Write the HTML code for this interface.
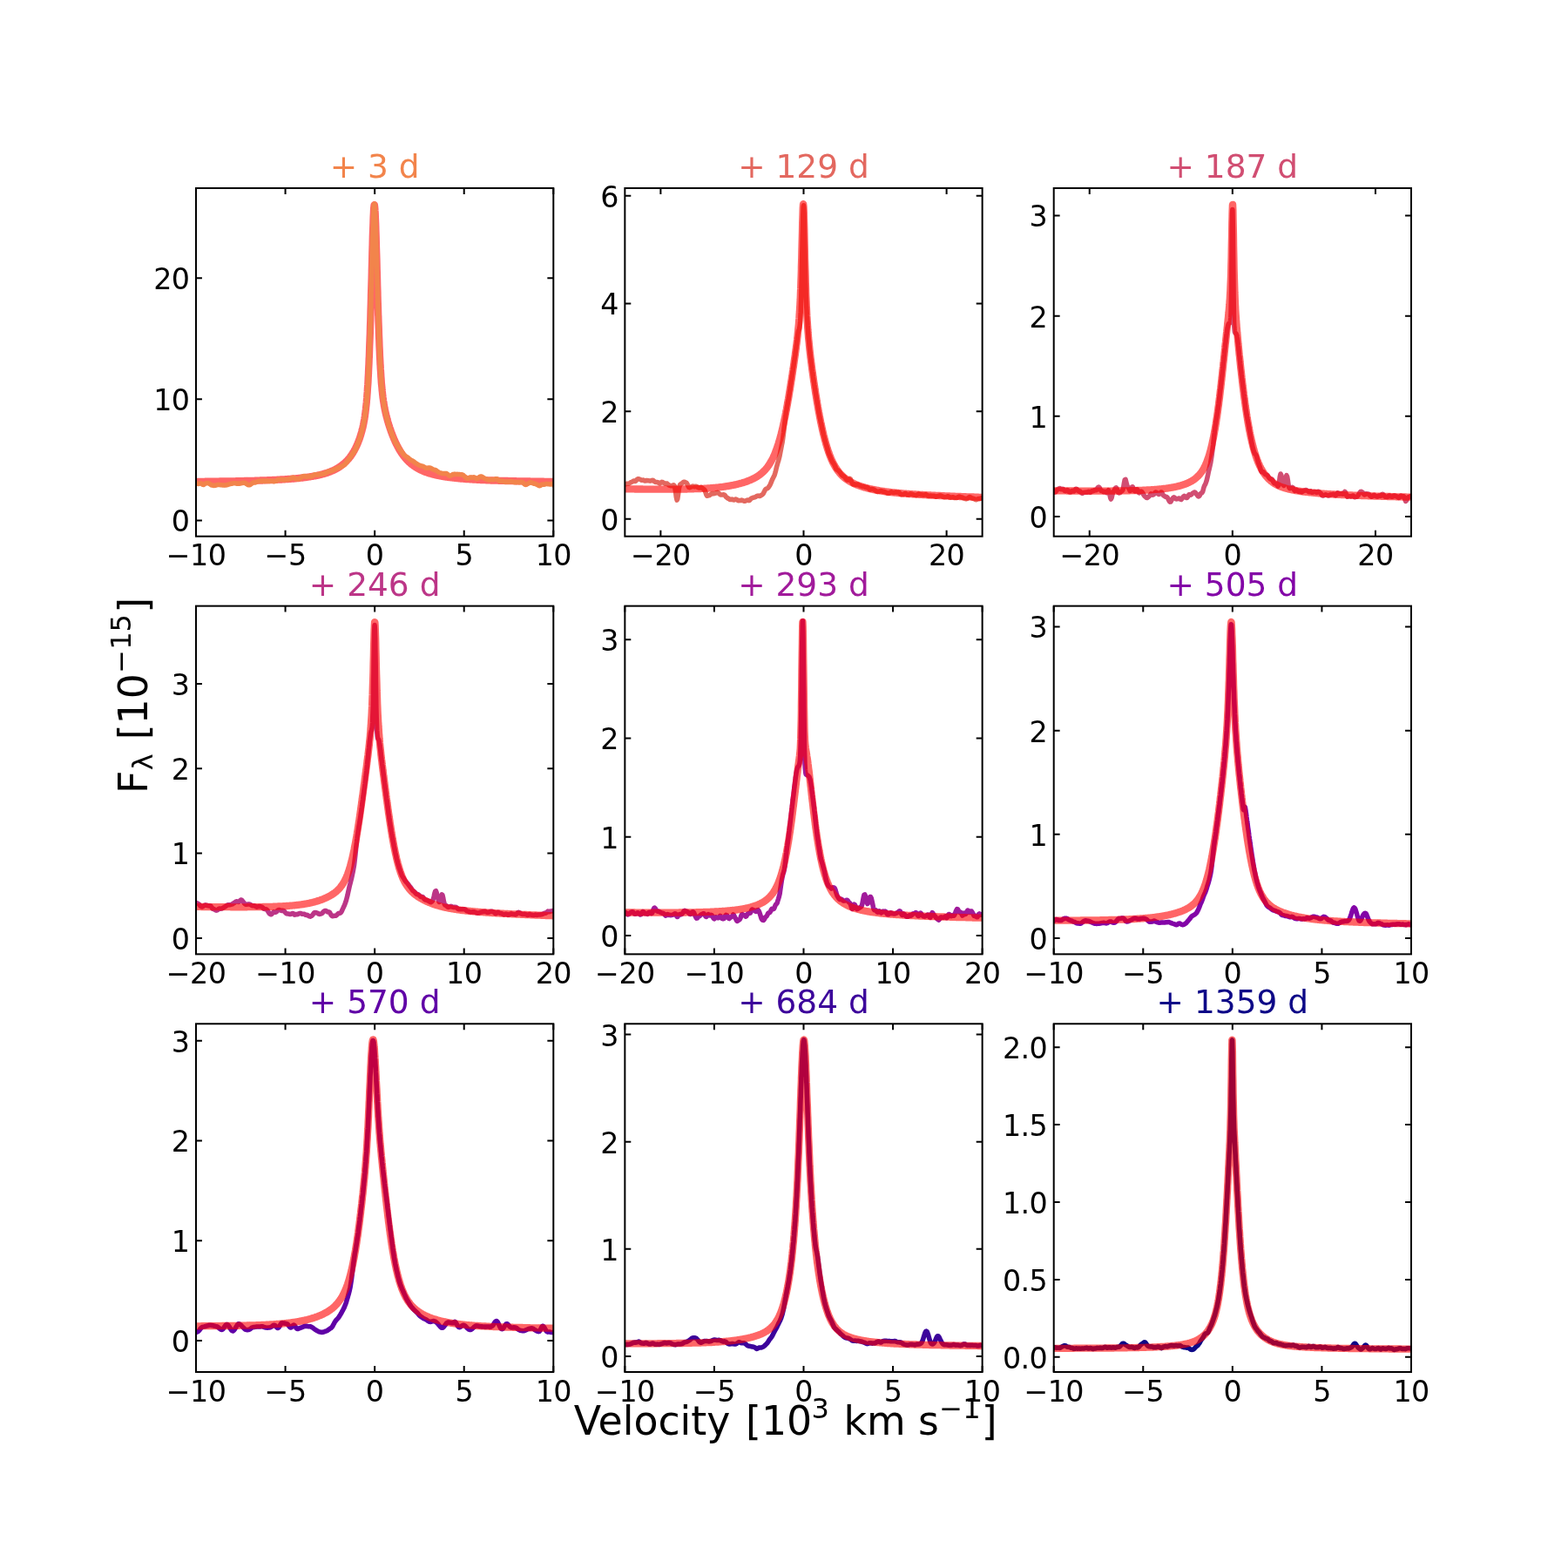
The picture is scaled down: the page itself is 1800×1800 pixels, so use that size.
<!DOCTYPE html>
<html lang="en">
<head>
<meta charset="utf-8">
<title>Line profile evolution</title>
<style>
html,body{margin:0;padding:0;background:#fff;}
body{width:1800px;height:1800px;overflow:hidden;}
svg{display:block;}
svg text{font-family:"DejaVu Sans","Liberation Sans",sans-serif;}
.tl text{font-size:33.33px;letter-spacing:-0.6px;}
.tt{font-size:37.5px;}
.lab{font-size:45.83px;}
.sup{font-size:32.08px;}
</style>
</head>
<body>
<svg xmlns="http://www.w3.org/2000/svg" width="1800" height="1800" viewBox="0 0 1800 1800">
<rect width="1800" height="1800" fill="#fff"/>
<defs><clipPath id="c0"><rect x="225" y="216" width="410.29" height="399.71"/></clipPath><clipPath id="c1"><rect x="717.35" y="216" width="410.29" height="399.71"/></clipPath><clipPath id="c2"><rect x="1209.71" y="216" width="410.29" height="399.71"/></clipPath><clipPath id="c3"><rect x="225" y="695.65" width="410.29" height="399.71"/></clipPath><clipPath id="c4"><rect x="717.35" y="695.65" width="410.29" height="399.71"/></clipPath><clipPath id="c5"><rect x="1209.71" y="695.65" width="410.29" height="399.71"/></clipPath><clipPath id="c6"><rect x="225" y="1175.29" width="410.29" height="399.71"/></clipPath><clipPath id="c7"><rect x="717.35" y="1175.29" width="410.29" height="399.71"/></clipPath><clipPath id="c8"><rect x="1209.71" y="1175.29" width="410.29" height="399.71"/></clipPath></defs>
<g class="panel">
<g clip-path="url(#c0)" fill="none" stroke-linejoin="round" stroke-linecap="square">
<polyline stroke="#f00" stroke-opacity="0.6" stroke-width="8.33" points="220.1,552.9 220.8,552.9 221.6,552.9 222.3,552.9 223.1,552.9 223.8,552.9 224.6,552.9 225.3,552.8 226.1,552.8 226.8,552.8 227.6,552.8 228.3,552.8 229.1,552.8 229.8,552.8 230.6,552.8 231.4,552.8 232.1,552.8 232.9,552.8 233.6,552.8 234.4,552.8 235.1,552.8 235.9,552.7 236.6,552.7 237.4,552.7 238.1,552.7 238.9,552.7 239.6,552.7 240.4,552.7 241.1,552.7 241.9,552.7 242.6,552.7 243.4,552.7 244.1,552.7 244.9,552.6 245.6,552.6 246.4,552.6 247.1,552.6 247.9,552.6 248.6,552.6 249.4,552.6 250.1,552.6 250.9,552.6 251.6,552.6 252.4,552.5 253.1,552.5 253.9,552.5 254.6,552.5 255.4,552.5 256.2,552.5 256.9,552.5 257.7,552.5 258.4,552.5 259.2,552.4 259.9,552.4 260.7,552.4 261.4,552.4 262.2,552.4 262.9,552.4 263.7,552.4 264.4,552.4 265.2,552.4 265.9,552.3 266.7,552.3 267.4,552.3 268.2,552.3 268.9,552.3 269.7,552.3 270.4,552.3 271.2,552.2 271.9,552.2 272.7,552.2 273.4,552.2 274.2,552.2 274.9,552.2 275.7,552.2 276.4,552.1 277.2,552.1 277.9,552.1 278.7,552.1 279.5,552.1 280.2,552.1 281,552 281.7,552 282.5,552 283.2,552 284,552 284.7,551.9 285.5,551.9 286.2,551.9 287,551.9 287.7,551.9 288.5,551.9 289.2,551.8 290,551.8 290.7,551.8 291.5,551.8 292.2,551.8 293,551.7 293.7,551.7 294.5,551.7 295.2,551.7 296,551.6 296.7,551.6 297.5,551.6 298.2,551.6 299,551.5 299.7,551.5 300.5,551.5 301.2,551.5 302,551.4 302.8,551.4 303.5,551.4 304.3,551.4 305,551.3 305.8,551.3 306.5,551.3 307.3,551.2 308,551.2 308.8,551.2 309.5,551.2 310.3,551.1 311,551.1 311.8,551.1 312.5,551 313.3,551 314,551 314.8,550.9 315.5,550.9 316.3,550.8 317,550.8 317.8,550.8 318.5,550.7 319.3,550.7 320,550.7 320.8,550.6 321.5,550.6 322.3,550.5 323,550.5 323.8,550.4 324.5,550.4 325.3,550.3 326.1,550.3 326.8,550.3 327.6,550.2 328.3,550.2 329.1,550.1 329.8,550.1 330.6,550 331.3,549.9 332.1,549.9 332.8,549.8 333.6,549.8 334.3,549.7 335.1,549.7 335.8,549.6 336.6,549.5 337.3,549.5 338.1,549.4 338.8,549.3 339.6,549.3 340.3,549.2 341.1,549.1 341.8,549.1 342.6,549 343.3,548.9 344.1,548.8 344.8,548.7 345.6,548.7 346.3,548.6 347.1,548.5 347.8,548.4 348.6,548.3 349.4,548.2 350.1,548.1 350.9,548 351.6,547.9 352.4,547.8 353.1,547.7 353.9,547.6 354.6,547.5 355.4,547.4 356.1,547.3 356.9,547.1 357.6,547 358.4,546.9 359.1,546.8 359.9,546.6 360.6,546.5 361.4,546.4 362.1,546.2 362.9,546.1 363.6,545.9 364.4,545.8 365.1,545.6 365.9,545.4 366.6,545.3 367.4,545.1 368.1,544.9 368.9,544.7 369.6,544.5 370.4,544.3 371.1,544.1 371.9,543.9 372.7,543.7 373.4,543.4 374.2,543.2 374.9,543 375.7,542.7 376.4,542.5 377.2,542.2 377.9,541.9 378.7,541.6 379.4,541.3 380.2,541 380.9,540.7 381.7,540.4 382.4,540.1 383.2,539.7 383.9,539.3 384.7,539 385.4,538.6 386.2,538.2 386.9,537.7 387.7,537.3 388.4,536.9 389.2,536.4 389.9,535.9 390.7,535.4 391.4,534.8 392.2,534.3 392.9,533.7 393.7,533.1 394.4,532.5 395.2,531.8 395.9,531.2 396.7,530.4 397.5,529.7 398.2,528.9 399,528.1 399.7,527.3 400.5,526.4 401.2,525.5 402,524.5 402.7,523.5 403.5,522.4 404.2,521.3 405,520.1 405.7,518.9 406.5,517.6 407.2,516.2 408,514.8 408.7,513.3 409.5,511.7 409.6,511.3 409.9,510.8 410.1,510.2 410.2,510 410.4,509.6 410.7,509 410.9,508.4 411,508.2 411.2,507.7 411.4,507.1 411.7,506.4 411.7,506.3 411.9,505.7 412.2,505 412.5,504.3 412.5,504.2 412.7,503.6 413,502.9 413.2,502.1 413.2,502.1 413.5,501.3 413.7,500.5 414,499.7 414,499.7 414.2,498.9 414.5,498 414.7,497.2 414.8,497.1 415,496.2 415.3,495.3 415.5,494.5 415.5,494.3 415.8,493.3 416,492.3 416.2,491.5 416.3,491.3 416.6,490.2 416.8,489 417,488.2 417.1,487.8 417.3,486.6 417.6,485.3 417.7,484.4 417.8,483.9 418.1,482.5 418.4,481 418.5,480.1 418.6,479.4 418.9,477.8 419.1,476 419.2,475.1 419.4,474.1 419.6,472.1 419.9,470 420,469 420.1,467.7 420.4,465.2 420.7,462.6 420.8,461.6 420.9,459.8 421.2,456.8 421.4,453.5 421.5,452.5 421.7,450 421.9,446.3 422.2,442.3 422.3,441.3 422.5,437.9 422.7,433.3 423,428.3 423,427.5 423.2,422.9 423.5,417.2 423.7,411.2 423.8,410.6 424,404.7 424.2,397.9 424.5,390.6 424.5,390.5 424.8,383 425,375 425.3,367 425.3,366.6 425.5,357.9 425.8,348.8 426,340.6 426,339.5 426.3,329.9 426.6,320.2 426.8,312.2 426.8,310.3 427.1,300.5 427.3,290.8 427.5,283.8 427.6,281.4 427.8,272.4 428.1,264 428.3,258.8 428.4,256.4 428.6,249.6 428.9,244 429,241.3 429.1,239.7 429.4,236.8 429.6,235.4 429.8,235.2 429.9,235.4 430.1,237 430.4,240.1 430.5,242 430.7,244.5 430.9,250.1 431.2,256.7 431.3,259.6 431.4,264.2 431.7,272.4 431.9,281.2 432,284.1 432.2,290.2 432.5,299.5 432.7,308.9 432.8,311.3 433,318.2 433.2,327.5 433.5,336.5 433.5,338.2 433.7,345.3 434,353.8 434.2,362 434.3,362.9 434.5,369.8 434.8,377.3 435,384.3 435,384.7 435.3,391 435.5,397.4 435.8,403.2 435.8,403.3 436,408.9 436.3,414.1 436.5,418.6 436.6,419 436.8,423.5 437.1,427.7 437.3,431.1 437.3,431.7 437.6,435.3 437.8,438.7 438,441.2 438.1,441.8 438.4,444.8 438.6,447.5 438.8,449.3 438.9,450 439.1,452.4 439.4,454.6 439.5,455.9 439.6,456.6 439.9,458.5 440.1,460.3 440.3,461.3 440.4,462.1 440.7,463.7 440.9,465.2 441,465.9 441.2,466.6 441.4,468 441.7,469.3 441.8,469.9 441.9,470.6 442.2,471.8 442.5,473 442.5,473.4 442.7,474.1 443,475.2 443.2,476.3 443.3,476.6 443.5,477.3 443.7,478.3 444,479.3 444.1,479.5 444.3,480.3 444.5,481.2 444.8,482.2 444.8,482.3 445,483.1 445.3,484 445.5,484.8 445.6,484.9 445.8,485.7 446,486.5 446.3,487.4 446.3,487.4 446.6,488.2 446.8,489 447.1,489.8 447.1,489.8 447.3,490.6 447.6,491.4 447.8,492 447.8,492.1 448.1,492.9 448.4,493.6 448.6,494.2 448.6,494.4 448.9,495.1 449.1,495.8 449.3,496.3 449.4,496.5 449.6,497.2 449.9,497.9 450.1,498.3 450.1,498.5 450.4,499.2 450.7,499.9 450.8,500.3 451.6,502.1 452.3,503.9 453.1,505.6 453.8,507.3 454.6,508.9 455.3,510.4 456.1,511.9 456.8,513.3 457.6,514.7 458.3,516 459.1,517.3 459.8,518.5 460.6,519.7 461.3,520.8 462.1,521.9 462.8,522.9 463.6,523.9 464.3,524.8 465.1,525.7 465.8,526.6 466.6,527.5 467.4,528.3 468.1,529 468.9,529.8 469.6,530.5 470.4,531.2 471.1,531.8 471.9,532.5 472.6,533.1 473.4,533.7 474.1,534.2 474.9,534.8 475.6,535.3 476.4,535.8 477.1,536.3 477.9,536.8 478.6,537.2 479.4,537.7 480.1,538.1 480.9,538.5 481.6,538.9 482.4,539.3 483.1,539.6 483.9,540 484.6,540.3 485.4,540.6 486.1,541 486.9,541.3 487.6,541.6 488.4,541.8 489.1,542.1 489.9,542.4 490.7,542.7 491.4,542.9 492.2,543.1 492.9,543.4 493.7,543.6 494.4,543.8 495.2,544 495.9,544.3 496.7,544.5 497.4,544.7 498.2,544.8 498.9,545 499.7,545.2 500.4,545.4 501.2,545.5 501.9,545.7 502.7,545.9 503.4,546 504.2,546.2 504.9,546.3 505.7,546.5 506.4,546.6 507.2,546.7 507.9,546.9 508.7,547 509.4,547.1 510.2,547.2 510.9,547.4 511.7,547.5 512.4,547.6 513.2,547.7 513.9,547.8 514.7,547.9 515.5,548 516.2,548.1 517,548.2 517.7,548.3 518.5,548.4 519.2,548.5 520,548.6 520.7,548.7 521.5,548.7 522.2,548.8 523,548.9 523.7,549 524.5,549.1 525.2,549.1 526,549.2 526.7,549.3 527.5,549.3 528.2,549.4 529,549.5 529.7,549.5 530.5,549.6 531.2,549.7 532,549.7 532.7,549.8 533.5,549.8 534.2,549.9 535,550 535.7,550 536.5,550.1 537.2,550.1 538,550.2 538.8,550.2 539.5,550.3 540.3,550.3 541,550.4 541.8,550.4 542.5,550.5 543.3,550.5 544,550.6 544.8,550.6 545.5,550.6 546.3,550.7 547,550.7 547.8,550.8 548.5,550.8 549.3,550.8 550,550.9 550.8,550.9 551.5,551 552.3,551 553,551 553.8,551.1 554.5,551.1 555.3,551.1 556,551.2 556.8,551.2 557.5,551.2 558.3,551.3 559,551.3 559.8,551.3 560.5,551.3 561.3,551.4 562.1,551.4 562.8,551.4 563.6,551.5 564.3,551.5 565.1,551.5 565.8,551.5 566.6,551.6 567.3,551.6 568.1,551.6 568.8,551.6 569.6,551.7 570.3,551.7 571.1,551.7 571.8,551.7 572.6,551.8 573.3,551.8 574.1,551.8 574.8,551.8 575.6,551.8 576.3,551.9 577.1,551.9 577.8,551.9 578.6,551.9 579.3,551.9 580.1,552 580.8,552 581.6,552 582.3,552 583.1,552 583.8,552.1 584.6,552.1 585.4,552.1 586.1,552.1 586.9,552.1 587.6,552.1 588.4,552.2 589.1,552.2 589.9,552.2 590.6,552.2 591.4,552.2 592.1,552.2 592.9,552.3 593.6,552.3 594.4,552.3 595.1,552.3 595.9,552.3 596.6,552.3 597.4,552.3 598.1,552.4 598.9,552.4 599.6,552.4 600.4,552.4 601.1,552.4 601.9,552.4 602.6,552.4 603.4,552.5 604.1,552.5 604.9,552.5 605.6,552.5 606.4,552.5 607.1,552.5 607.9,552.5 608.7,552.5 609.4,552.6 610.2,552.6 610.9,552.6 611.7,552.6 612.4,552.6 613.2,552.6 613.9,552.6 614.7,552.6 615.4,552.6 616.2,552.7 616.9,552.7 617.7,552.7 618.4,552.7 619.2,552.7 619.9,552.7 620.7,552.7 621.4,552.7 622.2,552.7 622.9,552.7 623.7,552.7 624.4,552.8 625.2,552.8 625.9,552.8 626.7,552.8 627.4,552.8 628.2,552.8 628.9,552.8 629.7,552.8 630.4,552.8 631.2,552.8 632,552.8 632.7,552.9 633.5,552.9 634.2,552.9 635,552.9 635.7,552.9 636.5,552.9 637.2,552.9 638,552.9 638.7,552.9 639.5,552.9 640.2,552.9"/>
<polyline stroke="#f2844b" stroke-width="5.56" points="220.1,555.3 220.8,555.2 221.6,555.3 222.3,555.4 223.1,555.5 223.8,555.6 224.6,555.5 225.3,555.4 226.1,555.3 226.8,555.3 227.6,555.4 228.3,555.3 229.1,555.2 229.8,555 230.6,554.9 231.4,555.3 232.1,555.8 232.9,556.3 233.6,556.4 234.4,556 235.1,555.5 235.9,555 236.6,554.7 237.4,554.7 238.1,554.6 238.9,554.6 239.6,554.8 240.4,555.2 241.1,555.8 241.9,556.4 242.6,556.8 243.4,557 244.1,557.2 244.9,557.3 245.6,557.4 246.4,557.3 247.1,557.2 247.9,557 248.6,556.8 249.4,556.6 250.1,556.4 250.9,556.4 251.6,556.5 252.4,556.6 253.1,556.7 253.9,556.8 254.6,556.8 255.4,556.9 256.2,557 256.9,557 257.7,557.1 258.4,557 259.2,556.9 259.9,556.8 260.7,556.7 261.4,556.5 262.2,556.2 262.9,555.9 263.7,555.7 264.4,555.5 265.2,555.3 265.9,555.2 266.7,555 267.4,554.9 268.2,554.7 268.9,554.7 269.7,554.7 270.4,554.9 271.2,555.1 271.9,555.2 272.7,555.1 273.4,555.1 274.2,555.1 274.9,555.2 275.7,555.1 276.4,554.9 277.2,554.7 277.9,554.5 278.7,554.4 279.5,554.3 280.2,554.3 281,554.4 281.7,554.7 282.5,555.2 283.2,555.7 284,556.2 284.7,556.6 285.5,556.8 286.2,556.7 287,556.5 287.7,556.1 288.5,555.5 289.2,555 290,554.4 290.7,554.1 291.5,554 292.2,553.9 293,553.9 293.7,553.6 294.5,553.3 295.2,553 296,552.7 296.7,552.5 297.5,552.3 298.2,552.2 299,552.2 299.7,552.2 300.5,552.2 301.2,552.1 302,552.1 302.8,552.2 303.5,552.4 304.3,552.4 305,552.2 305.8,552 306.5,552 307.3,552.2 308,552.4 308.8,552.5 309.5,552.4 310.3,552.3 311,552.1 311.8,552.1 312.5,552.2 313.3,552.4 314,552.6 314.8,552.7 315.5,552.6 316.3,552.4 317,552.1 317.8,551.6 318.5,551.1 319.3,550.7 320,550.6 320.8,550.5 321.5,550.5 322.3,550.5 323,550.5 323.8,550.5 324.5,550.6 325.3,550.8 326.1,550.9 326.8,550.9 327.6,550.7 328.3,550.5 329.1,550.4 329.8,550.5 330.6,550.5 331.3,550.3 332.1,550 332.8,549.6 333.6,549.3 334.3,548.9 335.1,548.5 335.8,548.2 336.6,548.2 337.3,548.6 338.1,549 338.8,549.4 339.6,549.6 340.3,549.7 341.1,549.8 341.8,549.9 342.6,549.9 343.3,549.7 344.1,549.3 344.8,548.8 345.6,548.1 346.3,547.6 347.1,547.1 347.8,546.8 348.6,546.5 349.4,546.5 350.1,546.7 350.9,547.1 351.6,547.4 352.4,547.4 353.1,547.1 353.9,546.8 354.6,546.6 355.4,546.7 356.1,547 356.9,547.1 357.6,547 358.4,546.7 359.1,546.1 359.9,545.7 360.6,545.2 361.4,544.9 362.1,544.7 362.9,544.8 363.6,545 364.4,545.1 365.1,545.1 365.9,544.8 366.6,544.5 367.4,544.3 368.1,544.2 368.9,544.1 369.6,544.1 370.4,544.1 371.1,544 371.9,543.9 372.7,543.7 373.4,543.3 374.2,542.9 374.9,542.3 375.7,541.8 376.4,541.4 377.2,541.2 377.9,541 378.7,541 379.4,541 380.2,540.8 380.9,540.5 381.7,540.2 382.4,539.7 383.2,539.3 383.9,538.9 384.7,538.6 385.4,538.3 386.2,538 386.9,537.7 387.7,537.3 388.4,537 389.2,536.8 389.9,536.5 390.7,536.2 391.4,535.8 392.2,535.4 392.9,535 393.7,534.6 394.4,534.2 395.2,533.7 395.9,533 396.7,532.1 397.5,531.2 398.2,530.2 399,529.2 399.7,528.2 400.5,527.2 401.2,526.2 402,525.1 402.7,524 403.5,522.8 404.2,521.7 405,520.6 405.7,519.6 406.5,518.6 407.2,517.4 408,516 408.7,514.3 409.5,512.4 409.6,512 409.9,511.3 410.1,510.6 410.2,510.4 410.4,509.9 410.7,509.3 410.9,508.6 411,508.4 411.2,507.9 411.4,507.3 411.7,506.6 411.7,506.5 411.9,506 412.2,505.3 412.5,504.6 412.5,504.5 412.7,503.9 413,503.2 413.2,502.4 413.2,502.3 413.5,501.6 413.7,500.8 414,499.9 414,499.9 414.2,499 414.5,498.1 414.7,497.2 414.8,497.2 415,496.2 415.3,495.2 415.5,494.4 415.5,494.2 415.8,493.2 416,492.2 416.2,491.4 416.3,491.1 416.6,490 416.8,488.9 417,488.1 417.1,487.7 417.3,486.5 417.6,485.2 417.7,484.4 417.8,483.9 418.1,482.5 418.4,480.9 418.5,480 418.6,479.3 418.9,477.6 419.1,475.8 419.2,474.9 419.4,473.9 419.6,471.9 419.9,469.7 420,468.8 420.1,467.4 420.4,465 420.7,462.3 420.8,461.3 420.9,459.5 421.2,456.5 421.4,453.3 421.5,452.3 421.7,449.8 421.9,446 422.2,442 422.3,441.1 422.5,437.7 422.7,433 423,428.1 423,427.3 423.2,422.8 423.5,417.1 423.7,411 423.8,410.5 424,404.6 424.2,397.8 424.5,390.6 424.5,390.4 424.8,383 425,375 425.3,367 425.3,366.6 425.5,357.8 425.8,348.8 426,340.6 426,339.4 426.3,329.8 426.6,320 426.8,312 426.8,310.2 427.1,300.3 427.3,290.5 427.5,283.4 427.6,281 427.8,271.9 428.1,263.4 428.3,258 428.4,255.6 428.6,248.8 428.9,243.1 429,240.3 429.1,238.7 429.4,235.7 429.6,234.3 429.8,234.1 429.9,234.4 430.1,236 430.4,239.1 430.5,241 430.7,243.5 430.9,249.2 431.2,256 431.3,258.9 431.4,263.6 431.7,271.9 431.9,280.7 432,283.7 432.2,289.9 432.5,299.2 432.7,308.7 432.8,311.1 433,318.1 433.2,327.4 433.5,336.4 433.5,338.1 433.7,345.3 434,353.8 434.2,362 434.3,363 434.5,369.9 434.8,377.4 435,384.5 435,384.9 435.3,391.2 435.5,397.6 435.8,403.5 435.8,403.6 436,409.2 436.3,414.4 436.5,418.9 436.6,419.3 436.8,423.8 437.1,428 437.3,431.3 437.3,431.9 437.6,435.6 437.8,438.9 438,441.4 438.1,442 438.4,444.9 438.6,447.6 438.8,449.4 438.9,450.1 439.1,452.4 439.4,454.6 439.5,455.9 439.6,456.6 439.9,458.5 440.1,460.3 440.3,461.2 440.4,461.9 440.7,463.5 440.9,465 441,465.8 441.2,466.5 441.4,467.9 441.7,469.2 441.8,469.8 441.9,470.5 442.2,471.8 442.5,473 442.5,473.4 442.7,474.2 443,475.3 443.2,476.5 443.3,476.8 443.5,477.6 443.7,478.7 444,479.8 444.1,480 444.3,480.8 444.5,481.9 444.8,482.9 444.8,483 445,483.8 445.3,484.8 445.5,485.7 445.6,485.8 445.8,486.6 446,487.5 446.3,488.3 446.3,488.3 446.6,489.2 446.8,489.9 447.1,490.7 447.1,490.7 447.3,491.4 447.6,492.1 447.8,492.7 447.8,492.8 448.1,493.5 448.4,494.1 448.6,494.7 448.6,494.8 448.9,495.4 449.1,496.1 449.3,496.6 449.4,496.8 449.6,497.5 449.9,498.2 450.1,498.6 450.1,498.8 450.4,499.5 450.7,500.2 450.8,500.6 451.6,502.6 452.3,504.4 453.1,506.1 453.8,507.6 454.6,508.8 455.3,509.8 456.1,510.8 456.8,512 457.6,513.3 458.3,514.7 459.1,516 459.8,516.9 460.6,517.8 461.3,518.7 462.1,519.8 462.8,520.9 463.6,521.9 464.3,522.7 465.1,523.3 465.8,523.9 466.6,524.3 467.4,524.7 468.1,525.2 468.9,525.9 469.6,526.5 470.4,527.2 471.1,527.7 471.9,528.2 472.6,528.6 473.4,528.9 474.1,529.3 474.9,529.8 475.6,530.4 476.4,531.1 477.1,531.7 477.9,532.1 478.6,532.5 479.4,533 480.1,533.4 480.9,533.8 481.6,534.1 482.4,534.4 483.1,534.7 483.9,534.9 484.6,535.1 485.4,535.2 486.1,535.5 486.9,536 487.6,536.5 488.4,536.9 489.1,537.2 489.9,537.3 490.7,537.2 491.4,537.1 492.2,537 492.9,537 493.7,537.1 494.4,537.3 495.2,537.7 495.9,538.2 496.7,538.7 497.4,539 498.2,539.2 498.9,539.3 499.7,539.6 500.4,539.9 501.2,540.4 501.9,540.9 502.7,541.5 503.4,542.1 504.2,542.5 504.9,542.8 505.7,542.9 506.4,543 507.2,543.3 507.9,543.5 508.7,543.6 509.4,543.6 510.2,543.5 510.9,543.5 511.7,543.5 512.4,543.6 513.2,544 513.9,544.5 514.7,545.2 515.5,545.8 516.2,546.1 517,546.1 517.7,545.8 518.5,545.4 519.2,544.9 520,544.5 520.7,544.4 521.5,544.3 522.2,544.4 523,544.4 523.7,544.5 524.5,544.4 525.2,544.4 526,544.5 526.7,544.5 527.5,544.6 528.2,544.7 529,544.7 529.7,544.7 530.5,544.9 531.2,545.2 532,545.7 532.7,546.4 533.5,547 534.2,547.7 535,548.3 535.7,548.8 536.5,549.2 537.2,549.2 538,548.9 538.8,548.4 539.5,548 540.3,547.9 541,548 541.8,548.2 542.5,548.1 543.3,547.9 544,547.8 544.8,548.1 545.5,548.5 546.3,549.1 547,549.4 547.8,549.4 548.5,549 549.3,548.4 550,547.8 550.8,547.3 551.5,547 552.3,547 553,547.2 553.8,547.5 554.5,548 555.3,548.6 556,549.1 556.8,549.4 557.5,549.7 558.3,549.9 559,550.2 559.8,550.5 560.5,550.8 561.3,551 562.1,550.9 562.8,550.7 563.6,550.5 564.3,550.5 565.1,550.6 565.8,550.7 566.6,550.7 567.3,550.4 568.1,550.1 568.8,549.8 569.6,549.7 570.3,549.8 571.1,550.2 571.8,550.9 572.6,551.6 573.3,552.2 574.1,552.4 574.8,552.4 575.6,552.2 576.3,552.2 577.1,552.3 577.8,552.7 578.6,553 579.3,553.2 580.1,553.2 580.8,553 581.6,552.9 582.3,553 583.1,553.2 583.8,553.3 584.6,553.2 585.4,552.9 586.1,552.7 586.9,552.6 587.6,552.8 588.4,553 589.1,553.3 589.9,553.5 590.6,553.7 591.4,553.8 592.1,553.8 592.9,553.6 593.6,553.5 594.4,553.5 595.1,553.6 595.9,553.7 596.6,553.7 597.4,553.6 598.1,553.4 598.9,553.4 599.6,553.6 600.4,554.1 601.1,554.8 601.9,555.6 602.6,556.2 603.4,556.4 604.1,556.3 604.9,555.8 605.6,555.4 606.4,555.1 607.1,554.7 607.9,554.2 608.7,553.8 609.4,553.7 610.2,553.9 610.9,554.3 611.7,554.7 612.4,555 613.2,555.2 613.9,555.3 614.7,555.5 615.4,555.8 616.2,556.2 616.9,556.6 617.7,557 618.4,557.4 619.2,557.7 619.9,557.6 620.7,557.2 621.4,556.6 622.2,556.2 622.9,556.1 623.7,556.2 624.4,556.3 625.2,556.1 625.9,555.9 626.7,555.6 627.4,555.5 628.2,555.6 628.9,555.7 629.7,555.7 630.4,555.8 631.2,555.9 632,555.9 632.7,555.8 633.5,555.6 634.2,555.6 635,556.1 635.7,557 636.5,557.9 637.2,558.3 638,558.2 638.7,557.7 639.5,557.2 640.2,556.8"/>
</g>
<path d="M225 615.71v-6.94M225 216v6.94M327.57 615.71v-6.94M327.57 216v6.94M430.15 615.71v-6.94M430.15 216v6.94M532.72 615.71v-6.94M532.72 216v6.94M635.29 615.71v-6.94M635.29 216v6.94M225 597.51h6.94M635.29 597.51h-6.94M225 458.33h6.94M635.29 458.33h-6.94M225 319.14h6.94M635.29 319.14h-6.94" stroke="#000" stroke-width="2" fill="none"/>
<rect x="225" y="216" width="410.29" height="399.71" fill="none" stroke="#000" stroke-width="2"/>
<g class="tl" text-anchor="middle">
<text x="225" y="649.21">−10</text>
<text x="327.57" y="649.21">−5</text>
<text x="430.15" y="649.21">0</text>
<text x="532.72" y="649.21">5</text>
<text x="635.29" y="649.21">10</text>
</g>
<g class="tl" text-anchor="end">
<text x="217.4" y="610.41">0</text>
<text x="217.4" y="471.23">10</text>
<text x="217.4" y="332.04">20</text>
</g>
<text class="tt" text-anchor="middle" x="430.15" y="204" fill="#f2844b">+ 3 d</text>
</g>
<g class="panel">
<g clip-path="url(#c1)" fill="none" stroke-linejoin="round" stroke-linecap="square">
<polyline stroke="#e3685f" stroke-width="5.56" points="712.4,555.6 713.2,555.5 713.9,555.5 714.7,555.6 715.4,555.5 716.2,555.6 716.9,555.7 717.7,555.8 718.4,555.7 719.2,555.4 719.9,555.2 720.7,555.2 721.4,555.2 722.2,555 723,554.5 723.7,554 724.5,553.6 725.2,553.3 726,552.9 726.7,552.4 727.5,552 728.2,552.2 729,552.5 729.7,552.2 730.5,551.4 731.2,550.5 732,549.9 732.7,549.7 733.5,549.9 734.2,550.2 735,550.5 735.7,550.8 736.5,551.2 737.2,551.3 738,551.1 738.7,551.1 739.5,551.6 740.2,552 741,552 741.7,551.6 742.5,551.5 743.2,551.6 744,551.8 744.7,551.8 745.5,551.9 746.3,552.1 747,552 747.8,551.7 748.5,551.4 749.3,551.3 750,551.6 750.8,552.3 751.5,553 752.3,553.3 753,553.4 753.8,553.5 754.5,553.6 755.3,553.8 756,554.3 756.8,554.9 757.5,555 758.3,554.4 759,553.7 759.8,553.3 760.5,553.5 761.3,553.9 762,554.3 762.8,554.8 763.5,555.1 764.3,555.1 765,555 765.8,555.1 766.5,555.8 767.3,556.5 768,557 768.8,557.3 769.6,557.5 770.3,557.8 771.1,557.8 771.8,557.5 772.6,557 773.3,556.8 774.1,557.5 774.8,560 775.6,564.8 776.3,570.7 777.1,574.1 777.8,572.6 778.6,567.2 779.3,561.4 780.1,557.8 780.8,556.2 781.6,555.6 782.3,555.2 783.1,554.6 783.8,554 784.6,553.4 785.3,553.2 786.1,553.3 786.8,553.7 787.6,554.1 788.3,554.6 789.1,556 789.8,557.8 790.6,559.3 791.3,559.7 792.1,559.5 792.9,559.2 793.6,558.8 794.4,558.3 795.1,558.1 795.9,558.3 796.6,558.6 797.4,558.7 798.1,558.4 798.9,558.3 799.6,558.4 800.4,558.9 801.1,559.4 801.9,559.8 802.6,560 803.4,559.9 804.1,559.6 804.9,559.4 805.6,559.8 806.4,560.5 807.1,561.1 807.9,561.6 808.6,562.2 809.4,563.4 810.1,565.7 810.9,568.1 811.6,569.2 812.4,569 813.1,568.9 813.9,568.7 814.6,568.5 815.4,567.9 816.1,567.3 816.9,566.8 817.7,566.6 818.4,566.7 819.2,566.7 819.9,566.6 820.7,566.4 821.4,566.2 822.2,565.9 822.9,565.6 823.7,565.4 824.4,565.6 825.2,566.3 825.9,567 826.7,567.6 827.4,567.9 828.2,568 828.9,568 829.7,567.9 830.4,567.8 831.2,567.9 831.9,568.3 832.7,569.3 833.4,570.3 834.2,571 834.9,571.6 835.7,572.1 836.4,572.4 837.2,572.9 837.9,573.4 838.7,573.5 839.4,573.3 840.2,573.1 841,573.4 841.7,573.8 842.5,573.9 843.2,573.6 844,573.2 844.7,573.1 845.5,573.4 846.2,574 847,574.5 847.7,574.7 848.5,574.5 849.2,574.5 850,574.6 850.7,574.4 851.5,574.1 852.2,574.3 853,574.7 853.7,575 854.5,575.2 855.2,575.2 856,574.9 856.7,574.6 857.5,574.2 858.2,574.1 859,574.2 859.7,574.6 860.5,574.4 861.2,573.5 862,572.4 862.7,571.9 863.5,571.7 864.3,571.4 865,571.1 865.8,570.9 866.5,570.8 867.3,570.5 868,570 868.8,569.6 869.5,569.3 870.3,569.1 871,569.3 871.8,569.5 872.5,569.3 873.3,568.8 874,568.4 874.8,568.1 875.5,567.4 876.3,566.4 877,565 877.8,563.4 878.5,562 879.3,561.3 880,561 880.8,560.7 881.5,560.2 882.3,559.3 883,558.2 883.8,557 884.5,555.6 885.3,553.7 886,551.8 886.8,550 887.6,548.4 888.3,547 889.1,545.4 889.8,543.1 890.6,540.2 891.3,537 892.1,534.1 892.8,531.5 893.6,529 894.3,526.3 895.1,523 895.8,519.2 896.6,515.2 897.3,511.4 898.1,507.7 898.8,502.8 899.6,496.6 900.3,489.9 901.1,483.2 901.8,477.1 902,475.9 902.2,474.2 902.5,472.5 902.6,472 902.8,471 903,469.7 903.3,468.3 903.3,468 903.5,467 903.8,465.6 904,464.2 904.1,464 904.3,462.8 904.5,461.4 904.8,460 904.8,459.8 905.1,458.5 905.3,457 905.6,455.4 905.6,455.3 905.8,453.8 906.1,452.2 906.3,450.6 906.3,450.6 906.6,448.9 906.9,447.2 907.1,445.7 907.1,445.5 907.4,443.8 907.6,442.1 907.8,440.6 907.9,440.4 908.1,438.6 908.4,436.9 908.6,435.6 908.7,435.2 908.9,433.5 909.2,431.8 909.3,430.6 909.4,430.1 909.7,428.5 909.9,426.8 910.1,425.7 910.2,425.1 910.4,423.5 910.7,421.8 910.9,420.8 911,420 911.2,418.3 911.5,416.5 911.6,415.6 911.7,414.7 912,412.9 912.2,411.1 912.4,410.3 912.5,409.3 912.8,407.4 913,405.6 913.1,404.9 913.3,403.7 913.5,401.8 913.8,399.9 913.9,399.3 914,398 914.3,396 914.6,394 914.6,393.5 914.8,391.9 915.1,389.9 915.3,387.9 915.4,387.5 915.6,385.9 915.8,384 916.1,382.4 916.1,382.3 916.3,381.1 916.6,380.1 916.9,379.4 916.9,379.4 917.1,378.8 917.4,378.2 917.6,377.3 917.6,377.3 917.9,376 918.1,374.3 918.4,372.1 918.4,371.8 918.7,368.4 918.9,364 919.1,359.4 919.2,358.2 919.4,351.1 919.7,342.5 919.9,335.1 919.9,332.4 920.2,321 920.4,308.6 920.6,299.9 920.7,295.6 921,282.6 921.2,270.1 921.4,263.1 921.5,258.8 921.7,249.2 922,241.9 922.1,239 922.2,237.2 922.5,235.8 922.8,237.8 922.9,240 923,243.3 923.3,251.8 923.5,262.4 923.6,267.1 923.8,274.6 924,287.3 924.3,300 924.4,304.1 924.6,312.1 924.8,323.1 925.1,332.7 925.1,335 925.3,340.9 925.6,347.7 925.8,353.1 925.9,354 926.1,357.5 926.3,361.2 926.6,365.1 926.6,365.6 926.9,369.2 927.1,373.4 927.4,377.4 927.4,377.6 927.6,381.1 927.9,384.4 928.1,387.4 928.1,387.5 928.4,390.4 928.7,393.1 928.9,395.4 928.9,395.7 929.2,398.2 929.4,400.6 929.6,402.6 929.7,402.9 929.9,405.2 930.2,407.5 930.4,409.1 930.4,409.6 930.7,411.7 931,413.8 931.1,415.2 931.2,415.8 931.5,417.8 931.7,419.7 931.9,421 932,421.7 932.2,423.6 932.5,425.5 932.6,426.6 932.8,427.4 933,429.3 933.3,431.2 933.4,432.1 933.5,433.1 933.8,434.9 934,436.6 934.1,437.4 934.3,438.4 934.6,440.1 934.8,441.7 934.9,442.3 935.1,443.3 935.3,444.9 935.6,446.5 935.7,447 935.8,448.1 936.1,449.7 936.3,451.3 936.4,451.7 936.6,452.9 936.9,454.5 937.1,456.1 937.2,456.3 937.4,457.6 937.6,459.2 937.9,460.7 937.9,460.9 938.1,462.3 938.4,463.8 938.7,465.4 938.7,465.4 938.9,467 939.2,468.6 939.4,470 939.4,470.1 939.7,471.7 939.9,473.1 940.2,474.4 940.2,474.6 940.5,476 940.7,477.3 940.9,478.3 941,478.5 941.2,479.7 941.5,480.8 941.7,481.7 941.7,482 942,483.1 942.2,484.3 942.4,485 942.5,485.4 942.8,486.6 943,487.9 943.2,488.7 943.9,492.4 944.7,495.8 945.4,499.1 946.2,502.2 946.9,505.1 947.7,507.7 948.4,510.2 949.2,512.8 949.9,515.4 950.7,518.1 951.4,520.6 952.2,522.4 952.9,524 953.7,525.7 954.4,527.6 955.2,529.3 955.9,530.5 956.7,531.6 957.4,532.8 958.2,534.3 959,536.2 959.7,537.9 960.5,538.9 961.2,539.4 962,540 962.7,540.6 963.5,541.3 964.2,542.1 965,543.3 965.7,544.4 966.5,545.3 967.2,546 968,546.4 968.7,546.8 969.5,547.4 970.2,548.4 971,549.5 971.7,550.4 972.5,551 973.2,551.2 974,550.9 974.7,550.1 975.5,549.4 976.2,549.8 977,551.5 977.7,553.5 978.5,555.1 979.2,555.9 980,555.9 980.7,555.8 981.5,556 982.3,556.4 983,556.4 983.8,556.1 984.5,556 985.3,556.3 986,556.9 986.8,557.3 987.5,557.6 988.3,557.8 989,558.2 989.8,558.5 990.5,558.6 991.3,558.4 992,558.5 992.8,559 993.5,559.5 994.3,559.6 995,559.6 995.8,559.6 996.5,560.1 997.3,560.9 998,561.6 998.8,562 999.5,561.9 1000.3,561.6 1001,561.4 1001.8,561.5 1002.5,561.8 1003.3,562.1 1004,562.6 1004.8,563.1 1005.6,563.6 1006.3,564.1 1007.1,564.4 1007.8,564.3 1008.6,564.3 1009.3,564.2 1010.1,563.8 1010.8,563.5 1011.6,563.5 1012.3,563.8 1013.1,564.2 1013.8,564.4 1014.6,564.4 1015.3,564.5 1016.1,564.9 1016.8,565.1 1017.6,565.5 1018.3,565.9 1019.1,566.3 1019.8,566.4 1020.6,566.2 1021.3,565.7 1022.1,565.2 1022.8,564.8 1023.6,564.8 1024.3,565.2 1025.1,565.5 1025.8,565.6 1026.6,565.5 1027.3,565.2 1028.1,565.1 1028.9,565.1 1029.6,565.3 1030.4,565.4 1031.1,565.3 1031.9,565.3 1032.6,565.9 1033.4,566.8 1034.1,567.6 1034.9,567.8 1035.6,567.7 1036.4,567.5 1037.1,567.4 1037.9,567 1038.6,566.6 1039.4,566.5 1040.1,566.9 1040.9,567.4 1041.6,567.8 1042.4,568 1043.1,567.9 1043.9,567.5 1044.6,567.1 1045.4,567.1 1046.1,567.2 1046.9,567.3 1047.6,567.5 1048.4,567.8 1049.1,568 1049.9,568.2 1050.6,568.2 1051.4,568.4 1052.1,568.5 1052.9,568.2 1053.7,567.6 1054.4,567.1 1055.2,567.1 1055.9,567.5 1056.7,567.8 1057.4,567.9 1058.2,567.9 1058.9,568.1 1059.7,568.2 1060.4,568.2 1061.2,568 1061.9,567.9 1062.7,567.7 1063.4,567.9 1064.2,568.4 1064.9,569 1065.7,569.5 1066.4,569.5 1067.2,569.3 1067.9,569 1068.7,569.1 1069.4,569.2 1070.2,569.2 1070.9,569.3 1071.7,569.4 1072.4,569.4 1073.2,569.7 1073.9,570.1 1074.7,570.1 1075.4,569.8 1076.2,569.7 1077,569.6 1077.7,569.3 1078.5,569.1 1079.2,569 1080,569.1 1080.7,569.3 1081.5,569.7 1082.2,570.1 1083,570.5 1083.7,570.7 1084.5,570.6 1085.2,570.5 1086,570.5 1086.7,570.3 1087.5,569.9 1088.2,569.7 1089,570 1089.7,570.7 1090.5,571.1 1091.2,571.2 1092,571.1 1092.7,570.9 1093.5,570.8 1094.2,570.8 1095,571.1 1095.7,571.5 1096.5,571.5 1097.2,571.5 1098,571.5 1098.7,571.3 1099.5,570.8 1100.3,570.3 1101,570.1 1101.8,570.3 1102.5,570.6 1103.3,570.8 1104,570.9 1104.8,571.2 1105.5,571.6 1106.3,571.9 1107,572.2 1107.8,572.5 1108.5,572.7 1109.3,572.7 1110,572.4 1110.8,572.1 1111.5,571.6 1112.3,571 1113,570.6 1113.8,570.7 1114.5,571.2 1115.3,571.7 1116,571.9 1116.8,572.1 1117.5,572.4 1118.3,572.7 1119,573.1 1119.8,573.5 1120.5,573.7 1121.3,573.6 1122,573.1 1122.8,572.6 1123.6,572.6 1124.3,572.6 1125.1,572.3 1125.8,572 1126.6,571.7 1127.3,571.7 1128.1,571.8 1128.8,571.7 1129.6,571.9 1130.3,572.5 1131.1,573.3 1131.8,573.9 1132.6,574.1"/>
<polyline stroke="#f00" stroke-opacity="0.6" stroke-width="8.33" points="712.4,561.3 713.2,561.3 713.9,561.3 714.7,561.3 715.4,561.3 716.2,561.3 716.9,561.3 717.7,561.3 718.4,561.3 719.2,561.3 719.9,561.4 720.7,561.4 721.4,561.4 722.2,561.4 723,561.4 723.7,561.4 724.5,561.4 725.2,561.4 726,561.4 726.7,561.4 727.5,561.4 728.2,561.4 729,561.5 729.7,561.5 730.5,561.5 731.2,561.5 732,561.5 732.7,561.5 733.5,561.5 734.2,561.5 735,561.5 735.7,561.5 736.5,561.5 737.2,561.5 738,561.5 738.7,561.6 739.5,561.6 740.2,561.6 741,561.6 741.7,561.6 742.5,561.6 743.2,561.6 744,561.6 744.7,561.6 745.5,561.6 746.3,561.6 747,561.6 747.8,561.6 748.5,561.6 749.3,561.6 750,561.6 750.8,561.6 751.5,561.6 752.3,561.6 753,561.6 753.8,561.6 754.5,561.7 755.3,561.7 756,561.7 756.8,561.7 757.5,561.7 758.3,561.7 759,561.7 759.8,561.7 760.5,561.7 761.3,561.7 762,561.7 762.8,561.7 763.5,561.7 764.3,561.7 765,561.7 765.8,561.7 766.5,561.7 767.3,561.7 768,561.7 768.8,561.7 769.6,561.7 770.3,561.7 771.1,561.7 771.8,561.6 772.6,561.6 773.3,561.6 774.1,561.6 774.8,561.6 775.6,561.6 776.3,561.6 777.1,561.6 777.8,561.6 778.6,561.6 779.3,561.6 780.1,561.6 780.8,561.6 781.6,561.6 782.3,561.6 783.1,561.5 783.8,561.5 784.6,561.5 785.3,561.5 786.1,561.5 786.8,561.5 787.6,561.5 788.3,561.5 789.1,561.4 789.8,561.4 790.6,561.4 791.3,561.4 792.1,561.4 792.9,561.4 793.6,561.3 794.4,561.3 795.1,561.3 795.9,561.3 796.6,561.2 797.4,561.2 798.1,561.2 798.9,561.2 799.6,561.1 800.4,561.1 801.1,561.1 801.9,561.1 802.6,561 803.4,561 804.1,561 804.9,560.9 805.6,560.9 806.4,560.9 807.1,560.8 807.9,560.8 808.6,560.7 809.4,560.7 810.1,560.6 810.9,560.6 811.6,560.6 812.4,560.5 813.1,560.5 813.9,560.4 814.6,560.4 815.4,560.3 816.1,560.2 816.9,560.2 817.7,560.1 818.4,560.1 819.2,560 819.9,559.9 820.7,559.9 821.4,559.8 822.2,559.7 822.9,559.6 823.7,559.6 824.4,559.5 825.2,559.4 825.9,559.3 826.7,559.2 827.4,559.2 828.2,559.1 828.9,559 829.7,558.9 830.4,558.8 831.2,558.7 831.9,558.6 832.7,558.5 833.4,558.3 834.2,558.2 834.9,558.1 835.7,558 836.4,557.9 837.2,557.7 837.9,557.6 838.7,557.5 839.4,557.3 840.2,557.2 841,557 841.7,556.9 842.5,556.7 843.2,556.6 844,556.4 844.7,556.3 845.5,556.1 846.2,555.9 847,555.7 847.7,555.5 848.5,555.3 849.2,555.1 850,554.9 850.7,554.7 851.5,554.5 852.2,554.3 853,554.1 853.7,553.8 854.5,553.6 855.2,553.4 856,553.1 856.7,552.8 857.5,552.6 858.2,552.3 859,552 859.7,551.7 860.5,551.4 861.2,551.1 862,550.8 862.7,550.4 863.5,550.1 864.3,549.7 865,549.4 865.8,549 866.5,548.6 867.3,548.2 868,547.7 868.8,547.3 869.5,546.8 870.3,546.3 871,545.8 871.8,545.3 872.5,544.7 873.3,544.1 874,543.5 874.8,542.9 875.5,542.2 876.3,541.5 877,540.8 877.8,540 878.5,539.2 879.3,538.3 880,537.4 880.8,536.5 881.5,535.4 882.3,534.4 883,533.3 883.8,532.1 884.5,530.8 885.3,529.5 886,528.1 886.8,526.6 887.6,525.1 888.3,523.4 889.1,521.7 889.8,519.9 890.6,517.9 891.3,515.9 892.1,513.8 892.8,511.6 893.6,509.2 894.3,506.7 895.1,504.2 895.8,501.5 896.6,498.6 897.3,495.7 898.1,492.6 898.8,489.4 899.6,486 900.3,482.5 901.1,478.9 901.8,475.2 902,474.4 902.2,473 902.5,471.7 902.6,471.3 902.8,470.4 903,469 903.3,467.6 903.3,467.3 903.5,466.2 903.8,464.8 904,463.4 904.1,463.1 904.3,462 904.5,460.5 904.8,459 904.8,458.9 905.1,457.6 905.3,456.1 905.6,454.6 905.6,454.5 905.8,453 906.1,451.5 906.3,450 906.3,449.9 906.6,448.4 906.9,446.8 907.1,445.4 907.1,445.2 907.4,443.6 907.6,442 907.8,440.7 907.9,440.4 908.1,438.8 908.4,437.1 908.6,435.9 908.7,435.5 908.9,433.8 909.2,432.1 909.3,431 909.4,430.5 909.7,428.8 909.9,427.1 910.1,426 910.2,425.3 910.4,423.6 910.7,421.9 910.9,420.9 911,420.1 911.2,418.4 911.5,416.6 911.6,415.7 911.7,414.8 912,413 912.2,411.2 912.4,410.4 912.5,409.4 912.8,407.6 913,405.7 913.1,405 913.3,403.8 913.5,401.9 913.8,400 913.9,399.4 914,398 914.3,396 914.6,394 914.6,393.5 914.8,391.9 915.1,389.7 915.3,387.5 915.4,387.1 915.6,385.2 915.8,382.8 916.1,380.3 916.1,380.1 916.3,377.7 916.6,374.9 916.9,372 916.9,371.9 917.1,368.9 917.4,365.5 917.6,362.1 917.6,361.9 917.9,357.9 918.1,353.6 918.4,349.4 918.4,348.8 918.7,343.6 918.9,337.7 919.1,332.5 919.2,331.2 919.4,324 919.7,316 919.9,309.5 919.9,307.2 920.2,297.5 920.4,287.2 920.6,279.9 920.7,276.4 921,265.5 921.2,255.1 921.4,249.4 921.5,246 921.7,239 922,235 922.1,234.2 922.2,234.4 922.5,237.3 922.8,243.5 922.9,247.3 923,252.1 923.3,262.5 923.5,273.6 923.6,278.1 923.8,285 924,296 924.3,306.4 924.4,309.6 924.6,316 924.8,324.8 925.1,332.7 925.1,334.6 925.3,339.9 925.6,346.4 925.8,352.3 925.9,353.3 926.1,357.6 926.3,362.5 926.6,366.9 926.6,367.5 926.9,371.1 927.1,374.9 927.4,378.4 927.4,378.6 927.6,381.7 927.9,384.8 928.1,387.7 928.1,387.8 928.4,390.6 928.7,393.3 928.9,395.6 928.9,395.9 929.2,398.3 929.4,400.7 929.6,402.7 929.7,403.1 929.9,405.3 930.2,407.5 930.4,409.2 930.4,409.7 930.7,411.8 931,413.9 931.1,415.3 931.2,415.9 931.5,417.9 931.7,419.9 931.9,421.1 932,421.8 932.2,423.8 932.5,425.7 932.6,426.7 932.8,427.5 933,429.4 933.3,431.2 933.4,432.1 933.5,433 933.8,434.8 934,436.6 934.1,437.4 934.3,438.4 934.6,440.1 934.8,441.8 934.9,442.4 935.1,443.5 935.3,445.2 935.6,446.9 935.7,447.4 935.8,448.6 936.1,450.2 936.3,451.8 936.4,452.2 936.6,453.4 936.9,455 937.1,456.6 937.2,456.9 937.4,458.2 937.6,459.7 937.9,461.3 937.9,461.4 938.1,462.8 938.4,464.3 938.7,465.8 938.7,465.8 938.9,467.2 939.2,468.7 939.4,470 939.4,470.1 939.7,471.5 939.9,472.9 940.2,474.1 940.2,474.3 940.5,475.7 940.7,477 940.9,478.1 941,478.4 941.2,479.7 941.5,481 941.7,482 941.7,482.3 942,483.6 942.2,484.8 942.4,485.6 942.5,486.1 942.8,487.3 943,488.5 943.2,489.2 943.9,492.6 944.7,495.9 945.4,499 946.2,502 946.9,504.9 947.7,507.7 948.4,510.3 949.2,512.8 949.9,515.2 950.7,517.5 951.4,519.6 952.2,521.7 952.9,523.6 953.7,525.5 954.4,527.3 955.2,528.9 955.9,530.5 956.7,532 957.4,533.4 958.2,534.8 959,536.1 959.7,537.3 960.5,538.4 961.2,539.5 962,540.6 962.7,541.5 963.5,542.5 964.2,543.4 965,544.2 965.7,545 966.5,545.8 967.2,546.5 968,547.2 968.7,547.8 969.5,548.5 970.2,549.1 971,549.6 971.7,550.2 972.5,550.7 973.2,551.2 974,551.7 974.7,552.2 975.5,552.6 976.2,553 977,553.5 977.7,553.9 978.5,554.2 979.2,554.6 980,555 980.7,555.3 981.5,555.7 982.3,556 983,556.3 983.8,556.6 984.5,556.9 985.3,557.2 986,557.5 986.8,557.7 987.5,558 988.3,558.2 989,558.5 989.8,558.7 990.5,559 991.3,559.2 992,559.4 992.8,559.6 993.5,559.8 994.3,560 995,560.2 995.8,560.4 996.5,560.6 997.3,560.8 998,561 998.8,561.2 999.5,561.3 1000.3,561.5 1001,561.7 1001.8,561.8 1002.5,562 1003.3,562.1 1004,562.3 1004.8,562.4 1005.6,562.6 1006.3,562.7 1007.1,562.8 1007.8,563 1008.6,563.1 1009.3,563.2 1010.1,563.4 1010.8,563.5 1011.6,563.6 1012.3,563.7 1013.1,563.8 1013.8,563.9 1014.6,564 1015.3,564.2 1016.1,564.3 1016.8,564.4 1017.6,564.5 1018.3,564.6 1019.1,564.6 1019.8,564.7 1020.6,564.8 1021.3,564.9 1022.1,565 1022.8,565.1 1023.6,565.2 1024.3,565.3 1025.1,565.4 1025.8,565.4 1026.6,565.5 1027.3,565.6 1028.1,565.7 1028.9,565.7 1029.6,565.8 1030.4,565.9 1031.1,566 1031.9,566 1032.6,566.1 1033.4,566.2 1034.1,566.2 1034.9,566.3 1035.6,566.4 1036.4,566.4 1037.1,566.5 1037.9,566.6 1038.6,566.6 1039.4,566.7 1040.1,566.7 1040.9,566.8 1041.6,566.9 1042.4,566.9 1043.1,567 1043.9,567 1044.6,567.1 1045.4,567.1 1046.1,567.2 1046.9,567.2 1047.6,567.3 1048.4,567.3 1049.1,567.4 1049.9,567.4 1050.6,567.5 1051.4,567.5 1052.1,567.6 1052.9,567.6 1053.7,567.7 1054.4,567.7 1055.2,567.8 1055.9,567.8 1056.7,567.9 1057.4,567.9 1058.2,567.9 1058.9,568 1059.7,568 1060.4,568.1 1061.2,568.1 1061.9,568.2 1062.7,568.2 1063.4,568.2 1064.2,568.3 1064.9,568.3 1065.7,568.4 1066.4,568.4 1067.2,568.4 1067.9,568.5 1068.7,568.5 1069.4,568.6 1070.2,568.6 1070.9,568.6 1071.7,568.7 1072.4,568.7 1073.2,568.7 1073.9,568.8 1074.7,568.8 1075.4,568.9 1076.2,568.9 1077,568.9 1077.7,569 1078.5,569 1079.2,569 1080,569.1 1080.7,569.1 1081.5,569.1 1082.2,569.2 1083,569.2 1083.7,569.2 1084.5,569.3 1085.2,569.3 1086,569.3 1086.7,569.4 1087.5,569.4 1088.2,569.4 1089,569.5 1089.7,569.5 1090.5,569.5 1091.2,569.6 1092,569.6 1092.7,569.6 1093.5,569.6 1094.2,569.7 1095,569.7 1095.7,569.7 1096.5,569.8 1097.2,569.8 1098,569.8 1098.7,569.9 1099.5,569.9 1100.3,569.9 1101,569.9 1101.8,570 1102.5,570 1103.3,570 1104,570.1 1104.8,570.1 1105.5,570.1 1106.3,570.1 1107,570.2 1107.8,570.2 1108.5,570.2 1109.3,570.3 1110,570.3 1110.8,570.3 1111.5,570.3 1112.3,570.4 1113,570.4 1113.8,570.4 1114.5,570.4 1115.3,570.5 1116,570.5 1116.8,570.5 1117.5,570.5 1118.3,570.6 1119,570.6 1119.8,570.6 1120.5,570.7 1121.3,570.7 1122,570.7 1122.8,570.7 1123.6,570.8 1124.3,570.8 1125.1,570.8 1125.8,570.8 1126.6,570.9 1127.3,570.9 1128.1,570.9 1128.8,570.9 1129.6,571 1130.3,571 1131.1,571 1131.8,571 1132.6,571.1"/>
</g>
<path d="M758.38 615.71v-6.94M758.38 216v6.94M922.5 615.71v-6.94M922.5 216v6.94M1086.62 615.71v-6.94M1086.62 216v6.94M717.35 595.85h6.94M1127.65 595.85h-6.94M717.35 472.14h6.94M1127.65 472.14h-6.94M717.35 348.43h6.94M1127.65 348.43h-6.94M717.35 224.72h6.94M1127.65 224.72h-6.94" stroke="#000" stroke-width="2" fill="none"/>
<rect x="717.35" y="216" width="410.29" height="399.71" fill="none" stroke="#000" stroke-width="2"/>
<g class="tl" text-anchor="middle">
<text x="758.38" y="649.21">−20</text>
<text x="922.5" y="649.21">0</text>
<text x="1086.62" y="649.21">20</text>
</g>
<g class="tl" text-anchor="end">
<text x="709.75" y="608.75">0</text>
<text x="709.75" y="485.04">2</text>
<text x="709.75" y="361.33">4</text>
<text x="709.75" y="237.62">6</text>
</g>
<text class="tt" text-anchor="middle" x="922.5" y="204" fill="#e3685f">+ 129 d</text>
</g>
<g class="panel">
<g clip-path="url(#c2)" fill="none" stroke-linejoin="round" stroke-linecap="square">
<polyline stroke="#d14e72" stroke-width="5.56" points="1204.8,565.4 1205.5,565.6 1206.3,564.5 1207,562.4 1207.8,561.1 1208.5,561.7 1209.3,563.3 1210,564.6 1210.8,565.1 1211.5,564.9 1212.3,563.9 1213,562.9 1213.8,562.1 1214.6,561.7 1215.3,561.2 1216.1,560.7 1216.8,560.6 1217.6,561.3 1218.3,561.8 1219.1,561.5 1219.8,561.2 1220.6,561.6 1221.3,562.5 1222.1,563.3 1222.8,563.7 1223.6,563.7 1224.3,563 1225.1,562.5 1225.8,562.8 1226.6,563.8 1227.3,564.7 1228.1,565 1228.8,564.9 1229.6,564.6 1230.3,563.8 1231.1,563.2 1231.8,563.5 1232.6,564 1233.3,563.5 1234.1,562.4 1234.8,561.5 1235.6,561.3 1236.3,561.8 1237.1,562.7 1237.9,563.6 1238.6,564.1 1239.4,563.9 1240.1,564.1 1240.9,564.9 1241.6,565.9 1242.4,566.4 1243.1,566.2 1243.9,565.5 1244.6,565.2 1245.4,565.3 1246.1,565.2 1246.9,565.1 1247.6,565.3 1248.4,565.3 1249.1,564.6 1249.9,564.2 1250.6,564.8 1251.4,565.4 1252.1,565 1252.9,564.1 1253.6,563.5 1254.4,563.5 1255.1,563.6 1255.9,563.2 1256.6,562.5 1257.4,562.4 1258.1,562.8 1258.9,562.4 1259.6,560.9 1260.4,559.5 1261.2,559 1261.9,559.5 1262.7,560.9 1263.4,562.5 1264.2,563.5 1264.9,563.6 1265.7,563.7 1266.4,564.4 1267.2,564.8 1267.9,564.4 1268.7,564.2 1269.4,564.8 1270.2,565.6 1270.9,565.3 1271.7,563.8 1272.4,562.8 1273.2,564.1 1273.9,567.6 1274.7,571.5 1275.4,573 1276.2,571.1 1276.9,567.8 1277.7,565.3 1278.4,563.9 1279.2,562.8 1279.9,561.5 1280.7,560.1 1281.4,559.8 1282.2,561.3 1282.9,563.7 1283.7,565.4 1284.5,565.9 1285.2,565.8 1286,565.4 1286.7,564.5 1287.5,563.8 1288.2,563.5 1289,562.3 1289.7,558.9 1290.5,554.3 1291.2,550.8 1292,550.3 1292.7,552.8 1293.5,556.2 1294.2,558.4 1295,559.5 1295.7,560.5 1296.5,562 1297.2,563.4 1298,563.1 1298.7,561.1 1299.5,558.9 1300.2,558.8 1301,560.5 1301.7,562.4 1302.5,563.6 1303.2,563.9 1304,563 1304.7,561.8 1305.5,561.8 1306.2,563.4 1307,565.2 1307.8,565.8 1308.5,565.2 1309.3,564.3 1310,564.1 1310.8,564.6 1311.5,565.6 1312.3,566.8 1313,568.3 1313.8,569.3 1314.5,569.9 1315.3,570.6 1316,571.3 1316.8,571.5 1317.5,571.1 1318.3,570.5 1319,569.9 1319.8,569.1 1320.5,567.8 1321.3,566.9 1322,567.1 1322.8,567.8 1323.5,568.1 1324.3,567.7 1325,566.8 1325.8,565.7 1326.5,565.1 1327.3,565.2 1328,565.6 1328.8,566.3 1329.5,567.1 1330.3,567.5 1331.1,567.2 1331.8,566.2 1332.6,565.2 1333.3,565 1334.1,566 1334.8,567.5 1335.6,568.7 1336.3,569.2 1337.1,569.7 1337.8,570.2 1338.6,570.3 1339.3,570.5 1340.1,571.2 1340.8,572.4 1341.6,573.9 1342.3,575.3 1343.1,576.2 1343.8,576 1344.6,574.9 1345.3,573.4 1346.1,572.3 1346.8,571.4 1347.6,570.9 1348.3,571.1 1349.1,571.9 1349.8,572.7 1350.6,572.9 1351.3,572.7 1352.1,572.5 1352.8,572.2 1353.6,572 1354.3,572.4 1355.1,573.2 1355.9,573.5 1356.6,572.8 1357.4,571.8 1358.1,570.6 1358.9,569.7 1359.6,569.4 1360.4,569.9 1361.1,570.7 1361.9,571.4 1362.6,571.5 1363.4,570.5 1364.1,569 1364.9,567.9 1365.6,567.9 1366.4,568.3 1367.1,568.1 1367.9,567.5 1368.6,566.6 1369.4,566 1370.1,565.7 1370.9,565.2 1371.6,565 1372.4,565.6 1373.1,566.8 1373.9,567.8 1374.6,568.7 1375.4,569.6 1376.1,569.9 1376.9,569.3 1377.6,567.9 1378.4,566.5 1379.2,565.9 1379.9,565.6 1380.7,564.3 1381.4,561.6 1382.2,558.8 1382.9,557.1 1383.7,555.8 1384.4,553.9 1385.2,551.5 1385.9,548.5 1386.7,544.9 1387.4,541.3 1388.2,538.2 1388.9,535.2 1389.7,531.5 1390.4,527 1391.2,522 1391.9,516.7 1392.7,510.6 1393.4,503.6 1394.2,496.5 1394.3,495.2 1394.6,493 1394.9,491 1394.9,490.4 1395.1,489.2 1395.4,487.5 1395.6,485.9 1395.7,485.5 1395.9,484.3 1396.1,482.7 1396.4,481.1 1396.4,480.8 1396.6,479.5 1396.9,477.9 1397.2,476.3 1397.2,476.1 1397.4,474.6 1397.7,472.9 1397.9,471.1 1397.9,471 1398.2,469.3 1398.4,467.4 1398.7,465.6 1398.7,465.5 1399,463.6 1399.2,461.7 1399.4,459.8 1399.5,459.6 1399.7,457.6 1400,455.5 1400.2,453.7 1400.2,453.4 1400.5,451.2 1400.7,449.1 1400.9,447.4 1401,446.9 1401.3,444.7 1401.5,442.5 1401.7,441 1401.8,440.4 1402,438.2 1402.3,435.9 1402.5,434.5 1402.5,433.7 1402.8,431.3 1403.1,428.9 1403.2,427.5 1403.3,426.5 1403.6,424.1 1403.8,421.7 1404,420.5 1404.1,419.3 1404.3,416.9 1404.6,414.6 1404.7,413.6 1404.9,412.3 1405.1,410 1405.4,407.6 1405.5,406.8 1405.6,405.3 1405.9,402.9 1406.1,400.6 1406.2,399.9 1406.4,398.2 1406.6,395.9 1406.9,393.5 1407,393 1407.2,391.2 1407.4,389 1407.7,386.8 1407.7,386.5 1407.9,384.7 1408.2,382.6 1408.4,380.7 1408.5,380.5 1408.7,378.9 1409,377.3 1409.2,375.9 1409.2,375.8 1409.5,374.7 1409.7,373.6 1410,372.9 1410,372.8 1410.2,372.2 1410.5,371.7 1410.7,371.4 1410.8,371.4 1411,371.1 1411.3,371 1411.5,370.9 1411.5,370.8 1411.8,370.7 1412,370.5 1412.2,370.1 1412.3,369.9 1412.5,368.3 1412.8,365 1413,361.2 1413.1,358.7 1413.3,347.8 1413.6,331.3 1413.7,318.7 1413.8,309.6 1414.1,284.8 1414.3,261.5 1414.5,251.6 1414.6,245.3 1414.9,240.5 1415.1,248.7 1415.2,256.4 1415.4,267.7 1415.6,293 1415.9,319.1 1416,328.6 1416.1,341.6 1416.4,358.5 1416.6,369.6 1416.7,372.2 1416.9,376.1 1417.2,379.5 1417.4,381.1 1417.5,381.3 1417.7,381.8 1417.9,382.1 1418.2,382.3 1418.2,382.3 1418.4,382.4 1418.7,382.7 1419,383 1419,383 1419.2,383.4 1419.5,384 1419.7,384.8 1419.7,384.8 1420,385.8 1420.2,387 1420.5,388.5 1420.5,388.5 1420.8,390.2 1421,392.2 1421.2,394.1 1421.3,394.3 1421.5,396.5 1421.8,398.9 1422,400.9 1422,401.2 1422.3,403.6 1422.5,406.1 1422.7,407.9 1422.8,408.5 1423.1,410.9 1423.3,413.3 1423.5,415 1423.6,415.7 1423.8,418.1 1424.1,420.5 1424.2,422.1 1424.3,422.9 1424.6,425.3 1424.9,427.6 1425,428.8 1425.1,429.8 1425.4,432 1425.6,434.1 1425.8,435.1 1425.9,436.2 1426.1,438.2 1426.4,440.2 1426.5,441.1 1426.6,442.2 1426.9,444.2 1427.2,446.1 1427.3,446.9 1427.4,448.1 1427.7,450 1427.9,452.1 1428,452.7 1428.2,454.1 1428.4,456.1 1428.7,458.3 1428.8,458.8 1429,460.5 1429.2,462.7 1429.5,464.8 1429.5,465.2 1429.7,467 1430,469 1430.2,470.8 1430.3,471 1430.5,472.6 1430.8,474.3 1431,475.7 1431,475.7 1431.3,477.1 1431.5,478.5 1431.8,479.7 1431.8,479.7 1432,481 1432.3,482.4 1432.5,483.6 1432.5,483.8 1432.8,485.1 1433.1,486.6 1433.3,487.8 1433.3,488.1 1433.6,489.6 1433.8,491.1 1434,492.2 1434.1,492.5 1434.3,494 1434.6,495.4 1434.8,496.3 1434.9,496.8 1435.1,498.2 1435.4,499.6 1435.5,500.5 1436.3,504.6 1437,508.7 1437.8,512.4 1438.5,515.4 1439.3,518 1440,519.9 1440.8,521.1 1441.5,521.9 1442.3,523.2 1443,525.7 1443.8,528.8 1444.5,531.3 1445.3,533.3 1446,535.3 1446.8,537.6 1447.5,540.2 1448.3,541.8 1449.1,541.8 1449.8,541.5 1450.6,542.1 1451.3,543.3 1452.1,544.2 1452.8,544.7 1453.6,545 1454.3,545.2 1455.1,545.8 1455.8,546.9 1456.6,548.1 1457.3,549 1458.1,549.8 1458.8,550.1 1459.6,550 1460.3,550.2 1461.1,551.5 1461.8,553.3 1462.6,554.4 1463.3,554.9 1464.1,555.2 1464.8,555.3 1465.6,555.8 1466.3,557 1467.1,558 1467.8,557.1 1468.6,552.9 1469.3,547.1 1470.1,544 1470.8,545.4 1471.6,549.6 1472.3,553.8 1473.1,556.6 1473.9,557.3 1474.6,555.5 1475.4,551.8 1476.1,547.8 1476.9,545.7 1477.6,547 1478.4,551.6 1479.1,556.6 1479.9,559.7 1480.6,560.7 1481.4,560.6 1482.1,560.1 1482.9,559.7 1483.6,559.4 1484.4,560 1485.1,561.4 1485.9,562.9 1486.6,563.4 1487.4,562.8 1488.1,562.2 1488.9,562.5 1489.6,563.4 1490.4,564.1 1491.1,564.1 1491.9,563.6 1492.6,563.6 1493.4,564.3 1494.1,564.9 1494.9,564.5 1495.6,563.6 1496.4,563.3 1497.2,563.4 1497.9,563 1498.7,562.5 1499.4,562.5 1500.2,562.9 1500.9,563.4 1501.7,564 1502.4,564.6 1503.2,564.7 1503.9,564.2 1504.7,563.9 1505.4,564.6 1506.2,565.3 1506.9,565.2 1507.7,564.8 1508.4,564.6 1509.2,564.5 1509.9,564.6 1510.7,565.1 1511.4,565.4 1512.2,565 1512.9,564.4 1513.7,564.4 1514.4,565 1515.2,565.5 1515.9,566.1 1516.7,567.1 1517.4,568.4 1518.2,569 1518.9,569.1 1519.7,568.9 1520.5,568.3 1521.2,567.9 1522,567.9 1522.7,568.1 1523.5,568.5 1524.2,568.8 1525,569 1525.7,568.8 1526.5,568.1 1527.2,567.8 1528,567.9 1528.7,567.8 1529.5,567.5 1530.2,567.2 1531,567.3 1531.7,567.7 1532.5,568.5 1533.2,568.9 1534,568.2 1534.7,566.7 1535.5,565.8 1536.2,566 1537,566.7 1537.7,567.1 1538.5,567 1539.2,566.7 1540,566.6 1540.7,566.9 1541.5,567.3 1542.2,566.8 1543,565.4 1543.8,564.4 1544.5,565 1545.3,567.3 1546,569.4 1546.8,570.2 1547.5,569.9 1548.3,569.6 1549,569.6 1549.8,569.8 1550.5,569.9 1551.3,569.8 1552,569.5 1552.8,569 1553.5,569.2 1554.3,570.1 1555,570.8 1555.8,570.6 1556.5,570.2 1557.3,570.2 1558,569.9 1558.8,569 1559.5,567.9 1560.3,566.6 1561,565.4 1561.8,564.5 1562.5,564.3 1563.3,564.7 1564,565.1 1564.8,565.8 1565.5,567.1 1566.3,568 1567.1,567.7 1567.8,567 1568.6,566.7 1569.3,566.9 1570.1,567 1570.8,567 1571.6,567.4 1572.3,568.4 1573.1,569.4 1573.8,570 1574.6,570.2 1575.3,569.9 1576.1,569.1 1576.8,568.5 1577.6,568.4 1578.3,569 1579.1,569.4 1579.8,569.6 1580.6,570 1581.3,570.1 1582.1,569.6 1582.8,569 1583.6,569 1584.3,569.4 1585.1,569.3 1585.8,568.4 1586.6,567.4 1587.3,567.3 1588.1,567.9 1588.8,568.9 1589.6,569.8 1590.4,570.3 1591.1,570.2 1591.9,570.3 1592.6,570.5 1593.4,570.2 1594.1,569.3 1594.9,568.8 1595.6,569.3 1596.4,569.8 1597.1,570.1 1597.9,570.3 1598.6,570.2 1599.4,569.6 1600.1,569.1 1600.9,569.1 1601.6,569.4 1602.4,569.7 1603.1,569.8 1603.9,570.1 1604.6,570.8 1605.4,571.4 1606.1,571.4 1606.9,570.6 1607.6,569.5 1608.4,569.1 1609.1,569.5 1609.9,569.9 1610.6,570 1611.4,569.8 1612.1,570.8 1612.9,573.4 1613.6,575.3 1614.4,574.8 1615.2,572.8 1615.9,571.4 1616.7,570.8 1617.4,570.7 1618.2,570.5 1618.9,570 1619.7,569.3 1620.4,569.1 1621.2,569.5 1621.9,569.9 1622.7,569.7 1623.4,568.7 1624.2,567.6 1624.9,568.1"/>
<polyline stroke="#f00" stroke-opacity="0.6" stroke-width="8.33" points="1204.8,563.3 1205.5,563.3 1206.3,563.3 1207,563.3 1207.8,563.3 1208.5,563.3 1209.3,563.3 1210,563.3 1210.8,563.3 1211.5,563.3 1212.3,563.3 1213,563.4 1213.8,563.4 1214.6,563.4 1215.3,563.4 1216.1,563.4 1216.8,563.4 1217.6,563.4 1218.3,563.4 1219.1,563.4 1219.8,563.4 1220.6,563.4 1221.3,563.4 1222.1,563.4 1222.8,563.4 1223.6,563.4 1224.3,563.5 1225.1,563.5 1225.8,563.5 1226.6,563.5 1227.3,563.5 1228.1,563.5 1228.8,563.5 1229.6,563.5 1230.3,563.5 1231.1,563.5 1231.8,563.5 1232.6,563.5 1233.3,563.5 1234.1,563.5 1234.8,563.5 1235.6,563.5 1236.3,563.5 1237.1,563.5 1237.9,563.5 1238.6,563.6 1239.4,563.6 1240.1,563.6 1240.9,563.6 1241.6,563.6 1242.4,563.6 1243.1,563.6 1243.9,563.6 1244.6,563.6 1245.4,563.6 1246.1,563.6 1246.9,563.6 1247.6,563.6 1248.4,563.6 1249.1,563.6 1249.9,563.6 1250.6,563.6 1251.4,563.6 1252.1,563.6 1252.9,563.6 1253.6,563.6 1254.4,563.6 1255.1,563.6 1255.9,563.6 1256.6,563.6 1257.4,563.6 1258.1,563.6 1258.9,563.6 1259.6,563.6 1260.4,563.6 1261.2,563.6 1261.9,563.6 1262.7,563.6 1263.4,563.6 1264.2,563.6 1264.9,563.6 1265.7,563.6 1266.4,563.6 1267.2,563.6 1267.9,563.6 1268.7,563.6 1269.4,563.6 1270.2,563.6 1270.9,563.6 1271.7,563.6 1272.4,563.6 1273.2,563.6 1273.9,563.6 1274.7,563.6 1275.4,563.6 1276.2,563.6 1276.9,563.5 1277.7,563.5 1278.4,563.5 1279.2,563.5 1279.9,563.5 1280.7,563.5 1281.4,563.5 1282.2,563.5 1282.9,563.5 1283.7,563.5 1284.5,563.5 1285.2,563.5 1286,563.4 1286.7,563.4 1287.5,563.4 1288.2,563.4 1289,563.4 1289.7,563.4 1290.5,563.4 1291.2,563.4 1292,563.4 1292.7,563.3 1293.5,563.3 1294.2,563.3 1295,563.3 1295.7,563.3 1296.5,563.3 1297.2,563.2 1298,563.2 1298.7,563.2 1299.5,563.2 1300.2,563.2 1301,563.1 1301.7,563.1 1302.5,563.1 1303.2,563.1 1304,563.1 1304.7,563 1305.5,563 1306.2,563 1307,563 1307.8,562.9 1308.5,562.9 1309.3,562.9 1310,562.8 1310.8,562.8 1311.5,562.8 1312.3,562.7 1313,562.7 1313.8,562.7 1314.5,562.6 1315.3,562.6 1316,562.6 1316.8,562.5 1317.5,562.5 1318.3,562.4 1319,562.4 1319.8,562.4 1320.5,562.3 1321.3,562.3 1322,562.2 1322.8,562.2 1323.5,562.1 1324.3,562.1 1325,562 1325.8,561.9 1326.5,561.9 1327.3,561.8 1328,561.8 1328.8,561.7 1329.5,561.6 1330.3,561.6 1331.1,561.5 1331.8,561.4 1332.6,561.4 1333.3,561.3 1334.1,561.2 1334.8,561.1 1335.6,561 1336.3,560.9 1337.1,560.8 1337.8,560.8 1338.6,560.7 1339.3,560.6 1340.1,560.5 1340.8,560.4 1341.6,560.2 1342.3,560.1 1343.1,560 1343.8,559.9 1344.6,559.8 1345.3,559.6 1346.1,559.5 1346.8,559.4 1347.6,559.2 1348.3,559.1 1349.1,558.9 1349.8,558.8 1350.6,558.6 1351.3,558.4 1352.1,558.2 1352.8,558 1353.6,557.9 1354.3,557.7 1355.1,557.5 1355.9,557.2 1356.6,557 1357.4,556.8 1358.1,556.5 1358.9,556.3 1359.6,556 1360.4,555.8 1361.1,555.5 1361.9,555.2 1362.6,554.9 1363.4,554.5 1364.1,554.2 1364.9,553.9 1365.6,553.5 1366.4,553.1 1367.1,552.7 1367.9,552.3 1368.6,551.8 1369.4,551.3 1370.1,550.9 1370.9,550.3 1371.6,549.8 1372.4,549.2 1373.1,548.6 1373.9,547.9 1374.6,547.2 1375.4,546.5 1376.1,545.7 1376.9,544.9 1377.6,544 1378.4,543 1379.2,542 1379.9,540.9 1380.7,539.7 1381.4,538.5 1382.2,537.1 1382.9,535.6 1383.7,534.1 1384.4,532.4 1385.2,530.6 1385.9,528.7 1386.7,526.6 1387.4,524.4 1388.2,522 1388.9,519.4 1389.7,516.7 1390.4,513.7 1391.2,510.6 1391.9,507.2 1392.7,503.7 1393.4,499.9 1394.2,495.8 1394.3,495 1394.6,493.5 1394.9,492 1394.9,491.5 1395.1,490.5 1395.4,489 1395.6,487.4 1395.7,487 1395.9,485.8 1396.1,484.2 1396.4,482.6 1396.4,482.2 1396.6,480.9 1396.9,479.2 1397.2,477.4 1397.2,477.2 1397.4,475.6 1397.7,473.8 1397.9,472 1397.9,471.9 1398.2,470.1 1398.4,468.2 1398.7,466.4 1398.7,466.3 1399,464.4 1399.2,462.4 1399.4,460.5 1399.5,460.4 1399.7,458.3 1400,456.3 1400.2,454.5 1400.2,454.2 1400.5,452.1 1400.7,449.9 1400.9,448.2 1401,447.7 1401.3,445.5 1401.5,443.3 1401.7,441.7 1401.8,441.1 1402,438.8 1402.3,436.5 1402.5,435.1 1402.5,434.2 1402.8,431.9 1403.1,429.5 1403.2,428.2 1403.3,427.2 1403.6,424.8 1403.8,422.4 1404,421.2 1404.1,420 1404.3,417.6 1404.6,415.2 1404.7,414.1 1404.9,412.7 1405.1,410.3 1405.4,407.9 1405.5,407 1405.6,405.4 1405.9,403 1406.1,400.5 1406.2,399.8 1406.4,398.1 1406.6,395.7 1406.9,393.2 1407,392.7 1407.2,390.8 1407.4,388.4 1407.7,386 1407.7,385.6 1407.9,383.6 1408.2,381.2 1408.4,378.8 1408.5,378.6 1408.7,376.4 1409,374 1409.2,371.6 1409.2,371.5 1409.5,369.1 1409.7,366.7 1410,364.3 1410,364.2 1410.2,361.6 1410.5,359 1410.7,356.6 1410.8,356.2 1411,353.3 1411.3,350.2 1411.5,347.5 1411.5,346.9 1411.8,343.2 1412,339 1412.2,335.5 1412.3,334.3 1412.5,328.8 1412.8,322.4 1413,317.4 1413.1,314.7 1413.3,305.7 1413.6,295 1413.7,287.7 1413.8,282.6 1414.1,269 1414.3,255.1 1414.5,248.3 1414.6,243.1 1414.9,235.6 1415.1,234.8 1415.2,236.9 1415.4,241.1 1415.6,252.8 1415.9,267.3 1416,273.2 1416.1,282.1 1416.4,296 1416.6,308.2 1416.7,311.8 1416.9,318.7 1417.2,327.6 1417.4,335.3 1417.5,337.1 1417.7,341.9 1417.9,347.6 1418.2,352.7 1418.2,353.6 1418.4,357.3 1418.7,361.5 1419,365.3 1419,365.8 1419.2,368.9 1419.5,372.3 1419.7,375.5 1419.7,375.6 1420,378.5 1420.2,381.5 1420.5,384.3 1420.5,384.4 1420.8,387.2 1421,389.9 1421.2,392.4 1421.3,392.6 1421.5,395.3 1421.8,397.9 1422,400.1 1422,400.5 1422.3,403 1422.5,405.5 1422.7,407.5 1422.8,408 1423.1,410.5 1423.3,413 1423.5,414.7 1423.6,415.4 1423.8,417.8 1424.1,420.2 1424.2,421.7 1424.3,422.5 1424.6,424.8 1424.9,427.2 1425,428.5 1425.1,429.4 1425.4,431.7 1425.6,433.9 1425.8,435.1 1425.9,436.2 1426.1,438.4 1426.4,440.5 1426.5,441.4 1426.6,442.7 1426.9,444.8 1427.2,446.9 1427.3,447.6 1427.4,448.9 1427.7,450.9 1427.9,453 1428,453.5 1428.2,454.9 1428.4,456.9 1428.7,458.8 1428.8,459.2 1429,460.7 1429.2,462.6 1429.5,464.4 1429.5,464.7 1429.7,466.2 1430,468 1430.2,469.8 1430.3,469.9 1430.5,471.5 1430.8,473.2 1431,474.9 1431,474.9 1431.3,476.5 1431.5,478.2 1431.8,479.7 1431.8,479.8 1432,481.3 1432.3,482.9 1432.5,484.2 1432.5,484.4 1432.8,485.9 1433.1,487.4 1433.3,488.5 1433.3,488.8 1433.6,490.2 1433.8,491.6 1434,492.6 1434.1,493 1434.3,494.3 1434.6,495.6 1434.8,496.5 1434.9,496.9 1435.1,498.2 1435.4,499.4 1435.5,500.2 1436.3,503.6 1437,506.9 1437.8,510 1438.5,513 1439.3,515.7 1440,518.3 1440.8,520.8 1441.5,523.1 1442.3,525.3 1443,527.4 1443.8,529.3 1444.5,531.2 1445.3,532.9 1446,534.6 1446.8,536.1 1447.5,537.6 1448.3,539 1449.1,540.3 1449.8,541.5 1450.6,542.7 1451.3,543.8 1452.1,544.8 1452.8,545.8 1453.6,546.8 1454.3,547.6 1455.1,548.5 1455.8,549.3 1456.6,550 1457.3,550.7 1458.1,551.4 1458.8,552.1 1459.6,552.7 1460.3,553.2 1461.1,553.8 1461.8,554.3 1462.6,554.8 1463.3,555.3 1464.1,555.7 1464.8,556.1 1465.6,556.5 1466.3,556.9 1467.1,557.3 1467.8,557.6 1468.6,558 1469.3,558.3 1470.1,558.6 1470.8,558.9 1471.6,559.2 1472.3,559.4 1473.1,559.7 1473.9,559.9 1474.6,560.2 1475.4,560.4 1476.1,560.6 1476.9,560.8 1477.6,561 1478.4,561.2 1479.1,561.4 1479.9,561.6 1480.6,561.8 1481.4,561.9 1482.1,562.1 1482.9,562.2 1483.6,562.4 1484.4,562.5 1485.1,562.7 1485.9,562.8 1486.6,563 1487.4,563.1 1488.1,563.2 1488.9,563.4 1489.6,563.5 1490.4,563.6 1491.1,563.7 1491.9,563.8 1492.6,564 1493.4,564.1 1494.1,564.2 1494.9,564.3 1495.6,564.4 1496.4,564.5 1497.2,564.6 1497.9,564.7 1498.7,564.8 1499.4,564.9 1500.2,564.9 1500.9,565 1501.7,565.1 1502.4,565.2 1503.2,565.3 1503.9,565.4 1504.7,565.4 1505.4,565.5 1506.2,565.6 1506.9,565.7 1507.7,565.7 1508.4,565.8 1509.2,565.9 1509.9,565.9 1510.7,566 1511.4,566.1 1512.2,566.1 1512.9,566.2 1513.7,566.3 1514.4,566.3 1515.2,566.4 1515.9,566.5 1516.7,566.5 1517.4,566.6 1518.2,566.6 1518.9,566.7 1519.7,566.7 1520.5,566.8 1521.2,566.8 1522,566.9 1522.7,567 1523.5,567 1524.2,567.1 1525,567.1 1525.7,567.1 1526.5,567.2 1527.2,567.2 1528,567.3 1528.7,567.3 1529.5,567.4 1530.2,567.4 1531,567.5 1531.7,567.5 1532.5,567.6 1533.2,567.6 1534,567.6 1534.7,567.7 1535.5,567.7 1536.2,567.8 1537,567.8 1537.7,567.8 1538.5,567.9 1539.2,567.9 1540,568 1540.7,568 1541.5,568 1542.2,568.1 1543,568.1 1543.8,568.2 1544.5,568.2 1545.3,568.2 1546,568.3 1546.8,568.3 1547.5,568.3 1548.3,568.4 1549,568.4 1549.8,568.4 1550.5,568.5 1551.3,568.5 1552,568.5 1552.8,568.6 1553.5,568.6 1554.3,568.6 1555,568.7 1555.8,568.7 1556.5,568.7 1557.3,568.7 1558,568.8 1558.8,568.8 1559.5,568.8 1560.3,568.9 1561,568.9 1561.8,568.9 1562.5,569 1563.3,569 1564,569 1564.8,569 1565.5,569.1 1566.3,569.1 1567.1,569.1 1567.8,569.1 1568.6,569.2 1569.3,569.2 1570.1,569.2 1570.8,569.3 1571.6,569.3 1572.3,569.3 1573.1,569.3 1573.8,569.4 1574.6,569.4 1575.3,569.4 1576.1,569.4 1576.8,569.5 1577.6,569.5 1578.3,569.5 1579.1,569.5 1579.8,569.6 1580.6,569.6 1581.3,569.6 1582.1,569.6 1582.8,569.7 1583.6,569.7 1584.3,569.7 1585.1,569.7 1585.8,569.8 1586.6,569.8 1587.3,569.8 1588.1,569.8 1588.8,569.8 1589.6,569.9 1590.4,569.9 1591.1,569.9 1591.9,569.9 1592.6,570 1593.4,570 1594.1,570 1594.9,570 1595.6,570 1596.4,570.1 1597.1,570.1 1597.9,570.1 1598.6,570.1 1599.4,570.2 1600.1,570.2 1600.9,570.2 1601.6,570.2 1602.4,570.2 1603.1,570.3 1603.9,570.3 1604.6,570.3 1605.4,570.3 1606.1,570.3 1606.9,570.4 1607.6,570.4 1608.4,570.4 1609.1,570.4 1609.9,570.4 1610.6,570.5 1611.4,570.5 1612.1,570.5 1612.9,570.5 1613.6,570.5 1614.4,570.6 1615.2,570.6 1615.9,570.6 1616.7,570.6 1617.4,570.6 1618.2,570.7 1618.9,570.7 1619.7,570.7 1620.4,570.7 1621.2,570.7 1621.9,570.8 1622.7,570.8 1623.4,570.8 1624.2,570.8 1624.9,570.8"/>
</g>
<path d="M1250.74 615.71v-6.94M1250.74 216v6.94M1414.85 615.71v-6.94M1414.85 216v6.94M1578.97 615.71v-6.94M1578.97 216v6.94M1209.71 593.01h6.94M1620 593.01h-6.94M1209.71 477.82h6.94M1620 477.82h-6.94M1209.71 362.64h6.94M1620 362.64h-6.94M1209.71 247.45h6.94M1620 247.45h-6.94" stroke="#000" stroke-width="2" fill="none"/>
<rect x="1209.71" y="216" width="410.29" height="399.71" fill="none" stroke="#000" stroke-width="2"/>
<g class="tl" text-anchor="middle">
<text x="1250.74" y="649.21">−20</text>
<text x="1414.85" y="649.21">0</text>
<text x="1578.97" y="649.21">20</text>
</g>
<g class="tl" text-anchor="end">
<text x="1202.11" y="605.91">0</text>
<text x="1202.11" y="490.72">1</text>
<text x="1202.11" y="375.54">2</text>
<text x="1202.11" y="260.35">3</text>
</g>
<text class="tt" text-anchor="middle" x="1414.85" y="204" fill="#d14e72">+ 187 d</text>
</g>
<g class="panel">
<g clip-path="url(#c3)" fill="none" stroke-linejoin="round" stroke-linecap="square">
<polyline stroke="#bc3587" stroke-width="5.56" points="220.1,1037.1 220.8,1037.1 221.6,1037.2 222.3,1037.1 223.1,1036.7 223.8,1036.2 224.6,1036 225.3,1036.3 226.1,1036.8 226.8,1037.1 227.6,1037.4 228.3,1037.9 229.1,1038.7 229.8,1039.7 230.6,1040.5 231.4,1041 232.1,1041 232.9,1040.6 233.6,1040 234.4,1039.5 235.1,1039.1 235.9,1038.9 236.6,1039 237.4,1039.3 238.1,1039.6 238.9,1039.8 239.6,1039.9 240.4,1039.9 241.1,1039.9 241.9,1040.2 242.6,1041.1 243.4,1042.2 244.1,1043.2 244.9,1043.6 245.6,1043.7 246.4,1044 247.1,1044.6 247.9,1045 248.6,1045.1 249.4,1044.9 250.1,1044.3 250.9,1043.5 251.6,1043.1 252.4,1043.1 253.1,1043.2 253.9,1043.2 254.6,1043 255.4,1042.6 256.2,1042.1 256.9,1041.7 257.7,1041.3 258.4,1040.8 259.2,1040.3 259.9,1039.8 260.7,1039.2 261.4,1038.8 262.2,1038.7 262.9,1038.7 263.7,1038.7 264.4,1038.6 265.2,1038.4 265.9,1038.2 266.7,1037.9 267.4,1037.4 268.2,1036.9 268.9,1036.5 269.7,1035.9 270.4,1035.3 271.2,1034.9 271.9,1034.9 272.7,1035.2 273.4,1035.4 274.2,1035.3 274.9,1034.7 275.7,1033.8 276.4,1033.1 277.2,1033.1 277.9,1033.7 278.7,1034.7 279.5,1035.7 280.2,1036.6 281,1037.5 281.7,1038 282.5,1038.3 283.2,1038.3 284,1038.1 284.7,1038 285.5,1037.9 286.2,1038 287,1038.2 287.7,1038.5 288.5,1039 289.2,1039.5 290,1039.7 290.7,1039.7 291.5,1039.7 292.2,1039.9 293,1040.3 293.7,1040.7 294.5,1041.1 295.2,1041.1 296,1040.9 296.7,1040.7 297.5,1040.5 298.2,1040.6 299,1040.7 299.7,1040.9 300.5,1041.1 301.2,1041.7 302,1042.4 302.8,1043.1 303.5,1043.4 304.3,1043.6 305,1043.8 305.8,1044 306.5,1044.5 307.3,1045.4 308,1046.8 308.8,1048.1 309.5,1048.9 310.3,1049.5 311,1049.8 311.8,1049.5 312.5,1048.7 313.3,1047.8 314,1047 314.8,1046.8 315.5,1047 316.3,1047.3 317,1047 317.8,1046.2 318.5,1045.4 319.3,1044.9 320,1044.6 320.8,1044.6 321.5,1044.9 322.3,1045.2 323,1045.4 323.8,1045.4 324.5,1045.3 325.3,1045.4 326.1,1045.9 326.8,1046.7 327.6,1047.6 328.3,1048.3 329.1,1048.8 329.8,1048.9 330.6,1049 331.3,1049.1 332.1,1049.3 332.8,1049.5 333.6,1049.5 334.3,1049.2 335.1,1048.8 335.8,1048.5 336.6,1048.7 337.3,1049.5 338.1,1050.2 338.8,1050 339.6,1049.6 340.3,1049.5 341.1,1049.7 341.8,1049.6 342.6,1049.1 343.3,1048.7 344.1,1048.6 344.8,1048.5 345.6,1048.6 346.3,1049 347.1,1049.2 347.8,1049.3 348.6,1049.2 349.4,1049.3 350.1,1049.8 350.9,1050.3 351.6,1050.4 352.4,1050.3 353.1,1050.5 353.9,1051 354.6,1051.7 355.4,1052 356.1,1052.1 356.9,1051.8 357.6,1051.5 358.4,1050.9 359.1,1050 359.9,1048.8 360.6,1047.8 361.4,1047.5 362.1,1047.7 362.9,1047.9 363.6,1047.9 364.4,1048.1 365.1,1048.6 365.9,1049.2 366.6,1049.4 367.4,1049.3 368.1,1049.1 368.9,1048.9 369.6,1048.5 370.4,1047.7 371.1,1046.8 371.9,1046.2 372.7,1045.7 373.4,1045.5 374.2,1045.6 374.9,1046 375.7,1046.6 376.4,1046.9 377.2,1046.9 377.9,1047 378.7,1047.7 379.4,1049.1 380.2,1050.5 380.9,1051.4 381.7,1051.7 382.4,1051.6 383.2,1051.4 383.9,1051.3 384.7,1051.2 385.4,1051.2 386.2,1050.8 386.9,1050.1 387.7,1049.3 388.4,1048.7 389.2,1048.4 389.9,1048.3 390.7,1048.1 391.4,1047.5 392.2,1046.3 392.9,1044.6 393.7,1042.9 394.4,1041.3 395.2,1039.7 395.9,1037.9 396.7,1035.8 397.5,1033.4 398.2,1030.6 399,1027.5 399.7,1024.2 400.5,1020.7 401.2,1017.4 402,1014.4 402.7,1011.5 403.5,1008.5 404.2,1005.1 405,1001.4 405.7,997.7 406.5,993.3 407.2,987.6 408,980.8 408.7,973.6 409.5,966.5 409.6,965.1 409.9,962.8 410.1,960.7 410.2,960 410.4,958.7 410.7,957 410.9,955.3 411,954.9 411.2,953.7 411.4,952 411.7,950.4 411.7,950.1 411.9,948.8 412.2,947.2 412.5,945.7 412.5,945.5 412.7,944.1 413,942.6 413.2,941 413.2,941 413.5,939.5 413.7,937.9 414,936.2 414,936.2 414.2,934.4 414.5,932.7 414.7,931 414.8,930.8 415,929 415.3,927.1 415.5,925.5 415.5,925.2 415.8,923.3 416,921.4 416.2,919.9 416.3,919.5 416.6,917.6 416.8,915.6 417,914.3 417.1,913.7 417.3,911.8 417.6,909.9 417.7,908.6 417.8,907.9 418.1,906 418.4,904 418.5,902.9 418.6,902.1 418.9,900.1 419.1,898.2 419.2,897.2 419.4,896.2 419.6,894.2 419.9,892.2 420,891.3 420.1,890.2 420.4,888 420.7,885.8 420.8,885 420.9,883.6 421.2,881.2 421.4,878.8 421.5,878.1 421.7,876.4 421.9,873.9 422.2,871.3 422.3,870.8 422.5,868.8 422.7,866.3 423,863.9 423,863.5 423.2,861.4 423.5,859 423.7,856.7 423.8,856.4 424,854.3 424.2,851.9 424.5,849.6 424.5,849.6 424.8,847.4 425,845.3 425.3,843.5 425.3,843.4 425.5,841.8 425.8,840.5 426,839.7 426,839.6 426.3,838.8 426.6,838.1 426.8,837.4 426.8,837.1 427.1,835.6 427.3,833.1 427.5,830.4 427.6,829.2 427.8,823.2 428.1,814.7 428.3,807.4 428.4,803.4 428.6,789.4 428.9,773.3 429,763.2 429.1,756.5 429.4,740.6 429.6,727.7 429.8,722.7 429.9,719.6 430.1,717.6 430.4,722 430.5,726.1 430.7,732.2 430.9,746.7 431.2,763.8 431.3,770.8 431.4,781.5 431.7,798.1 431.9,812.4 432,816.5 432.2,823.9 432.5,832.6 432.7,838.7 432.8,839.9 433,842.7 433.2,845.2 433.5,846.8 433.5,847 433.7,847.6 434,848.1 434.2,848.5 434.3,848.5 434.5,848.8 434.8,849.3 435,849.9 435,850 435.3,850.8 435.5,852.1 435.8,853.6 435.8,853.7 436,855.5 436.3,857.5 436.5,859.4 436.6,859.6 436.8,861.7 437.1,863.9 437.3,865.8 437.3,866.1 437.6,868.3 437.8,870.4 438,872 438.1,872.5 438.4,874.5 438.6,876.6 438.8,878 438.9,878.6 439.1,880.7 439.4,882.7 439.5,884 439.6,884.7 439.9,886.8 440.1,888.8 440.3,890 440.4,890.8 440.7,892.9 440.9,894.9 441,895.9 441.2,896.9 441.4,898.9 441.7,900.9 441.8,901.8 441.9,902.9 442.2,904.9 442.5,906.9 442.5,907.6 442.7,908.8 443,910.8 443.2,912.7 443.3,913.3 443.5,914.7 443.7,916.6 444,918.5 444.1,918.9 444.3,920.4 444.5,922.3 444.8,924.2 444.8,924.5 445,926 445.3,927.9 445.5,929.8 445.6,929.9 445.8,931.6 446,933.4 446.3,935.3 446.3,935.3 446.6,937.1 446.8,938.9 447.1,940.5 447.1,940.6 447.3,942.4 447.6,944.1 447.8,945.5 447.8,945.7 448.1,947.4 448.4,949 448.6,950.3 448.6,950.6 448.9,952.1 449.1,953.7 449.3,954.8 449.4,955.2 449.6,956.7 449.9,958.2 450.1,959.2 450.1,959.7 450.4,961.1 450.7,962.5 450.8,963.3 451.6,967.3 452.3,971.3 453.1,975.1 453.8,978.8 454.6,982.3 455.3,985.6 456.1,988.7 456.8,991.5 457.6,994.1 458.3,996.4 459.1,998.5 459.8,1000.7 460.6,1002.9 461.3,1004.8 462.1,1006.2 462.8,1007.3 463.6,1008.4 464.3,1009.7 465.1,1011 465.8,1012 466.6,1012.8 467.4,1013.6 468.1,1014.5 468.9,1015.5 469.6,1016.6 470.4,1017.6 471.1,1018.4 471.9,1019.3 472.6,1020.5 473.4,1021.7 474.1,1022.6 474.9,1023.1 475.6,1023.6 476.4,1024.4 477.1,1025.4 477.9,1026.1 478.6,1026.5 479.4,1026.6 480.1,1026.9 480.9,1027.4 481.6,1028.1 482.4,1028.9 483.1,1029.4 483.9,1029.5 484.6,1029.4 485.4,1029.8 486.1,1030.7 486.9,1031.8 487.6,1032.6 488.4,1033 489.1,1033.1 489.9,1033.3 490.7,1033.7 491.4,1034.1 492.2,1034.3 492.9,1034.8 493.7,1035.5 494.4,1035.7 495.2,1035.5 495.9,1034.9 496.7,1033.8 497.4,1031.9 498.2,1028.9 498.9,1025.6 499.7,1023 500.4,1022.7 501.2,1024.8 501.9,1028 502.7,1031.2 503.4,1033.9 504.2,1035.4 504.9,1035.1 505.7,1032.8 506.4,1029.3 507.2,1026.9 507.9,1027.3 508.7,1030.6 509.4,1034.8 510.2,1037.8 510.9,1038.9 511.7,1039.3 512.4,1039.7 513.2,1040.5 513.9,1041.1 514.7,1041.4 515.5,1041.2 516.2,1040.8 517,1040.5 517.7,1040.4 518.5,1040.7 519.2,1041.1 520,1041.3 520.7,1041.4 521.5,1041.4 522.2,1041.4 523,1041.3 523.7,1041.5 524.5,1042.2 525.2,1043 526,1043.4 526.7,1043.7 527.5,1043.8 528.2,1043.8 529,1043.8 529.7,1043.7 530.5,1043.7 531.2,1043.7 532,1043.8 532.7,1043.8 533.5,1043.8 534.2,1044.2 535,1044.9 535.7,1045.6 536.5,1045.9 537.2,1046.1 538,1046.3 538.8,1046.7 539.5,1046.9 540.3,1047 541,1047 541.8,1046.9 542.5,1046.9 543.3,1046.8 544,1046.8 544.8,1047 545.5,1047.3 546.3,1047.5 547,1047.8 547.8,1048.1 548.5,1048.2 549.3,1048.1 550,1047.8 550.8,1047.5 551.5,1047.3 552.3,1047.1 553,1046.9 553.8,1046.8 554.5,1046.7 555.3,1046.6 556,1046.3 556.8,1046.3 557.5,1046.6 558.3,1047 559,1047.3 559.8,1047.5 560.5,1047.4 561.3,1047.2 562.1,1046.8 562.8,1046.5 563.6,1046.3 564.3,1046.3 565.1,1046.5 565.8,1046.7 566.6,1046.9 567.3,1047.4 568.1,1048.2 568.8,1048.7 569.6,1048.5 570.3,1047.8 571.1,1047.4 571.8,1047.4 572.6,1047.7 573.3,1048 574.1,1048.3 574.8,1048.5 575.6,1048.6 576.3,1048.8 577.1,1049.3 577.8,1049.8 578.6,1049.9 579.3,1049.7 580.1,1049.4 580.8,1049.2 581.6,1049.4 582.3,1049.8 583.1,1050.2 583.8,1050.2 584.6,1049.9 585.4,1049.5 586.1,1049.2 586.9,1049 587.6,1049.1 588.4,1049.3 589.1,1049.4 589.9,1049.6 590.6,1049.7 591.4,1049.9 592.1,1049.8 592.9,1049.4 593.6,1048.7 594.4,1047.8 595.1,1047.3 595.9,1047.4 596.6,1047.9 597.4,1048.4 598.1,1048.9 598.9,1049.2 599.6,1049.5 600.4,1049.5 601.1,1049.4 601.9,1049.3 602.6,1049.4 603.4,1049.6 604.1,1049.8 604.9,1050.1 605.6,1050.4 606.4,1050.3 607.1,1049.9 607.9,1049.6 608.7,1049.7 609.4,1050 610.2,1050.2 610.9,1050.3 611.7,1050.5 612.4,1050.6 613.2,1050.5 613.9,1050.2 614.7,1050.1 615.4,1050.2 616.2,1050.4 616.9,1050.3 617.7,1050.1 618.4,1050 619.2,1050 619.9,1050 620.7,1049.9 621.4,1049.7 622.2,1049.5 622.9,1049.3 623.7,1048.9 624.4,1048.6 625.2,1048.2 625.9,1048.1 626.7,1048.1 627.4,1047.7 628.2,1046.8 628.9,1046.1 629.7,1046.3 630.4,1046.7 631.2,1046.6 632,1046.2 632.7,1045.9 633.5,1045.8 634.2,1045.7 635,1045.4 635.7,1045.1 636.5,1044.7 637.2,1044.3 638,1044.2 638.7,1044.5 639.5,1045 640.2,1045.2"/>
<polyline stroke="#f00" stroke-opacity="0.6" stroke-width="8.33" points="220.1,1040.8 220.8,1040.8 221.6,1040.8 222.3,1040.8 223.1,1040.8 223.8,1040.9 224.6,1040.9 225.3,1040.9 226.1,1040.9 226.8,1040.9 227.6,1040.9 228.3,1040.9 229.1,1040.9 229.8,1040.9 230.6,1040.9 231.4,1041 232.1,1041 232.9,1041 233.6,1041 234.4,1041 235.1,1041 235.9,1041 236.6,1041 237.4,1041 238.1,1041 238.9,1041 239.6,1041.1 240.4,1041.1 241.1,1041.1 241.9,1041.1 242.6,1041.1 243.4,1041.1 244.1,1041.1 244.9,1041.1 245.6,1041.1 246.4,1041.1 247.1,1041.1 247.9,1041.1 248.6,1041.1 249.4,1041.1 250.1,1041.2 250.9,1041.2 251.6,1041.2 252.4,1041.2 253.1,1041.2 253.9,1041.2 254.6,1041.2 255.4,1041.2 256.2,1041.2 256.9,1041.2 257.7,1041.2 258.4,1041.2 259.2,1041.2 259.9,1041.2 260.7,1041.2 261.4,1041.2 262.2,1041.2 262.9,1041.2 263.7,1041.2 264.4,1041.2 265.2,1041.3 265.9,1041.3 266.7,1041.3 267.4,1041.3 268.2,1041.3 268.9,1041.3 269.7,1041.3 270.4,1041.3 271.2,1041.3 271.9,1041.3 272.7,1041.3 273.4,1041.3 274.2,1041.3 274.9,1041.3 275.7,1041.3 276.4,1041.3 277.2,1041.3 277.9,1041.3 278.7,1041.3 279.5,1041.3 280.2,1041.3 281,1041.3 281.7,1041.3 282.5,1041.3 283.2,1041.3 284,1041.2 284.7,1041.2 285.5,1041.2 286.2,1041.2 287,1041.2 287.7,1041.2 288.5,1041.2 289.2,1041.2 290,1041.2 290.7,1041.2 291.5,1041.2 292.2,1041.2 293,1041.2 293.7,1041.2 294.5,1041.2 295.2,1041.2 296,1041.1 296.7,1041.1 297.5,1041.1 298.2,1041.1 299,1041.1 299.7,1041.1 300.5,1041.1 301.2,1041.1 302,1041 302.8,1041 303.5,1041 304.3,1041 305,1041 305.8,1041 306.5,1041 307.3,1040.9 308,1040.9 308.8,1040.9 309.5,1040.9 310.3,1040.9 311,1040.8 311.8,1040.8 312.5,1040.8 313.3,1040.8 314,1040.7 314.8,1040.7 315.5,1040.7 316.3,1040.7 317,1040.6 317.8,1040.6 318.5,1040.6 319.3,1040.5 320,1040.5 320.8,1040.5 321.5,1040.4 322.3,1040.4 323,1040.4 323.8,1040.3 324.5,1040.3 325.3,1040.2 326.1,1040.2 326.8,1040.2 327.6,1040.1 328.3,1040.1 329.1,1040 329.8,1040 330.6,1039.9 331.3,1039.9 332.1,1039.8 332.8,1039.7 333.6,1039.7 334.3,1039.6 335.1,1039.6 335.8,1039.5 336.6,1039.4 337.3,1039.4 338.1,1039.3 338.8,1039.2 339.6,1039.1 340.3,1039 341.1,1039 341.8,1038.9 342.6,1038.8 343.3,1038.7 344.1,1038.6 344.8,1038.5 345.6,1038.4 346.3,1038.3 347.1,1038.2 347.8,1038.1 348.6,1038 349.4,1037.8 350.1,1037.7 350.9,1037.6 351.6,1037.4 352.4,1037.3 353.1,1037.2 353.9,1037 354.6,1036.9 355.4,1036.7 356.1,1036.5 356.9,1036.4 357.6,1036.2 358.4,1036 359.1,1035.8 359.9,1035.7 360.6,1035.5 361.4,1035.3 362.1,1035 362.9,1034.8 363.6,1034.6 364.4,1034.4 365.1,1034.1 365.9,1033.9 366.6,1033.7 367.4,1033.4 368.1,1033.1 368.9,1032.9 369.6,1032.6 370.4,1032.3 371.1,1032 371.9,1031.7 372.7,1031.4 373.4,1031 374.2,1030.7 374.9,1030.4 375.7,1030 376.4,1029.6 377.2,1029.2 377.9,1028.8 378.7,1028.4 379.4,1028 380.2,1027.6 380.9,1027.1 381.7,1026.6 382.4,1026.1 383.2,1025.6 383.9,1025.1 384.7,1024.5 385.4,1023.9 386.2,1023.3 386.9,1022.6 387.7,1021.9 388.4,1021.2 389.2,1020.4 389.9,1019.6 390.7,1018.7 391.4,1017.7 392.2,1016.7 392.9,1015.6 393.7,1014.5 394.4,1013.2 395.2,1011.9 395.9,1010.5 396.7,1008.9 397.5,1007.3 398.2,1005.5 399,1003.6 399.7,1001.5 400.5,999.3 401.2,996.9 402,994.4 402.7,991.7 403.5,988.9 404.2,985.9 405,982.6 405.7,979.2 406.5,975.6 407.2,971.8 408,967.9 408.7,963.7 409.5,959.4 409.6,958.5 409.9,956.9 410.1,955.4 410.2,954.9 410.4,953.8 410.7,952.2 410.9,950.6 411,950.2 411.2,949 411.4,947.3 411.7,945.6 411.7,945.3 411.9,944 412.2,942.3 412.5,940.6 412.5,940.3 412.7,938.8 413,937.1 413.2,935.3 413.2,935.2 413.5,933.5 413.7,931.7 414,930 414,929.9 414.2,928.1 414.5,926.3 414.7,924.6 414.8,924.5 415,922.6 415.3,920.8 415.5,919.2 415.5,918.9 415.8,917 416,915.2 416.2,913.7 416.3,913.3 416.6,911.4 416.8,909.5 417,908.1 417.1,907.6 417.3,905.7 417.6,903.7 417.7,902.5 417.8,901.8 418.1,899.9 418.4,898 418.5,896.9 418.6,896.1 418.9,894.1 419.1,892.2 419.2,891.2 419.4,890.3 419.6,888.3 419.9,886.4 420,885.6 420.1,884.4 420.4,882.5 420.7,880.5 420.8,879.8 420.9,878.6 421.2,876.6 421.4,874.6 421.5,874.1 421.7,872.6 421.9,870.6 422.2,868.6 422.3,868.1 422.5,866.5 422.7,864.5 423,862.3 423,862 423.2,860.2 423.5,858 423.7,855.7 423.8,855.5 424,853.3 424.2,850.9 424.5,848.4 424.5,848.3 424.8,845.7 425,842.9 425.3,840 425.3,839.9 425.5,836.7 425.8,833.2 426,829.9 426,829.5 426.3,825.4 426.6,820.9 426.8,816.9 426.8,815.9 427.1,810.4 427.3,804.2 427.5,799.2 427.6,797.4 427.8,789.8 428.1,781.4 428.3,775.2 428.4,772.1 428.6,762.2 428.9,751.9 429,745.6 429.1,741.5 429.4,731.7 429.6,723.3 429.8,719.7 429.9,717.2 430.1,714.1 430.4,714.5 430.5,715.9 430.7,718.3 430.9,725 431.2,733.9 431.3,737.8 431.4,744.1 431.7,754.7 431.9,765.2 432,768.6 432.2,775.2 432.5,784.5 432.7,793 432.8,795.1 433,800.7 433.2,807.7 433.5,813.9 433.5,815 433.7,819.5 434,824.6 434.2,829.2 434.3,829.7 434.5,833.4 434.8,837.3 435,840.9 435,841.1 435.3,844.2 435.5,847.4 435.8,850.3 435.8,850.3 436,853.1 436.3,855.8 436.5,858.1 436.6,858.4 436.8,860.8 437.1,863.2 437.3,865.2 437.3,865.6 437.6,867.9 437.8,870.1 438,871.8 438.1,872.3 438.4,874.4 438.6,876.6 438.8,878.1 438.9,878.7 439.1,880.7 439.4,882.8 439.5,884.1 439.6,884.9 439.9,886.9 440.1,888.9 440.3,890.1 440.4,890.9 440.7,892.9 440.9,894.9 441,895.9 441.2,896.9 441.4,898.9 441.7,900.9 441.8,901.7 441.9,902.8 442.2,904.8 442.5,906.7 442.5,907.4 442.7,908.7 443,910.6 443.2,912.5 443.3,913.1 443.5,914.4 443.7,916.3 444,918.2 444.1,918.7 444.3,920.1 444.5,922 444.8,923.9 444.8,924.1 445,925.7 445.3,927.6 445.5,929.4 445.6,929.5 445.8,931.2 446,933 446.3,934.8 446.3,934.8 446.6,936.6 446.8,938.3 447.1,940 447.1,940.1 447.3,941.8 447.6,943.5 447.8,945 447.8,945.2 448.1,946.9 448.4,948.5 448.6,949.8 448.6,950.2 448.9,951.8 449.1,953.4 449.3,954.5 449.4,955 449.6,956.5 449.9,958.1 450.1,959.1 450.1,959.6 450.4,961.1 450.7,962.6 450.8,963.4 451.6,967.6 452.3,971.6 453.1,975.4 453.8,979 454.6,982.4 455.3,985.7 456.1,988.7 456.8,991.6 457.6,994.3 458.3,996.9 459.1,999.3 459.8,1001.5 460.6,1003.6 461.3,1005.5 462.1,1007.4 462.8,1009.1 463.6,1010.6 464.3,1012.1 465.1,1013.5 465.8,1014.8 466.6,1016 467.4,1017.2 468.1,1018.2 468.9,1019.2 469.6,1020.2 470.4,1021.1 471.1,1021.9 471.9,1022.7 472.6,1023.5 473.4,1024.2 474.1,1024.9 474.9,1025.5 475.6,1026.2 476.4,1026.8 477.1,1027.3 477.9,1027.9 478.6,1028.4 479.4,1029 480.1,1029.5 480.9,1029.9 481.6,1030.4 482.4,1030.9 483.1,1031.3 483.9,1031.7 484.6,1032.2 485.4,1032.6 486.1,1033 486.9,1033.4 487.6,1033.7 488.4,1034.1 489.1,1034.5 489.9,1034.8 490.7,1035.2 491.4,1035.5 492.2,1035.8 492.9,1036.1 493.7,1036.4 494.4,1036.7 495.2,1037 495.9,1037.3 496.7,1037.6 497.4,1037.9 498.2,1038.1 498.9,1038.4 499.7,1038.6 500.4,1038.9 501.2,1039.1 501.9,1039.3 502.7,1039.6 503.4,1039.8 504.2,1040 504.9,1040.2 505.7,1040.4 506.4,1040.6 507.2,1040.8 507.9,1041 508.7,1041.2 509.4,1041.4 510.2,1041.5 510.9,1041.7 511.7,1041.9 512.4,1042 513.2,1042.2 513.9,1042.3 514.7,1042.5 515.5,1042.6 516.2,1042.8 517,1042.9 517.7,1043.1 518.5,1043.2 519.2,1043.3 520,1043.4 520.7,1043.6 521.5,1043.7 522.2,1043.8 523,1043.9 523.7,1044 524.5,1044.2 525.2,1044.3 526,1044.4 526.7,1044.5 527.5,1044.6 528.2,1044.7 529,1044.8 529.7,1044.9 530.5,1045 531.2,1045 532,1045.1 532.7,1045.2 533.5,1045.3 534.2,1045.4 535,1045.5 535.7,1045.6 536.5,1045.6 537.2,1045.7 538,1045.8 538.8,1045.9 539.5,1046 540.3,1046 541,1046.1 541.8,1046.2 542.5,1046.2 543.3,1046.3 544,1046.4 544.8,1046.4 545.5,1046.5 546.3,1046.6 547,1046.6 547.8,1046.7 548.5,1046.8 549.3,1046.8 550,1046.9 550.8,1047 551.5,1047 552.3,1047.1 553,1047.1 553.8,1047.2 554.5,1047.2 555.3,1047.3 556,1047.4 556.8,1047.4 557.5,1047.5 558.3,1047.5 559,1047.6 559.8,1047.6 560.5,1047.7 561.3,1047.7 562.1,1047.8 562.8,1047.8 563.6,1047.9 564.3,1047.9 565.1,1048 565.8,1048 566.6,1048.1 567.3,1048.1 568.1,1048.2 568.8,1048.2 569.6,1048.3 570.3,1048.3 571.1,1048.3 571.8,1048.4 572.6,1048.4 573.3,1048.5 574.1,1048.5 574.8,1048.6 575.6,1048.6 576.3,1048.7 577.1,1048.7 577.8,1048.7 578.6,1048.8 579.3,1048.8 580.1,1048.9 580.8,1048.9 581.6,1048.9 582.3,1049 583.1,1049 583.8,1049.1 584.6,1049.1 585.4,1049.1 586.1,1049.2 586.9,1049.2 587.6,1049.3 588.4,1049.3 589.1,1049.3 589.9,1049.4 590.6,1049.4 591.4,1049.4 592.1,1049.5 592.9,1049.5 593.6,1049.6 594.4,1049.6 595.1,1049.6 595.9,1049.7 596.6,1049.7 597.4,1049.7 598.1,1049.8 598.9,1049.8 599.6,1049.8 600.4,1049.9 601.1,1049.9 601.9,1049.9 602.6,1050 603.4,1050 604.1,1050 604.9,1050.1 605.6,1050.1 606.4,1050.1 607.1,1050.2 607.9,1050.2 608.7,1050.2 609.4,1050.3 610.2,1050.3 610.9,1050.3 611.7,1050.4 612.4,1050.4 613.2,1050.4 613.9,1050.5 614.7,1050.5 615.4,1050.5 616.2,1050.5 616.9,1050.6 617.7,1050.6 618.4,1050.6 619.2,1050.7 619.9,1050.7 620.7,1050.7 621.4,1050.8 622.2,1050.8 622.9,1050.8 623.7,1050.9 624.4,1050.9 625.2,1050.9 625.9,1050.9 626.7,1051 627.4,1051 628.2,1051 628.9,1051.1 629.7,1051.1 630.4,1051.1 631.2,1051.1 632,1051.2 632.7,1051.2 633.5,1051.2 634.2,1051.3 635,1051.3 635.7,1051.3 636.5,1051.3 637.2,1051.4 638,1051.4 638.7,1051.4 639.5,1051.5 640.2,1051.5"/>
</g>
<path d="M225 1095.35v-6.94M225 695.65v6.94M327.57 1095.35v-6.94M327.57 695.65v6.94M430.15 1095.35v-6.94M430.15 695.65v6.94M532.72 1095.35v-6.94M532.72 695.65v6.94M635.29 1095.35v-6.94M635.29 695.65v6.94M225 1076.9h6.94M635.29 1076.9h-6.94M225 979.59h6.94M635.29 979.59h-6.94M225 882.29h6.94M635.29 882.29h-6.94M225 784.98h6.94M635.29 784.98h-6.94" stroke="#000" stroke-width="2" fill="none"/>
<rect x="225" y="695.65" width="410.29" height="399.71" fill="none" stroke="#000" stroke-width="2"/>
<g class="tl" text-anchor="middle">
<text x="225" y="1128.85">−20</text>
<text x="327.57" y="1128.85">−10</text>
<text x="430.15" y="1128.85">0</text>
<text x="532.72" y="1128.85">10</text>
<text x="635.29" y="1128.85">20</text>
</g>
<g class="tl" text-anchor="end">
<text x="217.4" y="1089.8">0</text>
<text x="217.4" y="992.49">1</text>
<text x="217.4" y="895.19">2</text>
<text x="217.4" y="797.88">3</text>
</g>
<text class="tt" text-anchor="middle" x="430.15" y="683.65" fill="#bc3587">+ 246 d</text>
</g>
<g class="panel">
<g clip-path="url(#c4)" fill="none" stroke-linejoin="round" stroke-linecap="square">
<polyline stroke="#a11b9b" stroke-width="5.56" points="712.4,1046.7 713.2,1047.7 713.9,1047.4 714.7,1046.2 715.4,1046 716.2,1047.3 716.9,1048.4 717.7,1048.2 718.4,1047.6 719.2,1048.2 719.9,1049.3 720.7,1049.9 721.4,1049.7 722.2,1049.2 723,1048.5 723.7,1047.6 724.5,1047.1 725.2,1046.9 726,1046.8 726.7,1047.1 727.5,1048 728.2,1048.9 729,1049.3 729.7,1049.1 730.5,1048.8 731.2,1048.2 732,1047.8 732.7,1048 733.5,1048.7 734.2,1049.5 735,1049.9 735.7,1049.8 736.5,1048.9 737.2,1047.6 738,1046.6 738.7,1046.9 739.5,1048.1 740.2,1048.7 741,1048.6 741.7,1048.6 742.5,1049 743.2,1049.4 744,1048.7 744.7,1047.6 745.5,1047.2 746.3,1047.5 747,1048.2 747.8,1048.6 748.5,1048.2 749.3,1046.5 750,1044.3 750.8,1042.6 751.5,1042.1 752.3,1042.9 753,1044.1 753.8,1045.4 754.5,1046.1 755.3,1046.1 756,1046.2 756.8,1046.6 757.5,1047 758.3,1047.3 759,1047.7 759.8,1048.1 760.5,1048.3 761.3,1048.5 762,1048.9 762.8,1049.5 763.5,1050.6 764.3,1051.2 765,1050.8 765.8,1049.8 766.5,1049.5 767.3,1050.1 768,1050.4 768.8,1050.4 769.6,1050.6 770.3,1050.6 771.1,1050.4 771.8,1050.3 772.6,1050.1 773.3,1049.7 774.1,1049.2 774.8,1048.7 775.6,1049.1 776.3,1050.7 777.1,1052.4 777.8,1052.5 778.6,1051.3 779.3,1050 780.1,1049.5 780.8,1049.7 781.6,1049.9 782.3,1049.7 783.1,1049 783.8,1048 784.6,1046.7 785.3,1045.6 786.1,1045.4 786.8,1045.9 787.6,1046.2 788.3,1046.3 789.1,1046.7 789.8,1047.1 790.6,1047.8 791.3,1048.7 792.1,1049.5 792.9,1049.4 793.6,1048.3 794.4,1047.3 795.1,1046.8 795.9,1047 796.6,1047.8 797.4,1049.6 798.1,1051.5 798.9,1053.1 799.6,1054.1 800.4,1054 801.1,1053.1 801.9,1052.3 802.6,1051.8 803.4,1051.3 804.1,1050.5 804.9,1049.9 805.6,1049.6 806.4,1049.2 807.1,1048.8 807.9,1048.7 808.6,1049.5 809.4,1050.8 810.1,1052 810.9,1052.4 811.6,1051.6 812.4,1050.3 813.1,1049.7 813.9,1050.2 814.6,1050.9 815.4,1050.8 816.1,1050.3 816.9,1050.6 817.7,1051.6 818.4,1052.9 819.2,1054.3 819.9,1054.8 820.7,1053.9 821.4,1052.8 822.2,1052.7 822.9,1053.2 823.7,1053.7 824.4,1053.8 825.2,1053.3 825.9,1052.2 826.7,1051.3 827.4,1051.8 828.2,1053.3 828.9,1054.4 829.7,1054.7 830.4,1054.7 831.2,1054.4 831.9,1053 832.7,1051.1 833.4,1050.4 834.2,1050.6 834.9,1051.2 835.7,1052.6 836.4,1054.2 837.2,1054.6 837.9,1053.7 838.7,1053 839.4,1052.8 840.2,1052.2 841,1050.9 841.7,1050 842.5,1050.7 843.2,1052.3 844,1053.6 844.7,1054.9 845.5,1056.6 846.2,1057.4 847,1057.1 847.7,1056.4 848.5,1056 849.2,1055.5 850,1054 850.7,1051.6 851.5,1049.8 852.2,1049.6 853,1050.4 853.7,1050.8 854.5,1050.6 855.2,1051.2 856,1052.1 856.7,1051.8 857.5,1050.4 858.2,1049.2 859,1048.7 859.7,1048.5 860.5,1048.4 861.2,1048.2 862,1046.9 862.7,1045 863.5,1044 864.3,1044.4 865,1044.9 865.8,1045 866.5,1045.3 867.3,1046.2 868,1046.5 868.8,1045.8 869.5,1044.8 870.3,1044.6 871,1045.6 871.8,1047.3 872.5,1049.4 873.3,1051.9 874,1054.3 874.8,1055.7 875.5,1056.2 876.3,1056.4 877,1055.9 877.8,1054.5 878.5,1053 879.3,1052.4 880,1051.7 880.8,1050.4 881.5,1048.8 882.3,1047.9 883,1047.8 883.8,1047.5 884.5,1046.2 885.3,1044.5 886,1043.3 886.8,1043.2 887.6,1043.6 888.3,1043.4 889.1,1041.9 889.8,1039.8 890.6,1038.4 891.3,1037.8 892.1,1036.6 892.8,1034.3 893.6,1031.8 894.3,1029.4 895.1,1026.1 895.8,1021 896.6,1015.7 897.3,1011 898.1,1006.8 898.8,1003.7 899.6,1001.3 900.3,998.3 901.1,993.7 901.8,987.6 902,986.2 902.2,983.7 902.5,981.3 902.6,980.6 902.8,979 903,976.6 903.3,974.5 903.3,974 903.5,972.6 903.8,970.6 904,968.9 904.1,968.6 904.3,967.2 904.5,965.5 904.8,963.6 904.8,963.4 905.1,961.7 905.3,959.8 905.6,957.6 905.6,957.5 905.8,955.4 906.1,953.3 906.3,951.1 906.3,951.1 906.6,948.9 906.9,946.7 907.1,944.8 907.1,944.6 907.4,942.5 907.6,940.3 907.8,938.5 907.9,938.1 908.1,935.9 908.4,933.7 908.6,931.9 908.7,931.4 908.9,929 909.2,926.8 909.3,925.3 909.4,924.6 909.7,922.4 909.9,920.3 910.1,919 910.2,918.2 910.4,916.1 910.7,914 910.9,912.8 911,911.9 911.2,909.8 911.5,907.7 911.6,906.6 911.7,905.5 912,903.4 912.2,901.3 912.4,900.4 912.5,899.2 912.8,897.2 913,895.2 913.1,894.5 913.3,893.3 913.5,891.4 913.8,889.6 913.9,889.1 914,887.9 914.3,886.4 914.6,885 914.6,884.7 914.8,883.8 915.1,882.8 915.3,881.9 915.4,881.8 915.6,881.3 915.8,880.7 916.1,880.3 916.1,880.3 916.3,879.9 916.6,879.6 916.9,879.2 916.9,879.2 917.1,878.8 917.4,878.2 917.6,877.4 917.6,877.4 917.9,876.2 918.1,874.5 918.4,872.3 918.4,871.9 918.7,868 918.9,862.2 919.1,855.6 919.2,853.7 919.4,842.1 919.7,826.9 919.9,813.3 919.9,808.1 920.2,786.6 920.4,764.1 920.6,749.6 920.7,742.9 921,725.8 921.2,715.2 921.4,712.8 921.5,712.8 921.7,719.1 922,733 922.1,743 922.2,752.8 922.5,776 922.8,799.8 922.9,810.5 923,822.1 923.3,841.4 923.5,856.9 923.6,861.9 923.8,868.5 924,876.6 924.3,882 924.4,883.3 924.6,885.3 924.8,887.2 925.1,888.3 925.1,888.5 925.3,888.9 925.6,889.2 925.8,889.3 925.9,889.4 926.1,889.5 926.3,889.6 926.6,889.7 926.6,889.8 926.9,889.9 927.1,890 927.4,890.2 927.4,890.2 927.6,890.4 927.9,890.7 928.1,890.9 928.1,890.9 928.4,891.2 928.7,891.6 928.9,892 928.9,892 929.2,892.5 929.4,893.2 929.6,893.9 929.7,894 929.9,895 930.2,896.2 930.4,897.2 930.4,897.6 930.7,899.1 931,900.7 931.1,901.9 931.2,902.5 931.5,904.3 931.7,906.2 931.9,907.4 932,908.1 932.2,910 932.5,911.9 932.6,913.1 932.8,913.9 933,915.9 933.3,917.9 933.4,918.9 933.5,919.9 933.8,921.9 934,923.9 934.1,924.8 934.3,925.9 934.6,927.9 934.8,930 934.9,930.8 935.1,932.1 935.3,934.3 935.6,936.7 935.7,937.4 935.8,939.1 936.1,941.4 936.3,943.9 936.4,944.5 936.6,946.4 936.9,948.8 937.1,951.1 937.2,951.4 937.4,953.3 937.6,955.4 937.9,957.4 937.9,957.6 938.1,959.3 938.4,961.2 938.7,962.9 938.7,962.9 938.9,964.6 939.2,966.3 939.4,967.9 939.4,967.9 939.7,969.6 939.9,971.2 940.2,972.7 940.2,972.9 940.5,974.5 940.7,976.2 940.9,977.6 941,977.9 941.2,979.6 941.5,981.2 941.7,982.4 941.7,982.8 942,984.3 942.2,985.4 942.4,986.2 942.5,986.6 942.8,987.6 943,988.3 943.2,988.8 943.9,991.2 944.7,994 945.4,996.8 946.2,999.5 946.9,1002.8 947.7,1006.6 948.4,1010.1 949.2,1012.8 949.9,1014.8 950.7,1016.5 951.4,1017.5 952.2,1018 952.9,1018.6 953.7,1019.4 954.4,1020.1 955.2,1019.7 955.9,1019 956.7,1018.8 957.4,1019 958.2,1019.7 959,1021.4 959.7,1024.1 960.5,1026.7 961.2,1028.6 962,1029.9 962.7,1031.1 963.5,1032.1 964.2,1032.5 965,1032.3 965.7,1032 966.5,1032.5 967.2,1033.4 968,1034 968.7,1034.1 969.5,1034 970.2,1033.8 971,1033.5 971.7,1033.2 972.5,1033.2 973.2,1033.9 974,1035.1 974.7,1036 975.5,1036.5 976.2,1037.7 977,1040.1 977.7,1042.7 978.5,1043.4 979.2,1041.6 980,1039.2 980.7,1038.2 981.5,1038.9 982.3,1040.8 983,1042.7 983.8,1043.6 984.5,1043.4 985.3,1042.9 986,1042.4 986.8,1042 987.5,1041.5 988.3,1041.1 989,1040.2 989.8,1038 990.5,1034.2 991.3,1029.9 992,1027.1 992.8,1026.9 993.5,1028.8 994.3,1032.1 995,1035.5 995.8,1037.5 996.5,1036.8 997.3,1034 998,1031.1 998.8,1029.5 999.5,1029.6 1000.3,1031.3 1001,1034.3 1001.8,1038 1002.5,1041.8 1003.3,1044.2 1004,1044.8 1004.8,1044.6 1005.6,1045 1006.3,1046.1 1007.1,1047.1 1007.8,1047.2 1008.6,1046.5 1009.3,1045.9 1010.1,1046.2 1010.8,1047.3 1011.6,1048 1012.3,1047.4 1013.1,1046.3 1013.8,1046.1 1014.6,1046.7 1015.3,1046.7 1016.1,1046.1 1016.8,1046.3 1017.6,1047.7 1018.3,1049.2 1019.1,1049.8 1019.8,1049.7 1020.6,1049.3 1021.3,1048.5 1022.1,1047.7 1022.8,1047.7 1023.6,1048.4 1024.3,1048.8 1025.1,1048.8 1025.8,1048.9 1026.6,1049 1027.3,1048.9 1028.1,1048.6 1028.9,1048.4 1029.6,1048 1030.4,1047.4 1031.1,1046.9 1031.9,1046.3 1032.6,1045.8 1033.4,1046.1 1034.1,1047.6 1034.9,1049.5 1035.6,1050.3 1036.4,1049.6 1037.1,1048.9 1037.9,1049.1 1038.6,1050.1 1039.4,1051.2 1040.1,1052 1040.9,1052.3 1041.6,1052.3 1042.4,1052.2 1043.1,1051.6 1043.9,1050.8 1044.6,1050.6 1045.4,1051.1 1046.1,1051.1 1046.9,1050.3 1047.6,1049.2 1048.4,1048.8 1049.1,1048.8 1049.9,1048.6 1050.6,1048 1051.4,1047.6 1052.1,1048.2 1052.9,1049.8 1053.7,1051.3 1054.4,1051.5 1055.2,1050.1 1055.9,1048.5 1056.7,1048 1057.4,1048.7 1058.2,1049.9 1058.9,1050.9 1059.7,1051.6 1060.4,1052 1061.2,1052.1 1061.9,1052 1062.7,1051.5 1063.4,1051 1064.2,1050.5 1064.9,1050 1065.7,1050.2 1066.4,1051.3 1067.2,1053 1067.9,1053.3 1068.7,1051.6 1069.4,1049 1070.2,1047.7 1070.9,1048.3 1071.7,1049.8 1072.4,1051 1073.2,1051.6 1073.9,1052.4 1074.7,1053.7 1075.4,1054.5 1076.2,1055 1077,1055.8 1077.7,1056.1 1078.5,1055.2 1079.2,1053.8 1080,1053 1080.7,1052.9 1081.5,1053.1 1082.2,1053.3 1083,1053.3 1083.7,1053 1084.5,1052.3 1085.2,1051.9 1086,1052.6 1086.7,1053.7 1087.5,1053.2 1088.2,1051.2 1089,1049.6 1089.7,1049.6 1090.5,1050.6 1091.2,1051.6 1092,1051.7 1092.7,1050.9 1093.5,1050.6 1094.2,1051 1095,1051.3 1095.7,1050.4 1096.5,1048.6 1097.2,1046.5 1098,1044.7 1098.7,1043.6 1099.5,1043.9 1100.3,1045.4 1101,1047 1101.8,1047.4 1102.5,1047 1103.3,1047.5 1104,1049.4 1104.8,1051 1105.5,1050.6 1106.3,1049 1107,1048.2 1107.8,1048.7 1108.5,1049.3 1109.3,1048.6 1110,1046.7 1110.8,1045.1 1111.5,1045.2 1112.3,1046.6 1113,1047.4 1113.8,1046.9 1114.5,1046 1115.3,1046.1 1116,1047.1 1116.8,1048.5 1117.5,1050.2 1118.3,1051.4 1119,1051.6 1119.8,1051.2 1120.5,1051.7 1121.3,1052.8 1122,1052.8 1122.8,1051.2 1123.6,1049.3 1124.3,1048.9 1125.1,1049.5 1125.8,1050.1 1126.6,1050.1 1127.3,1049.9 1128.1,1049.4 1128.8,1048.6 1129.6,1047.9 1130.3,1048.1 1131.1,1049.2 1131.8,1050.6 1132.6,1052.1"/>
<polyline stroke="#f00" stroke-opacity="0.6" stroke-width="8.33" points="712.4,1047.4 713.2,1047.5 713.9,1047.5 714.7,1047.5 715.4,1047.5 716.2,1047.5 716.9,1047.5 717.7,1047.5 718.4,1047.5 719.2,1047.5 719.9,1047.5 720.7,1047.5 721.4,1047.5 722.2,1047.5 723,1047.5 723.7,1047.5 724.5,1047.5 725.2,1047.5 726,1047.5 726.7,1047.5 727.5,1047.5 728.2,1047.5 729,1047.6 729.7,1047.6 730.5,1047.6 731.2,1047.6 732,1047.6 732.7,1047.6 733.5,1047.6 734.2,1047.6 735,1047.6 735.7,1047.6 736.5,1047.6 737.2,1047.6 738,1047.6 738.7,1047.6 739.5,1047.6 740.2,1047.6 741,1047.6 741.7,1047.6 742.5,1047.6 743.2,1047.6 744,1047.6 744.7,1047.6 745.5,1047.6 746.3,1047.6 747,1047.6 747.8,1047.6 748.5,1047.6 749.3,1047.6 750,1047.6 750.8,1047.6 751.5,1047.6 752.3,1047.6 753,1047.6 753.8,1047.6 754.5,1047.6 755.3,1047.6 756,1047.6 756.8,1047.6 757.5,1047.6 758.3,1047.6 759,1047.6 759.8,1047.6 760.5,1047.6 761.3,1047.6 762,1047.6 762.8,1047.6 763.5,1047.6 764.3,1047.6 765,1047.6 765.8,1047.6 766.5,1047.6 767.3,1047.6 768,1047.6 768.8,1047.6 769.6,1047.6 770.3,1047.6 771.1,1047.6 771.8,1047.6 772.6,1047.6 773.3,1047.6 774.1,1047.6 774.8,1047.6 775.6,1047.6 776.3,1047.6 777.1,1047.6 777.8,1047.6 778.6,1047.6 779.3,1047.5 780.1,1047.5 780.8,1047.5 781.6,1047.5 782.3,1047.5 783.1,1047.5 783.8,1047.5 784.6,1047.5 785.3,1047.5 786.1,1047.5 786.8,1047.5 787.6,1047.5 788.3,1047.4 789.1,1047.4 789.8,1047.4 790.6,1047.4 791.3,1047.4 792.1,1047.4 792.9,1047.4 793.6,1047.4 794.4,1047.4 795.1,1047.3 795.9,1047.3 796.6,1047.3 797.4,1047.3 798.1,1047.3 798.9,1047.3 799.6,1047.2 800.4,1047.2 801.1,1047.2 801.9,1047.2 802.6,1047.2 803.4,1047.2 804.1,1047.1 804.9,1047.1 805.6,1047.1 806.4,1047.1 807.1,1047.1 807.9,1047 808.6,1047 809.4,1047 810.1,1047 810.9,1046.9 811.6,1046.9 812.4,1046.9 813.1,1046.9 813.9,1046.8 814.6,1046.8 815.4,1046.8 816.1,1046.7 816.9,1046.7 817.7,1046.7 818.4,1046.6 819.2,1046.6 819.9,1046.6 820.7,1046.5 821.4,1046.5 822.2,1046.5 822.9,1046.4 823.7,1046.4 824.4,1046.3 825.2,1046.3 825.9,1046.2 826.7,1046.2 827.4,1046.1 828.2,1046.1 828.9,1046 829.7,1046 830.4,1045.9 831.2,1045.9 831.9,1045.8 832.7,1045.8 833.4,1045.7 834.2,1045.7 834.9,1045.6 835.7,1045.5 836.4,1045.5 837.2,1045.4 837.9,1045.3 838.7,1045.2 839.4,1045.2 840.2,1045.1 841,1045 841.7,1044.9 842.5,1044.8 843.2,1044.8 844,1044.7 844.7,1044.6 845.5,1044.5 846.2,1044.4 847,1044.3 847.7,1044.2 848.5,1044.1 849.2,1043.9 850,1043.8 850.7,1043.7 851.5,1043.6 852.2,1043.5 853,1043.3 853.7,1043.2 854.5,1043 855.2,1042.9 856,1042.7 856.7,1042.6 857.5,1042.4 858.2,1042.3 859,1042.1 859.7,1041.9 860.5,1041.7 861.2,1041.5 862,1041.3 862.7,1041.1 863.5,1040.9 864.3,1040.7 865,1040.4 865.8,1040.2 866.5,1039.9 867.3,1039.7 868,1039.4 868.8,1039.1 869.5,1038.8 870.3,1038.5 871,1038.2 871.8,1037.8 872.5,1037.5 873.3,1037.1 874,1036.7 874.8,1036.3 875.5,1035.9 876.3,1035.5 877,1035 877.8,1034.5 878.5,1034 879.3,1033.4 880,1032.9 880.8,1032.2 881.5,1031.6 882.3,1030.9 883,1030.2 883.8,1029.4 884.5,1028.6 885.3,1027.7 886,1026.8 886.8,1025.8 887.6,1024.8 888.3,1023.6 889.1,1022.4 889.8,1021.1 890.6,1019.8 891.3,1018.3 892.1,1016.8 892.8,1015.1 893.6,1013.3 894.3,1011.4 895.1,1009.4 895.8,1007.2 896.6,1004.9 897.3,1002.4 898.1,999.8 898.8,997 899.6,994 900.3,990.9 901.1,987.5 901.8,984 902,983.2 902.2,982 902.5,980.7 902.6,980.2 902.8,979.4 903,978 903.3,976.6 903.3,976.3 903.5,975.2 903.8,973.8 904,972.4 904.1,972.1 904.3,970.9 904.5,969.4 904.8,967.9 904.8,967.7 905.1,966.4 905.3,964.8 905.6,963.2 905.6,963.1 905.8,961.6 906.1,959.9 906.3,958.3 906.3,958.2 906.6,956.5 906.9,954.8 907.1,953.2 907.1,953 907.4,951.3 907.6,949.5 907.8,947.9 907.9,947.6 908.1,945.8 908.4,943.9 908.6,942.4 908.7,942 908.9,940.1 909.2,938.1 909.3,936.7 909.4,936.1 909.7,934.1 909.9,932.1 910.1,930.8 910.2,930.1 910.4,928 910.7,926 910.9,924.8 911,923.9 911.2,921.8 911.5,919.6 911.6,918.6 911.7,917.5 912,915.4 912.2,913.2 912.4,912.3 912.5,911 912.8,908.9 913,906.7 913.1,905.9 913.3,904.5 913.5,902.4 913.8,900.2 913.9,899.5 914,898 914.3,895.8 914.6,893.7 914.6,893.2 914.8,891.6 915.1,889.4 915.3,887.3 915.4,887 915.6,885.2 915.8,883.2 916.1,881.1 916.1,881 916.3,879.1 916.6,877.2 916.9,875.2 916.9,875.2 917.1,873.3 917.4,871.4 917.6,869.6 917.6,869.5 917.9,867.5 918.1,865.3 918.4,863.1 918.4,862.8 918.7,859.5 918.9,855 919.1,850.1 919.2,848.7 919.4,839.7 919.7,827.3 919.9,815.8 919.9,811.4 920.2,792.1 920.4,770.6 920.6,756 920.7,749.1 921,730.5 921.2,717.9 921.4,714.3 921.5,713.8 921.7,719 922,732.4 922.1,742 922.2,751.2 922.5,772.2 922.8,792.8 922.9,801.7 923,811 923.3,825.7 923.5,836.8 923.6,840.3 923.8,844.7 924,850.1 924.3,853.8 924.4,854.8 924.6,856.5 924.8,858.5 925.1,860.1 925.1,860.6 925.3,861.7 925.6,863.3 925.8,864.8 925.9,865.1 926.1,866.4 926.3,868.1 926.6,869.8 926.6,870 926.9,871.6 927.1,873.5 927.4,875.3 927.4,875.4 927.6,877.3 927.9,879.3 928.1,881.2 928.1,881.3 928.4,883.3 928.7,885.4 928.9,887.4 928.9,887.6 929.2,889.7 929.4,891.9 929.6,893.7 929.7,894.1 929.9,896.3 930.2,898.5 930.4,900.3 930.4,900.8 930.7,903 931,905.3 931.1,906.8 931.2,907.5 931.5,909.8 931.7,912 931.9,913.4 932,914.2 932.2,916.5 932.5,918.7 932.6,919.9 932.8,920.9 933,923.1 933.3,925.3 933.4,926.3 933.5,927.4 933.8,929.6 934,931.7 934.1,932.6 934.3,933.8 934.6,935.9 934.8,937.9 934.9,938.6 935.1,939.9 935.3,941.9 935.6,943.9 935.7,944.5 935.8,945.9 936.1,947.8 936.3,949.7 936.4,950.1 936.6,951.6 936.9,953.4 937.1,955.2 937.2,955.5 937.4,957 937.6,958.8 937.9,960.5 937.9,960.6 938.1,962.2 938.4,963.9 938.7,965.5 938.7,965.5 938.9,967.1 939.2,968.7 939.4,970.2 939.4,970.3 939.7,971.8 939.9,973.3 940.2,974.6 940.2,974.7 940.5,976.2 940.7,977.6 940.9,978.7 941,979 941.2,980.3 941.5,981.7 941.7,982.7 941.7,983 942,984.3 942.2,985.5 942.4,986.4 942.5,986.8 942.8,988 943,989.1 943.2,989.8 943.9,993.1 944.7,996.2 945.4,999.1 946.2,1001.8 946.9,1004.3 947.7,1006.7 948.4,1008.9 949.2,1011 949.9,1013 950.7,1014.8 951.4,1016.5 952.2,1018.1 952.9,1019.6 953.7,1021.1 954.4,1022.4 955.2,1023.6 955.9,1024.8 956.7,1025.9 957.4,1026.9 958.2,1027.9 959,1028.8 959.7,1029.7 960.5,1030.5 961.2,1031.3 962,1032 962.7,1032.7 963.5,1033.4 964.2,1034 965,1034.6 965.7,1035.1 966.5,1035.7 967.2,1036.2 968,1036.7 968.7,1037.2 969.5,1037.6 970.2,1038 971,1038.4 971.7,1038.8 972.5,1039.2 973.2,1039.6 974,1039.9 974.7,1040.3 975.5,1040.6 976.2,1040.9 977,1041.2 977.7,1041.5 978.5,1041.8 979.2,1042.1 980,1042.3 980.7,1042.6 981.5,1042.8 982.3,1043 983,1043.3 983.8,1043.5 984.5,1043.7 985.3,1043.9 986,1044.1 986.8,1044.3 987.5,1044.5 988.3,1044.7 989,1044.9 989.8,1045 990.5,1045.2 991.3,1045.4 992,1045.5 992.8,1045.7 993.5,1045.8 994.3,1046 995,1046.1 995.8,1046.2 996.5,1046.4 997.3,1046.5 998,1046.6 998.8,1046.8 999.5,1046.9 1000.3,1047 1001,1047.1 1001.8,1047.2 1002.5,1047.3 1003.3,1047.4 1004,1047.5 1004.8,1047.6 1005.6,1047.7 1006.3,1047.8 1007.1,1047.9 1007.8,1048 1008.6,1048.1 1009.3,1048.2 1010.1,1048.3 1010.8,1048.4 1011.6,1048.5 1012.3,1048.5 1013.1,1048.6 1013.8,1048.7 1014.6,1048.8 1015.3,1048.8 1016.1,1048.9 1016.8,1049 1017.6,1049.1 1018.3,1049.1 1019.1,1049.2 1019.8,1049.3 1020.6,1049.3 1021.3,1049.4 1022.1,1049.5 1022.8,1049.5 1023.6,1049.6 1024.3,1049.6 1025.1,1049.7 1025.8,1049.8 1026.6,1049.8 1027.3,1049.9 1028.1,1049.9 1028.9,1050 1029.6,1050 1030.4,1050.1 1031.1,1050.1 1031.9,1050.2 1032.6,1050.2 1033.4,1050.3 1034.1,1050.3 1034.9,1050.4 1035.6,1050.4 1036.4,1050.5 1037.1,1050.5 1037.9,1050.6 1038.6,1050.6 1039.4,1050.7 1040.1,1050.7 1040.9,1050.7 1041.6,1050.8 1042.4,1050.8 1043.1,1050.9 1043.9,1050.9 1044.6,1051 1045.4,1051 1046.1,1051 1046.9,1051.1 1047.6,1051.1 1048.4,1051.1 1049.1,1051.2 1049.9,1051.2 1050.6,1051.3 1051.4,1051.3 1052.1,1051.3 1052.9,1051.4 1053.7,1051.4 1054.4,1051.4 1055.2,1051.5 1055.9,1051.5 1056.7,1051.5 1057.4,1051.6 1058.2,1051.6 1058.9,1051.6 1059.7,1051.7 1060.4,1051.7 1061.2,1051.7 1061.9,1051.8 1062.7,1051.8 1063.4,1051.8 1064.2,1051.8 1064.9,1051.9 1065.7,1051.9 1066.4,1051.9 1067.2,1052 1067.9,1052 1068.7,1052 1069.4,1052 1070.2,1052.1 1070.9,1052.1 1071.7,1052.1 1072.4,1052.2 1073.2,1052.2 1073.9,1052.2 1074.7,1052.2 1075.4,1052.3 1076.2,1052.3 1077,1052.3 1077.7,1052.3 1078.5,1052.4 1079.2,1052.4 1080,1052.4 1080.7,1052.4 1081.5,1052.5 1082.2,1052.5 1083,1052.5 1083.7,1052.5 1084.5,1052.6 1085.2,1052.6 1086,1052.6 1086.7,1052.6 1087.5,1052.6 1088.2,1052.7 1089,1052.7 1089.7,1052.7 1090.5,1052.7 1091.2,1052.8 1092,1052.8 1092.7,1052.8 1093.5,1052.8 1094.2,1052.9 1095,1052.9 1095.7,1052.9 1096.5,1052.9 1097.2,1052.9 1098,1053 1098.7,1053 1099.5,1053 1100.3,1053 1101,1053 1101.8,1053.1 1102.5,1053.1 1103.3,1053.1 1104,1053.1 1104.8,1053.1 1105.5,1053.2 1106.3,1053.2 1107,1053.2 1107.8,1053.2 1108.5,1053.2 1109.3,1053.3 1110,1053.3 1110.8,1053.3 1111.5,1053.3 1112.3,1053.3 1113,1053.4 1113.8,1053.4 1114.5,1053.4 1115.3,1053.4 1116,1053.4 1116.8,1053.5 1117.5,1053.5 1118.3,1053.5 1119,1053.5 1119.8,1053.5 1120.5,1053.5 1121.3,1053.6 1122,1053.6 1122.8,1053.6 1123.6,1053.6 1124.3,1053.6 1125.1,1053.7 1125.8,1053.7 1126.6,1053.7 1127.3,1053.7 1128.1,1053.7 1128.8,1053.7 1129.6,1053.8 1130.3,1053.8 1131.1,1053.8 1131.8,1053.8 1132.6,1053.8"/>
</g>
<path d="M717.35 1095.35v-6.94M717.35 695.65v6.94M819.93 1095.35v-6.94M819.93 695.65v6.94M922.5 1095.35v-6.94M922.5 695.65v6.94M1025.07 1095.35v-6.94M1025.07 695.65v6.94M1127.65 1095.35v-6.94M1127.65 695.65v6.94M717.35 1074.1h6.94M1127.65 1074.1h-6.94M717.35 960.79h6.94M1127.65 960.79h-6.94M717.35 847.48h6.94M1127.65 847.48h-6.94M717.35 734.17h6.94M1127.65 734.17h-6.94" stroke="#000" stroke-width="2" fill="none"/>
<rect x="717.35" y="695.65" width="410.29" height="399.71" fill="none" stroke="#000" stroke-width="2"/>
<g class="tl" text-anchor="middle">
<text x="717.35" y="1128.85">−20</text>
<text x="819.93" y="1128.85">−10</text>
<text x="922.5" y="1128.85">0</text>
<text x="1025.07" y="1128.85">10</text>
<text x="1127.65" y="1128.85">20</text>
</g>
<g class="tl" text-anchor="end">
<text x="709.75" y="1087">0</text>
<text x="709.75" y="973.69">1</text>
<text x="709.75" y="860.38">2</text>
<text x="709.75" y="747.07">3</text>
</g>
<text class="tt" text-anchor="middle" x="922.5" y="683.65" fill="#a11b9b">+ 293 d</text>
</g>
<g class="panel">
<g clip-path="url(#c5)" fill="none" stroke-linejoin="round" stroke-linecap="square">
<polyline stroke="#8305a7" stroke-width="5.56" points="1204.8,1056.6 1205.5,1056.7 1206.3,1056.8 1207,1057.1 1207.8,1057.4 1208.5,1057.5 1209.3,1057.3 1210,1057 1210.8,1056.4 1211.5,1055.9 1212.3,1055.6 1213,1055.6 1213.8,1055.8 1214.6,1056.1 1215.3,1056.4 1216.1,1056.5 1216.8,1056.5 1217.6,1056.6 1218.3,1056.5 1219.1,1056.1 1219.8,1055.6 1220.6,1055 1221.3,1054.6 1222.1,1054.3 1222.8,1054.2 1223.6,1054.2 1224.3,1054.3 1225.1,1054.6 1225.8,1055.1 1226.6,1055.6 1227.3,1056 1228.1,1056.3 1228.8,1056.6 1229.6,1056.9 1230.3,1057.1 1231.1,1057.5 1231.8,1057.8 1232.6,1058.1 1233.3,1058.3 1234.1,1058.7 1234.8,1059.2 1235.6,1059.7 1236.3,1059.9 1237.1,1059.9 1237.9,1059.9 1238.6,1060 1239.4,1060.2 1240.1,1060.3 1240.9,1060 1241.6,1059.5 1242.4,1058.9 1243.1,1058.3 1243.9,1057.7 1244.6,1057.3 1245.4,1056.9 1246.1,1056.8 1246.9,1056.8 1247.6,1057 1248.4,1057.2 1249.1,1057.3 1249.9,1057.4 1250.6,1057.7 1251.4,1058 1252.1,1058.4 1252.9,1058.7 1253.6,1059 1254.4,1059.3 1255.1,1059.7 1255.9,1060 1256.6,1060.2 1257.4,1060.3 1258.1,1060.3 1258.9,1060.4 1259.6,1060.3 1260.4,1060.3 1261.2,1060.2 1261.9,1060.2 1262.7,1060.1 1263.4,1059.9 1264.2,1059.8 1264.9,1059.6 1265.7,1059.5 1266.4,1059.3 1267.2,1059.3 1267.9,1059.4 1268.7,1059.6 1269.4,1059.8 1270.2,1059.9 1270.9,1059.7 1271.7,1059.3 1272.4,1058.8 1273.2,1058.4 1273.9,1058.1 1274.7,1058 1275.4,1058.1 1276.2,1058.5 1276.9,1058.8 1277.7,1059.1 1278.4,1059.2 1279.2,1059.2 1279.9,1059 1280.7,1058.5 1281.4,1057.7 1282.2,1056.6 1282.9,1055.7 1283.7,1054.9 1284.5,1054.6 1285.2,1054.5 1286,1054.4 1286.7,1054.3 1287.5,1054.1 1288.2,1054 1289,1054 1289.7,1054.3 1290.5,1054.9 1291.2,1055.8 1292,1056.8 1292.7,1057.6 1293.5,1057.9 1294.2,1057.9 1295,1057.7 1295.7,1057.4 1296.5,1057 1297.2,1056.6 1298,1056.3 1298.7,1056 1299.5,1055.6 1300.2,1055.1 1301,1054.7 1301.7,1054.4 1302.5,1054.2 1303.2,1054.1 1304,1054.3 1304.7,1054.6 1305.5,1054.8 1306.2,1055 1307,1055 1307.8,1055 1308.5,1054.8 1309.3,1054.7 1310,1054.5 1310.8,1054.4 1311.5,1054.3 1312.3,1054.2 1313,1054.3 1313.8,1054.4 1314.5,1054.7 1315.3,1055 1316,1055.3 1316.8,1055.9 1317.5,1056.6 1318.3,1057.4 1319,1058 1319.8,1058.2 1320.5,1058.1 1321.3,1058.1 1322,1058.1 1322.8,1058 1323.5,1057.6 1324.3,1057.2 1325,1057.1 1325.8,1057.4 1326.5,1057.9 1327.3,1058.2 1328,1058.5 1328.8,1058.7 1329.5,1058.9 1330.3,1059.2 1331.1,1059.3 1331.8,1059.2 1332.6,1059.1 1333.3,1059 1334.1,1058.9 1334.8,1059 1335.6,1059 1336.3,1059 1337.1,1059 1337.8,1058.8 1338.6,1058.8 1339.3,1058.8 1340.1,1058.7 1340.8,1058.5 1341.6,1058.5 1342.3,1058.7 1343.1,1058.9 1343.8,1059.3 1344.6,1059.6 1345.3,1059.9 1346.1,1060.2 1346.8,1060.4 1347.6,1060.6 1348.3,1060.9 1349.1,1061.2 1349.8,1061.6 1350.6,1061.7 1351.3,1061.5 1352.1,1060.9 1352.8,1060.3 1353.6,1060.1 1354.3,1060.1 1355.1,1060.5 1355.9,1061 1356.6,1061.4 1357.4,1061.6 1358.1,1061.6 1358.9,1061.4 1359.6,1061 1360.4,1060.6 1361.1,1060.1 1361.9,1059.4 1362.6,1058.5 1363.4,1057.6 1364.1,1056.7 1364.9,1055.9 1365.6,1055 1366.4,1054 1367.1,1052.9 1367.9,1052 1368.6,1051.5 1369.4,1051.1 1370.1,1050.7 1370.9,1050.2 1371.6,1049.7 1372.4,1049.1 1373.1,1048.4 1373.9,1047.4 1374.6,1046.1 1375.4,1044.7 1376.1,1043 1376.9,1041.1 1377.6,1039 1378.4,1037.2 1379.2,1035.5 1379.9,1033.7 1380.7,1031.6 1381.4,1029.4 1382.2,1027.5 1382.9,1025.9 1383.7,1024.2 1384.4,1022.1 1385.2,1019.8 1385.9,1017.3 1386.7,1014.9 1387.4,1012.4 1388.2,1009.7 1388.9,1006.6 1389.7,1003.1 1390.4,998.8 1391.2,992.7 1391.9,985.8 1392.7,978.6 1393.4,971.9 1394.2,966.2 1394.3,965.2 1394.6,963.6 1394.9,961.9 1394.9,961.3 1395.1,960.1 1395.4,958.4 1395.6,956.6 1395.7,956.1 1395.9,954.8 1396.1,952.9 1396.4,951 1396.4,950.7 1396.6,949.1 1396.9,947.2 1397.2,945.3 1397.2,945 1397.4,943.3 1397.7,941.3 1397.9,939.4 1397.9,939.3 1398.2,937.4 1398.4,935.4 1398.7,933.5 1398.7,933.4 1399,931.5 1399.2,929.5 1399.4,927.6 1399.5,927.4 1399.7,925.4 1400,923.4 1400.2,921.6 1400.2,921.3 1400.5,919.2 1400.7,917 1400.9,915.3 1401,914.8 1401.3,912.6 1401.5,910.4 1401.7,908.8 1401.8,908.2 1402,905.9 1402.3,903.7 1402.5,902.2 1402.5,901.4 1402.8,899.1 1403.1,896.8 1403.2,895.4 1403.3,894.4 1403.6,892 1403.8,889.6 1404,888.4 1404.1,887.2 1404.3,884.7 1404.6,882.1 1404.7,881 1404.9,879.6 1405.1,876.9 1405.4,874.2 1405.5,873.2 1405.6,871.5 1405.9,868.7 1406.1,865.8 1406.2,864.9 1406.4,862.8 1406.6,859.8 1406.9,856.7 1407,856 1407.2,853.4 1407.4,850.1 1407.7,846.5 1407.7,846 1407.9,842.8 1408.2,838.9 1408.4,834.8 1408.5,834.4 1408.7,830.4 1409,825.7 1409.2,820.8 1409.2,820.7 1409.5,815.4 1409.7,809.7 1410,804 1410,803.6 1410.2,797.1 1410.5,790.1 1410.7,783.6 1410.8,782.7 1411,774.9 1411.3,766.7 1411.5,760 1411.5,758.4 1411.8,749.9 1412,741.7 1412.2,736 1412.3,734.1 1412.5,727.3 1412.8,722 1413,719.3 1413.1,718.3 1413.3,716.7 1413.6,717.2 1413.7,718.5 1413.8,719.8 1414.1,724.3 1414.3,730.4 1414.5,734.2 1414.6,737.7 1414.9,745.8 1415.1,754.2 1415.2,758.2 1415.4,762.8 1415.6,771.2 1415.9,779.3 1416,782.5 1416.1,787.1 1416.4,794.4 1416.6,801.3 1416.7,803.5 1416.9,807.8 1417.2,813.8 1417.4,819.4 1417.5,820.8 1417.7,824.6 1417.9,829.5 1418.2,834.1 1418.2,835 1418.4,838.5 1418.7,842.6 1419,846.5 1419,846.9 1419.2,850.2 1419.5,853.7 1419.7,857 1419.7,857.2 1420,860.3 1420.2,863.4 1420.5,866.3 1420.5,866.4 1420.8,869.3 1421,872.1 1421.2,874.6 1421.3,874.9 1421.5,877.6 1421.8,880.2 1422,882.4 1422,882.8 1422.3,885.3 1422.5,887.8 1422.7,889.7 1422.8,890.3 1423.1,892.7 1423.3,895.1 1423.5,896.8 1423.6,897.5 1423.8,899.9 1424.1,902.2 1424.2,903.7 1424.3,904.6 1424.6,906.9 1424.9,909.2 1425,910.5 1425.1,911.4 1425.4,913.7 1425.6,915.9 1425.8,917 1425.9,918.1 1426.1,920.2 1426.4,922.3 1426.5,923.2 1426.6,924.3 1426.9,926.1 1427.2,927.8 1427.3,928.3 1427.4,929.1 1427.7,929.8 1427.9,929.8 1428,929.6 1428.2,929 1428.4,927.8 1428.7,926.7 1428.8,926.5 1429,926.2 1429.2,926.5 1429.5,927.4 1429.5,927.6 1429.7,928.8 1430,930.5 1430.2,932.3 1430.3,932.5 1430.5,934.2 1430.8,936.2 1431,938.1 1431,938.1 1431.3,940 1431.5,941.9 1431.8,943.7 1431.8,943.8 1432,945.7 1432.3,947.5 1432.5,949.1 1432.5,949.4 1432.8,951.2 1433.1,953.1 1433.3,954.5 1433.3,954.9 1433.6,956.7 1433.8,958.6 1434,960 1434.1,960.5 1434.3,962.4 1434.6,964.3 1434.8,965.6 1434.9,966.2 1435.1,968 1435.4,969.8 1435.5,970.9 1436.3,976 1437,980.9 1437.8,985.8 1438.5,990.6 1439.3,995 1440,999 1440.8,1002.8 1441.5,1006.4 1442.3,1009.8 1443,1012.7 1443.8,1015.3 1444.5,1017.8 1445.3,1020.1 1446,1022.1 1446.8,1023.8 1447.5,1025.7 1448.3,1027.6 1449.1,1029.5 1449.8,1031.1 1450.6,1032.5 1451.3,1033.9 1452.1,1035.3 1452.8,1036.8 1453.6,1038.3 1454.3,1039.5 1455.1,1040.4 1455.8,1041 1456.6,1041.4 1457.3,1041.8 1458.1,1042.3 1458.8,1043 1459.6,1043.6 1460.3,1044.2 1461.1,1044.7 1461.8,1045 1462.6,1045.1 1463.3,1045.3 1464.1,1045.6 1464.8,1046 1465.6,1046.3 1466.3,1046.5 1467.1,1046.7 1467.8,1047 1468.6,1047.4 1469.3,1048 1470.1,1048.8 1470.8,1049.6 1471.6,1050.3 1472.3,1050.6 1473.1,1050.7 1473.9,1050.9 1474.6,1051.1 1475.4,1051.4 1476.1,1051.5 1476.9,1051.5 1477.6,1051.7 1478.4,1051.9 1479.1,1052.2 1479.9,1052.5 1480.6,1052.8 1481.4,1052.8 1482.1,1052.6 1482.9,1052.3 1483.6,1052.4 1484.4,1052.9 1485.1,1053.5 1485.9,1053.9 1486.6,1054.3 1487.4,1054.5 1488.1,1054.7 1488.9,1054.8 1489.6,1054.7 1490.4,1054.6 1491.1,1054.5 1491.9,1054.5 1492.6,1054.7 1493.4,1055 1494.1,1055.1 1494.9,1055 1495.6,1054.8 1496.4,1054.7 1497.2,1054.9 1497.9,1054.9 1498.7,1054.7 1499.4,1054.2 1500.2,1053.8 1500.9,1053.7 1501.7,1054 1502.4,1054.2 1503.2,1054.2 1503.9,1053.9 1504.7,1053.6 1505.4,1053.2 1506.2,1052.8 1506.9,1052.5 1507.7,1052.2 1508.4,1052.2 1509.2,1052.4 1509.9,1052.7 1510.7,1052.9 1511.4,1053 1512.2,1053.2 1512.9,1053.6 1513.7,1054.1 1514.4,1054.6 1515.2,1054.8 1515.9,1054.8 1516.7,1054.4 1517.4,1053.9 1518.2,1053.2 1518.9,1052.7 1519.7,1052.4 1520.5,1052.5 1521.2,1052.8 1522,1053.4 1522.7,1054.1 1523.5,1054.8 1524.2,1055.6 1525,1056.2 1525.7,1056.5 1526.5,1056.7 1527.2,1056.9 1528,1057.2 1528.7,1057.8 1529.5,1058.5 1530.2,1059 1531,1059.2 1531.7,1059.3 1532.5,1059.5 1533.2,1059.8 1534,1060.1 1534.7,1060.3 1535.5,1060.3 1536.2,1060.2 1537,1059.8 1537.7,1059.4 1538.5,1058.9 1539.2,1058.5 1540,1058.2 1540.7,1058.1 1541.5,1058 1542.2,1057.9 1543,1057.7 1543.8,1057.6 1544.5,1057.5 1545.3,1057.5 1546,1057.4 1546.8,1057.3 1547.5,1056.9 1548.3,1056.3 1549,1055.2 1549.8,1053.6 1550.5,1051.5 1551.3,1049.1 1552,1046.6 1552.8,1044.4 1553.5,1042.7 1554.3,1041.9 1555,1042.2 1555.8,1043.5 1556.5,1045.6 1557.3,1048.1 1558,1050.8 1558.8,1053.4 1559.5,1055.6 1560.3,1057 1561,1057.3 1561.8,1056.7 1562.5,1055.4 1563.3,1053.9 1564,1052.2 1564.8,1050.6 1565.5,1049.4 1566.3,1048.6 1567.1,1048.3 1567.8,1048.6 1568.6,1049.6 1569.3,1051.4 1570.1,1053.4 1570.8,1055.4 1571.6,1056.9 1572.3,1058 1573.1,1058.9 1573.8,1059.6 1574.6,1060.2 1575.3,1060.7 1576.1,1060.8 1576.8,1060.8 1577.6,1060.8 1578.3,1060.8 1579.1,1060.8 1579.8,1060.6 1580.6,1060.1 1581.3,1059.7 1582.1,1059.4 1582.8,1059.5 1583.6,1059.7 1584.3,1060 1585.1,1060.3 1585.8,1060.7 1586.6,1061.2 1587.3,1061.6 1588.1,1061.8 1588.8,1062 1589.6,1062.1 1590.4,1062.1 1591.1,1062.1 1591.9,1061.9 1592.6,1061.8 1593.4,1061.9 1594.1,1062.1 1594.9,1062.1 1595.6,1061.9 1596.4,1061.7 1597.1,1061.5 1597.9,1061.4 1598.6,1061.4 1599.4,1061.3 1600.1,1061.3 1600.9,1061.3 1601.6,1061.3 1602.4,1061.2 1603.1,1061 1603.9,1060.9 1604.6,1060.7 1605.4,1060.7 1606.1,1060.8 1606.9,1061 1607.6,1061.2 1608.4,1061.3 1609.1,1061.2 1609.9,1061.1 1610.6,1061.1 1611.4,1061.2 1612.1,1061.5 1612.9,1061.6 1613.6,1061.7 1614.4,1061.5 1615.2,1061.3 1615.9,1061.1 1616.7,1060.9 1617.4,1060.9 1618.2,1061 1618.9,1061.3 1619.7,1061.8 1620.4,1062.2 1621.2,1062.2 1621.9,1061.9 1622.7,1061.6 1623.4,1061.4 1624.2,1061.4 1624.9,1061.3"/>
<polyline stroke="#f00" stroke-opacity="0.6" stroke-width="8.33" points="1204.8,1056.7 1205.5,1056.7 1206.3,1056.7 1207,1056.7 1207.8,1056.7 1208.5,1056.7 1209.3,1056.7 1210,1056.7 1210.8,1056.7 1211.5,1056.7 1212.3,1056.7 1213,1056.7 1213.8,1056.7 1214.6,1056.7 1215.3,1056.7 1216.1,1056.7 1216.8,1056.7 1217.6,1056.7 1218.3,1056.7 1219.1,1056.7 1219.8,1056.7 1220.6,1056.7 1221.3,1056.7 1222.1,1056.7 1222.8,1056.7 1223.6,1056.7 1224.3,1056.7 1225.1,1056.7 1225.8,1056.7 1226.6,1056.6 1227.3,1056.6 1228.1,1056.6 1228.8,1056.6 1229.6,1056.6 1230.3,1056.6 1231.1,1056.6 1231.8,1056.6 1232.6,1056.6 1233.3,1056.6 1234.1,1056.6 1234.8,1056.6 1235.6,1056.6 1236.3,1056.6 1237.1,1056.6 1237.9,1056.6 1238.6,1056.6 1239.4,1056.6 1240.1,1056.6 1240.9,1056.5 1241.6,1056.5 1242.4,1056.5 1243.1,1056.5 1243.9,1056.5 1244.6,1056.5 1245.4,1056.5 1246.1,1056.5 1246.9,1056.5 1247.6,1056.5 1248.4,1056.5 1249.1,1056.5 1249.9,1056.4 1250.6,1056.4 1251.4,1056.4 1252.1,1056.4 1252.9,1056.4 1253.6,1056.4 1254.4,1056.4 1255.1,1056.4 1255.9,1056.4 1256.6,1056.4 1257.4,1056.3 1258.1,1056.3 1258.9,1056.3 1259.6,1056.3 1260.4,1056.3 1261.2,1056.3 1261.9,1056.3 1262.7,1056.3 1263.4,1056.2 1264.2,1056.2 1264.9,1056.2 1265.7,1056.2 1266.4,1056.2 1267.2,1056.2 1267.9,1056.2 1268.7,1056.1 1269.4,1056.1 1270.2,1056.1 1270.9,1056.1 1271.7,1056.1 1272.4,1056.1 1273.2,1056 1273.9,1056 1274.7,1056 1275.4,1056 1276.2,1056 1276.9,1055.9 1277.7,1055.9 1278.4,1055.9 1279.2,1055.9 1279.9,1055.9 1280.7,1055.8 1281.4,1055.8 1282.2,1055.8 1282.9,1055.8 1283.7,1055.7 1284.5,1055.7 1285.2,1055.7 1286,1055.7 1286.7,1055.6 1287.5,1055.6 1288.2,1055.6 1289,1055.6 1289.7,1055.5 1290.5,1055.5 1291.2,1055.5 1292,1055.4 1292.7,1055.4 1293.5,1055.4 1294.2,1055.3 1295,1055.3 1295.7,1055.3 1296.5,1055.2 1297.2,1055.2 1298,1055.2 1298.7,1055.1 1299.5,1055.1 1300.2,1055 1301,1055 1301.7,1055 1302.5,1054.9 1303.2,1054.9 1304,1054.8 1304.7,1054.8 1305.5,1054.7 1306.2,1054.7 1307,1054.6 1307.8,1054.6 1308.5,1054.5 1309.3,1054.5 1310,1054.4 1310.8,1054.4 1311.5,1054.3 1312.3,1054.3 1313,1054.2 1313.8,1054.1 1314.5,1054.1 1315.3,1054 1316,1054 1316.8,1053.9 1317.5,1053.8 1318.3,1053.7 1319,1053.7 1319.8,1053.6 1320.5,1053.5 1321.3,1053.4 1322,1053.4 1322.8,1053.3 1323.5,1053.2 1324.3,1053.1 1325,1053 1325.8,1052.9 1326.5,1052.8 1327.3,1052.7 1328,1052.6 1328.8,1052.5 1329.5,1052.4 1330.3,1052.3 1331.1,1052.2 1331.8,1052.1 1332.6,1052 1333.3,1051.9 1334.1,1051.7 1334.8,1051.6 1335.6,1051.5 1336.3,1051.3 1337.1,1051.2 1337.8,1051.1 1338.6,1050.9 1339.3,1050.8 1340.1,1050.6 1340.8,1050.5 1341.6,1050.3 1342.3,1050.1 1343.1,1050 1343.8,1049.8 1344.6,1049.6 1345.3,1049.4 1346.1,1049.2 1346.8,1049 1347.6,1048.8 1348.3,1048.6 1349.1,1048.4 1349.8,1048.2 1350.6,1048 1351.3,1047.7 1352.1,1047.5 1352.8,1047.2 1353.6,1047 1354.3,1046.7 1355.1,1046.5 1355.9,1046.2 1356.6,1045.9 1357.4,1045.6 1358.1,1045.3 1358.9,1044.9 1359.6,1044.6 1360.4,1044.3 1361.1,1043.9 1361.9,1043.5 1362.6,1043.1 1363.4,1042.7 1364.1,1042.3 1364.9,1041.9 1365.6,1041.4 1366.4,1040.9 1367.1,1040.4 1367.9,1039.8 1368.6,1039.2 1369.4,1038.6 1370.1,1038 1370.9,1037.3 1371.6,1036.6 1372.4,1035.8 1373.1,1035 1373.9,1034.1 1374.6,1033.1 1375.4,1032.1 1376.1,1031 1376.9,1029.8 1377.6,1028.6 1378.4,1027.2 1379.2,1025.8 1379.9,1024.2 1380.7,1022.6 1381.4,1020.8 1382.2,1018.9 1382.9,1016.9 1383.7,1014.7 1384.4,1012.3 1385.2,1009.8 1385.9,1007.2 1386.7,1004.4 1387.4,1001.4 1388.2,998.2 1388.9,994.8 1389.7,991.3 1390.4,987.5 1391.2,983.6 1391.9,979.4 1392.7,975.1 1393.4,970.6 1394.2,965.9 1394.3,964.9 1394.6,963.2 1394.9,961.5 1394.9,960.9 1395.1,959.8 1395.4,958 1395.6,956.3 1395.7,955.8 1395.9,954.5 1396.1,952.7 1396.4,950.9 1396.4,950.5 1396.6,949 1396.9,947.2 1397.2,945.3 1397.2,945.1 1397.4,943.4 1397.7,941.5 1397.9,939.5 1397.9,939.4 1398.2,937.6 1398.4,935.6 1398.7,933.6 1398.7,933.6 1399,931.5 1399.2,929.5 1399.4,927.6 1399.5,927.4 1399.7,925.4 1400,923.3 1400.2,921.5 1400.2,921.2 1400.5,919 1400.7,916.9 1400.9,915.2 1401,914.7 1401.3,912.5 1401.5,910.3 1401.7,908.7 1401.8,908.1 1402,905.8 1402.3,903.6 1402.5,902.1 1402.5,901.3 1402.8,899 1403.1,896.7 1403.2,895.3 1403.3,894.3 1403.6,891.9 1403.8,889.5 1404,888.3 1404.1,887.1 1404.3,884.6 1404.6,882.1 1404.7,881 1404.9,879.5 1405.1,876.9 1405.4,874.3 1405.5,873.3 1405.6,871.6 1405.9,868.8 1406.1,865.9 1406.2,865.1 1406.4,863 1406.6,860 1406.9,856.9 1407,856.1 1407.2,853.6 1407.4,850.2 1407.7,846.7 1407.7,846.1 1407.9,843 1408.2,839.1 1408.4,834.9 1408.5,834.6 1408.7,830.5 1409,825.8 1409.2,820.8 1409.2,820.7 1409.5,815.4 1409.7,809.7 1410,803.8 1410,803.5 1410.2,796.8 1410.5,789.7 1410.7,783 1410.8,782 1411,774 1411.3,765.6 1411.5,758.5 1411.5,756.9 1411.8,748.2 1412,739.7 1412.2,733.8 1412.3,731.8 1412.5,724.9 1412.8,719.3 1413,716.6 1413.1,715.6 1413.3,713.9 1413.6,714.5 1413.7,715.9 1413.8,717.2 1414.1,721.9 1414.3,728.2 1414.5,732.1 1414.6,735.7 1414.9,744 1415.1,752.7 1415.2,756.8 1415.4,761.5 1415.6,770.2 1415.9,778.6 1416,781.8 1416.1,786.5 1416.4,794 1416.6,801 1416.7,803.2 1416.9,807.5 1417.2,813.6 1417.4,819.3 1417.5,820.7 1417.7,824.6 1417.9,829.5 1418.2,834.1 1418.2,835 1418.4,838.5 1418.7,842.6 1419,846.5 1419,846.9 1419.2,850.1 1419.5,853.7 1419.7,857 1419.7,857.2 1420,860.3 1420.2,863.4 1420.5,866.4 1420.5,866.4 1420.8,869.3 1421,872.2 1421.2,874.7 1421.3,875 1421.5,877.7 1421.8,880.3 1422,882.5 1422,882.9 1422.3,885.5 1422.5,888 1422.7,889.9 1422.8,890.5 1423.1,892.9 1423.3,895.3 1423.5,897 1423.6,897.7 1423.8,900.1 1424.1,902.4 1424.2,903.9 1424.3,904.7 1424.6,907 1424.9,909.3 1425,910.5 1425.1,911.5 1425.4,913.7 1425.6,915.9 1425.8,917 1425.9,918.1 1426.1,920.2 1426.4,922.4 1426.5,923.3 1426.6,924.5 1426.9,926.6 1427.2,928.6 1427.3,929.4 1427.4,930.7 1427.7,932.7 1427.9,934.7 1428,935.3 1428.2,936.7 1428.4,938.7 1428.7,940.7 1428.8,941.1 1429,942.6 1429.2,944.5 1429.5,946.4 1429.5,946.7 1429.7,948.3 1430,950.1 1430.2,952 1430.3,952.1 1430.5,953.8 1430.8,955.6 1431,957.3 1431,957.3 1431.3,959.1 1431.5,960.8 1431.8,962.4 1431.8,962.5 1432,964.2 1432.3,965.8 1432.5,967.2 1432.5,967.4 1432.8,969.1 1433.1,970.6 1433.3,971.9 1433.3,972.2 1433.6,973.7 1433.8,975.3 1434,976.4 1434.1,976.8 1434.3,978.2 1434.6,979.7 1434.8,980.6 1434.9,981.1 1435.1,982.5 1435.4,983.9 1435.5,984.7 1436.3,988.6 1437,992.3 1437.8,995.7 1438.5,999 1439.3,1002.2 1440,1005.1 1440.8,1007.9 1441.5,1010.5 1442.3,1012.9 1443,1015.2 1443.8,1017.3 1444.5,1019.3 1445.3,1021.2 1446,1023 1446.8,1024.6 1447.5,1026.1 1448.3,1027.5 1449.1,1028.9 1449.8,1030.1 1450.6,1031.3 1451.3,1032.3 1452.1,1033.4 1452.8,1034.3 1453.6,1035.2 1454.3,1036 1455.1,1036.8 1455.8,1037.5 1456.6,1038.2 1457.3,1038.9 1458.1,1039.5 1458.8,1040.1 1459.6,1040.7 1460.3,1041.2 1461.1,1041.7 1461.8,1042.2 1462.6,1042.7 1463.3,1043.1 1464.1,1043.5 1464.8,1043.9 1465.6,1044.3 1466.3,1044.7 1467.1,1045.1 1467.8,1045.4 1468.6,1045.8 1469.3,1046.1 1470.1,1046.4 1470.8,1046.7 1471.6,1047 1472.3,1047.3 1473.1,1047.6 1473.9,1047.9 1474.6,1048.2 1475.4,1048.4 1476.1,1048.7 1476.9,1048.9 1477.6,1049.2 1478.4,1049.4 1479.1,1049.6 1479.9,1049.9 1480.6,1050.1 1481.4,1050.3 1482.1,1050.5 1482.9,1050.7 1483.6,1050.9 1484.4,1051.1 1485.1,1051.3 1485.9,1051.5 1486.6,1051.6 1487.4,1051.8 1488.1,1052 1488.9,1052.1 1489.6,1052.3 1490.4,1052.5 1491.1,1052.6 1491.9,1052.8 1492.6,1052.9 1493.4,1053 1494.1,1053.2 1494.9,1053.3 1495.6,1053.4 1496.4,1053.6 1497.2,1053.7 1497.9,1053.8 1498.7,1053.9 1499.4,1054.1 1500.2,1054.2 1500.9,1054.3 1501.7,1054.4 1502.4,1054.5 1503.2,1054.6 1503.9,1054.7 1504.7,1054.8 1505.4,1054.9 1506.2,1055 1506.9,1055.1 1507.7,1055.2 1508.4,1055.3 1509.2,1055.4 1509.9,1055.5 1510.7,1055.5 1511.4,1055.6 1512.2,1055.7 1512.9,1055.8 1513.7,1055.9 1514.4,1055.9 1515.2,1056 1515.9,1056.1 1516.7,1056.2 1517.4,1056.2 1518.2,1056.3 1518.9,1056.4 1519.7,1056.4 1520.5,1056.5 1521.2,1056.6 1522,1056.6 1522.7,1056.7 1523.5,1056.7 1524.2,1056.8 1525,1056.9 1525.7,1056.9 1526.5,1057 1527.2,1057 1528,1057.1 1528.7,1057.1 1529.5,1057.2 1530.2,1057.2 1531,1057.3 1531.7,1057.3 1532.5,1057.4 1533.2,1057.4 1534,1057.5 1534.7,1057.5 1535.5,1057.6 1536.2,1057.6 1537,1057.7 1537.7,1057.7 1538.5,1057.7 1539.2,1057.8 1540,1057.8 1540.7,1057.9 1541.5,1057.9 1542.2,1057.9 1543,1058 1543.8,1058 1544.5,1058.1 1545.3,1058.1 1546,1058.1 1546.8,1058.2 1547.5,1058.2 1548.3,1058.2 1549,1058.3 1549.8,1058.3 1550.5,1058.3 1551.3,1058.4 1552,1058.4 1552.8,1058.4 1553.5,1058.5 1554.3,1058.5 1555,1058.5 1555.8,1058.6 1556.5,1058.6 1557.3,1058.6 1558,1058.7 1558.8,1058.7 1559.5,1058.7 1560.3,1058.8 1561,1058.8 1561.8,1058.8 1562.5,1058.8 1563.3,1058.9 1564,1058.9 1564.8,1058.9 1565.5,1059 1566.3,1059 1567.1,1059 1567.8,1059 1568.6,1059.1 1569.3,1059.1 1570.1,1059.1 1570.8,1059.1 1571.6,1059.2 1572.3,1059.2 1573.1,1059.2 1573.8,1059.2 1574.6,1059.3 1575.3,1059.3 1576.1,1059.3 1576.8,1059.3 1577.6,1059.3 1578.3,1059.4 1579.1,1059.4 1579.8,1059.4 1580.6,1059.4 1581.3,1059.5 1582.1,1059.5 1582.8,1059.5 1583.6,1059.5 1584.3,1059.5 1585.1,1059.6 1585.8,1059.6 1586.6,1059.6 1587.3,1059.6 1588.1,1059.6 1588.8,1059.7 1589.6,1059.7 1590.4,1059.7 1591.1,1059.7 1591.9,1059.7 1592.6,1059.8 1593.4,1059.8 1594.1,1059.8 1594.9,1059.8 1595.6,1059.8 1596.4,1059.9 1597.1,1059.9 1597.9,1059.9 1598.6,1059.9 1599.4,1059.9 1600.1,1059.9 1600.9,1060 1601.6,1060 1602.4,1060 1603.1,1060 1603.9,1060 1604.6,1060.1 1605.4,1060.1 1606.1,1060.1 1606.9,1060.1 1607.6,1060.1 1608.4,1060.1 1609.1,1060.2 1609.9,1060.2 1610.6,1060.2 1611.4,1060.2 1612.1,1060.2 1612.9,1060.2 1613.6,1060.2 1614.4,1060.3 1615.2,1060.3 1615.9,1060.3 1616.7,1060.3 1617.4,1060.3 1618.2,1060.3 1618.9,1060.4 1619.7,1060.4 1620.4,1060.4 1621.2,1060.4 1621.9,1060.4 1622.7,1060.4 1623.4,1060.4 1624.2,1060.5 1624.9,1060.5"/>
</g>
<path d="M1209.71 1095.35v-6.94M1209.71 695.65v6.94M1312.28 1095.35v-6.94M1312.28 695.65v6.94M1414.85 1095.35v-6.94M1414.85 695.65v6.94M1517.43 1095.35v-6.94M1517.43 695.65v6.94M1620 1095.35v-6.94M1620 695.65v6.94M1209.71 1076.9h6.94M1620 1076.9h-6.94M1209.71 957.8h6.94M1620 957.8h-6.94M1209.71 838.69h6.94M1620 838.69h-6.94M1209.71 719.59h6.94M1620 719.59h-6.94" stroke="#000" stroke-width="2" fill="none"/>
<rect x="1209.71" y="695.65" width="410.29" height="399.71" fill="none" stroke="#000" stroke-width="2"/>
<g class="tl" text-anchor="middle">
<text x="1209.71" y="1128.85">−10</text>
<text x="1312.28" y="1128.85">−5</text>
<text x="1414.85" y="1128.85">0</text>
<text x="1517.43" y="1128.85">5</text>
<text x="1620" y="1128.85">10</text>
</g>
<g class="tl" text-anchor="end">
<text x="1202.11" y="1089.8">0</text>
<text x="1202.11" y="970.7">1</text>
<text x="1202.11" y="851.59">2</text>
<text x="1202.11" y="732.49">3</text>
</g>
<text class="tt" text-anchor="middle" x="1414.85" y="683.65" fill="#8305a7">+ 505 d</text>
</g>
<g class="panel">
<g clip-path="url(#c6)" fill="none" stroke-linejoin="round" stroke-linecap="square">
<polyline stroke="#6001a6" stroke-width="5.56" points="220.1,1531.6 220.8,1531.3 221.6,1531 222.3,1530.6 223.1,1530.3 223.8,1530 224.6,1529.7 225.3,1529.4 226.1,1529.1 226.8,1528.8 227.6,1528.4 228.3,1527.7 229.1,1526.8 229.8,1525.7 230.6,1524.8 231.4,1524 232.1,1523.5 232.9,1523.3 233.6,1523.1 234.4,1522.9 235.1,1522.7 235.9,1522.5 236.6,1522.3 237.4,1522.1 238.1,1521.9 238.9,1521.7 239.6,1521.5 240.4,1521.3 241.1,1521.3 241.9,1521.3 242.6,1521.4 243.4,1521.5 244.1,1521.7 244.9,1521.8 245.6,1522 246.4,1522.2 247.1,1522.4 247.9,1522.6 248.6,1522.8 249.4,1523 250.1,1523.4 250.9,1524 251.6,1524.7 252.4,1525.4 253.1,1526 253.9,1526.3 254.6,1526.4 255.4,1526.1 256.2,1525.4 256.9,1524.3 257.7,1523.1 258.4,1522 259.2,1521.1 259.9,1520.5 260.7,1520.5 261.4,1520.9 262.2,1521.6 262.9,1522.6 263.7,1523.8 264.4,1525.1 265.2,1526.3 265.9,1527.2 266.7,1527.8 267.4,1527.9 268.2,1527.5 268.9,1526.7 269.7,1525.6 270.4,1524.3 271.2,1523 271.9,1521.8 272.7,1520.7 273.4,1520 274.2,1519.8 274.9,1520 275.7,1520.5 276.4,1521.1 277.2,1521.8 277.9,1522.6 278.7,1523.4 279.5,1524.2 280.2,1525 281,1525.7 281.7,1526.2 282.5,1526.5 283.2,1526.6 284,1526.7 284.7,1526.6 285.5,1526.5 286.2,1526.2 287,1525.8 287.7,1525.2 288.5,1524.6 289.2,1524.1 290,1523.8 290.7,1523.6 291.5,1523.5 292.2,1523.4 293,1523.3 293.7,1523.2 294.5,1523.1 295.2,1523 296,1523 296.7,1523 297.5,1523 298.2,1523 299,1522.9 299.7,1522.8 300.5,1522.8 301.2,1522.8 302,1523 302.8,1523.3 303.5,1523.6 304.3,1523.8 305,1524 305.8,1524.1 306.5,1524.2 307.3,1524.2 308,1524.1 308.8,1524 309.5,1523.9 310.3,1523.8 311,1523.5 311.8,1523 312.5,1522.4 313.3,1521.8 314,1521.3 314.8,1521.2 315.5,1521.4 316.3,1522.1 317,1522.9 317.8,1523.8 318.5,1524.4 319.3,1524.5 320,1523.9 320.8,1522.7 321.5,1521.3 322.3,1519.9 323,1519 323.8,1518.8 324.5,1518.8 325.3,1518.9 326.1,1519 326.8,1519.2 327.6,1519.3 328.3,1519.4 329.1,1519.6 329.8,1519.8 330.6,1520.6 331.3,1521.6 332.1,1522.7 332.8,1523.6 333.6,1524 334.3,1523.8 335.1,1523.1 335.8,1522.1 336.6,1521.3 337.3,1521 338.1,1521.5 338.8,1522.5 339.6,1523.7 340.3,1524.8 341.1,1525.5 341.8,1525.5 342.6,1525.3 343.3,1525 344.1,1524.6 344.8,1524.3 345.6,1524 346.3,1523.8 347.1,1523.5 347.8,1523.1 348.6,1522.8 349.4,1522.5 350.1,1522.4 350.9,1522.3 351.6,1522.3 352.4,1522.5 353.1,1522.6 353.9,1522.7 354.6,1522.7 355.4,1522.7 356.1,1522.8 356.9,1523 357.6,1523.3 358.4,1523.8 359.1,1524.3 359.9,1524.9 360.6,1525.5 361.4,1526 362.1,1526.5 362.9,1526.9 363.6,1527.3 364.4,1527.8 365.1,1528.2 365.9,1528.6 366.6,1528.9 367.4,1529.1 368.1,1529.2 368.9,1529.3 369.6,1529.4 370.4,1529.3 371.1,1529.2 371.9,1528.9 372.7,1528.6 373.4,1528.3 374.2,1528.1 374.9,1527.8 375.7,1527.4 376.4,1526.9 377.2,1526.4 377.9,1525.8 378.7,1525.3 379.4,1524.8 380.2,1524.3 380.9,1523.7 381.7,1522.6 382.4,1521.3 383.2,1519.8 383.9,1518.4 384.7,1517.1 385.4,1516.1 386.2,1515.2 386.9,1514.4 387.7,1513.6 388.4,1512.7 389.2,1511.7 389.9,1510.5 390.7,1509.3 391.4,1508 392.2,1506.6 392.9,1505.2 393.7,1503.9 394.4,1502.4 395.2,1500.9 395.9,1499.1 396.7,1497.1 397.5,1494.8 398.2,1492.3 399,1489.7 399.7,1487.1 400.5,1484.4 401.2,1481.5 402,1478 402.7,1473.6 403.5,1468.4 404.2,1462.6 405,1456.6 405.7,1450.6 406.5,1445 407.2,1439.9 408,1435.5 408.7,1431 409.5,1426.2 409.6,1425.2 409.9,1423.5 410.1,1421.8 410.2,1421.2 410.4,1420.1 410.7,1418.3 410.9,1416.5 411,1416 411.2,1414.6 411.4,1412.7 411.7,1410.8 411.7,1410.4 411.9,1408.9 412.2,1406.9 412.5,1404.9 412.5,1404.6 412.7,1402.8 413,1400.8 413.2,1398.7 413.2,1398.6 413.5,1396.6 413.7,1394.5 414,1392.4 414,1392.3 414.2,1390.2 414.5,1388 414.7,1386 414.8,1385.8 415,1383.6 415.3,1381.3 415.5,1379.4 415.5,1379.1 415.8,1376.8 416,1374.5 416.2,1372.7 416.3,1372.2 416.6,1369.8 416.8,1367.4 417,1365.7 417.1,1364.9 417.3,1362.4 417.6,1359.9 417.7,1358.2 417.8,1357.3 418.1,1354.6 418.4,1351.9 418.5,1350.3 418.6,1349.1 418.9,1346.2 419.1,1343.3 419.2,1341.8 419.4,1340.2 419.6,1337.1 419.9,1333.8 420,1332.3 420.1,1330.3 420.4,1326.8 420.7,1323.1 420.8,1321.7 420.9,1319.2 421.2,1315.1 421.4,1310.9 421.5,1309.6 421.7,1306.5 421.9,1301.8 422.2,1297 422.3,1295.9 422.5,1292 422.7,1286.9 423,1281.5 423,1280.7 423.2,1276 423.5,1270.4 423.7,1264.6 423.8,1264.1 424,1258.8 424.2,1253 424.5,1247.2 424.5,1247.1 424.8,1241.4 425,1235.7 425.3,1230.5 425.3,1230.2 425.5,1224.9 425.8,1219.9 426,1215.8 426,1215.2 426.3,1210.9 426.6,1207 426.8,1204.2 426.8,1203.6 427.1,1200.7 427.3,1198.3 427.5,1196.9 427.6,1196.5 427.8,1195.3 428.1,1194.6 428.3,1194.5 428.4,1194.5 428.6,1195 428.9,1196.1 429,1197 429.1,1197.7 429.4,1199.8 429.6,1202.4 429.8,1204 429.9,1205.5 430.1,1209 430.4,1212.8 430.5,1214.7 430.7,1216.9 430.9,1221.3 431.2,1225.9 431.3,1227.8 431.4,1230.7 431.7,1235.6 431.9,1240.5 432,1242.1 432.2,1245.5 432.5,1250.4 432.7,1255.2 432.8,1256.5 433,1260 433.2,1264.7 433.5,1269.2 433.5,1270.1 433.7,1273.6 434,1277.9 434.2,1282 434.3,1282.4 434.5,1285.9 434.8,1289.7 435,1293.3 435,1293.5 435.3,1296.8 435.5,1300.2 435.8,1303.4 435.8,1303.5 436,1306.6 436.3,1309.6 436.5,1312.3 436.6,1312.6 436.8,1315.4 437.1,1318.2 437.3,1320.5 437.3,1320.9 437.6,1323.5 437.8,1326.1 438,1328.1 438.1,1328.7 438.4,1331.2 438.6,1333.7 438.8,1335.4 438.9,1336.1 439.1,1338.5 439.4,1340.9 439.5,1342.3 439.6,1343.2 439.9,1345.5 440.1,1347.7 440.3,1349 440.4,1350 440.7,1352.2 440.9,1354.3 441,1355.4 441.2,1356.5 441.4,1358.6 441.7,1360.7 441.8,1361.5 441.9,1362.7 442.2,1364.7 442.5,1366.8 442.5,1367.5 442.7,1368.8 443,1370.8 443.2,1372.8 443.3,1373.4 443.5,1374.8 443.7,1376.9 444,1378.9 444.1,1379.4 444.3,1381 444.5,1383 444.8,1385.1 444.8,1385.4 445,1387.1 445.3,1389.2 445.5,1391.3 445.6,1391.5 445.8,1393.4 446,1395.5 446.3,1397.5 446.3,1397.6 446.6,1399.6 446.8,1401.7 447.1,1403.6 447.1,1403.7 447.3,1405.8 447.6,1407.8 447.8,1409.6 447.8,1409.8 448.1,1411.9 448.4,1413.9 448.6,1415.5 448.6,1415.9 448.9,1417.9 449.1,1419.9 449.3,1421.3 449.4,1421.8 449.6,1423.8 449.9,1425.7 450.1,1427 450.1,1427.7 450.4,1429.6 450.7,1431.5 450.8,1432.6 451.6,1437.8 452.3,1442.7 453.1,1447.2 453.8,1451.2 454.6,1455 455.3,1458.4 456.1,1461.7 456.8,1464.9 457.6,1467.9 458.3,1470.6 459.1,1473.1 459.8,1475.3 460.6,1477.3 461.3,1479.1 462.1,1480.9 462.8,1482.5 463.6,1484.2 464.3,1485.9 465.1,1487.6 465.8,1489.3 466.6,1490.9 467.4,1492.3 468.1,1493.6 468.9,1494.8 469.6,1496.1 470.4,1497.3 471.1,1498.5 471.9,1499.6 472.6,1500.5 473.4,1501.4 474.1,1502.3 474.9,1503.2 475.6,1504 476.4,1504.7 477.1,1505.3 477.9,1506 478.6,1506.7 479.4,1507.5 480.1,1508.4 480.9,1509.3 481.6,1510.1 482.4,1510.8 483.1,1511.4 483.9,1511.9 484.6,1512.4 485.4,1512.9 486.1,1513.4 486.9,1513.8 487.6,1514.2 488.4,1514.5 489.1,1514.8 489.9,1515.3 490.7,1515.9 491.4,1516.4 492.2,1516.9 492.9,1517.2 493.7,1517.4 494.4,1517.4 495.2,1517.2 495.9,1516.9 496.7,1516.7 497.4,1516.6 498.2,1516.6 498.9,1516.8 499.7,1517.1 500.4,1517.6 501.2,1518.2 501.9,1518.9 502.7,1519.7 503.4,1520.6 504.2,1521.5 504.9,1522.4 505.7,1523.2 506.4,1523.9 507.2,1524.3 507.9,1524.3 508.7,1523.9 509.4,1523.1 510.2,1522.2 510.9,1521.2 511.7,1520.2 512.4,1519.2 513.2,1518.5 513.9,1518.1 514.7,1518 515.5,1518.1 516.2,1518.2 517,1518.4 517.7,1518.5 518.5,1518.6 519.2,1518.6 520,1518.8 520.7,1518.8 521.5,1517.6 522.2,1517.3 523,1518 523.7,1519.1 524.5,1520.4 525.2,1521.7 526,1522.9 526.7,1523.6 527.5,1523.7 528.2,1523.5 529,1523 529.7,1522.4 530.5,1521.8 531.2,1521.4 532,1521.2 532.7,1521.4 533.5,1521.8 534.2,1522.3 535,1523.1 535.7,1523.9 536.5,1524.7 537.2,1525.4 538,1526 538.8,1526.3 539.5,1526.5 540.3,1526.4 541,1526.1 541.8,1525.6 542.5,1525 543.3,1524.3 544,1523.6 544.8,1522.9 545.5,1522.4 546.3,1522.1 547,1522 547.8,1522.1 548.5,1522.2 549.3,1522.3 550,1522.5 550.8,1522.7 551.5,1522.8 552.3,1522.8 553,1522.9 553.8,1522.9 554.5,1523 555.3,1523 556,1523.1 556.8,1523.1 557.5,1523.1 558.3,1523.1 559,1523 559.8,1523 560.5,1523 561.3,1523.1 562.1,1523.1 562.8,1523.2 563.6,1523.1 564.3,1522.7 565.1,1522.2 565.8,1521.4 566.6,1520.4 567.3,1519.1 568.1,1517.9 568.8,1517 569.6,1516.5 570.3,1516.7 571.1,1517.5 571.8,1518.7 572.6,1520.3 573.3,1522 574.1,1523.6 574.8,1524.8 575.6,1525.5 576.3,1525.7 577.1,1525.4 577.8,1524.6 578.6,1523.5 579.3,1522.2 580.1,1521 580.8,1520.1 581.6,1519.7 582.3,1519.8 583.1,1520.4 583.8,1521.3 584.6,1522.2 585.4,1523.1 586.1,1523.7 586.9,1524 587.6,1524 588.4,1524 589.1,1523.9 589.9,1523.9 590.6,1523.9 591.4,1524 592.1,1524.2 592.9,1524.6 593.6,1525.1 594.4,1525.7 595.1,1526.2 595.9,1526.7 596.6,1527 597.4,1527.3 598.1,1527.4 598.9,1527.6 599.6,1527.7 600.4,1527.7 601.1,1527.7 601.9,1527.5 602.6,1527.3 603.4,1527 604.1,1526.6 604.9,1526.3 605.6,1526 606.4,1525.7 607.1,1525.5 607.9,1525.3 608.7,1525.1 609.4,1524.9 610.2,1524.8 610.9,1524.9 611.7,1525.1 612.4,1525.5 613.2,1526 613.9,1526.6 614.7,1527.1 615.4,1527.6 616.2,1528 616.9,1528.3 617.7,1528.5 618.4,1528.6 619.2,1528.4 619.9,1527.4 620.7,1525.9 621.4,1524.2 622.2,1522.9 622.9,1522.2 623.7,1522.5 624.4,1523.3 625.2,1524.5 625.9,1525.8 626.7,1527.2 627.4,1528.3 628.2,1528.9 628.9,1529.1 629.7,1529 630.4,1529 631.2,1529.1 632,1529.3 632.7,1529.4 633.5,1529.5 634.2,1529.6 635,1529.5 635.7,1529.3 636.5,1528.9 637.2,1528.3 638,1527.7 638.7,1526.9 639.5,1526.2 640.2,1525.5"/>
<polyline stroke="#f00" stroke-opacity="0.6" stroke-width="8.33" points="220.1,1522.3 220.8,1522.3 221.6,1522.3 222.3,1522.3 223.1,1522.3 223.8,1522.3 224.6,1522.3 225.3,1522.3 226.1,1522.3 226.8,1522.3 227.6,1522.3 228.3,1522.3 229.1,1522.3 229.8,1522.3 230.6,1522.3 231.4,1522.2 232.1,1522.2 232.9,1522.2 233.6,1522.2 234.4,1522.2 235.1,1522.2 235.9,1522.2 236.6,1522.2 237.4,1522.2 238.1,1522.2 238.9,1522.2 239.6,1522.2 240.4,1522.2 241.1,1522.2 241.9,1522.2 242.6,1522.2 243.4,1522.2 244.1,1522.2 244.9,1522.1 245.6,1522.1 246.4,1522.1 247.1,1522.1 247.9,1522.1 248.6,1522.1 249.4,1522.1 250.1,1522.1 250.9,1522.1 251.6,1522.1 252.4,1522.1 253.1,1522.1 253.9,1522.1 254.6,1522.1 255.4,1522 256.2,1522 256.9,1522 257.7,1522 258.4,1522 259.2,1522 259.9,1522 260.7,1522 261.4,1522 262.2,1522 262.9,1521.9 263.7,1521.9 264.4,1521.9 265.2,1521.9 265.9,1521.9 266.7,1521.9 267.4,1521.9 268.2,1521.9 268.9,1521.9 269.7,1521.8 270.4,1521.8 271.2,1521.8 271.9,1521.8 272.7,1521.8 273.4,1521.8 274.2,1521.8 274.9,1521.7 275.7,1521.7 276.4,1521.7 277.2,1521.7 277.9,1521.7 278.7,1521.7 279.5,1521.7 280.2,1521.6 281,1521.6 281.7,1521.6 282.5,1521.6 283.2,1521.6 284,1521.5 284.7,1521.5 285.5,1521.5 286.2,1521.5 287,1521.5 287.7,1521.4 288.5,1521.4 289.2,1521.4 290,1521.4 290.7,1521.3 291.5,1521.3 292.2,1521.3 293,1521.3 293.7,1521.3 294.5,1521.2 295.2,1521.2 296,1521.2 296.7,1521.1 297.5,1521.1 298.2,1521.1 299,1521.1 299.7,1521 300.5,1521 301.2,1521 302,1520.9 302.8,1520.9 303.5,1520.9 304.3,1520.8 305,1520.8 305.8,1520.7 306.5,1520.7 307.3,1520.7 308,1520.6 308.8,1520.6 309.5,1520.5 310.3,1520.5 311,1520.5 311.8,1520.4 312.5,1520.4 313.3,1520.3 314,1520.3 314.8,1520.2 315.5,1520.2 316.3,1520.1 317,1520 317.8,1520 318.5,1519.9 319.3,1519.9 320,1519.8 320.8,1519.8 321.5,1519.7 322.3,1519.6 323,1519.6 323.8,1519.5 324.5,1519.4 325.3,1519.3 326.1,1519.3 326.8,1519.2 327.6,1519.1 328.3,1519 329.1,1519 329.8,1518.9 330.6,1518.8 331.3,1518.7 332.1,1518.6 332.8,1518.5 333.6,1518.4 334.3,1518.3 335.1,1518.2 335.8,1518.1 336.6,1518 337.3,1517.9 338.1,1517.8 338.8,1517.7 339.6,1517.6 340.3,1517.4 341.1,1517.3 341.8,1517.2 342.6,1517 343.3,1516.9 344.1,1516.8 344.8,1516.6 345.6,1516.5 346.3,1516.3 347.1,1516.2 347.8,1516 348.6,1515.9 349.4,1515.7 350.1,1515.5 350.9,1515.4 351.6,1515.2 352.4,1515 353.1,1514.8 353.9,1514.6 354.6,1514.4 355.4,1514.2 356.1,1514 356.9,1513.8 357.6,1513.6 358.4,1513.4 359.1,1513.1 359.9,1512.9 360.6,1512.7 361.4,1512.4 362.1,1512.1 362.9,1511.9 363.6,1511.6 364.4,1511.3 365.1,1511 365.9,1510.7 366.6,1510.4 367.4,1510.1 368.1,1509.8 368.9,1509.5 369.6,1509.1 370.4,1508.8 371.1,1508.4 371.9,1508 372.7,1507.6 373.4,1507.2 374.2,1506.8 374.9,1506.4 375.7,1506 376.4,1505.5 377.2,1505 377.9,1504.5 378.7,1504 379.4,1503.5 380.2,1502.9 380.9,1502.4 381.7,1501.8 382.4,1501.1 383.2,1500.5 383.9,1499.8 384.7,1499.1 385.4,1498.3 386.2,1497.5 386.9,1496.7 387.7,1495.8 388.4,1494.9 389.2,1493.9 389.9,1492.9 390.7,1491.8 391.4,1490.7 392.2,1489.4 392.9,1488.1 393.7,1486.8 394.4,1485.3 395.2,1483.7 395.9,1482.1 396.7,1480.3 397.5,1478.4 398.2,1476.4 399,1474.3 399.7,1472 400.5,1469.6 401.2,1467 402,1464.3 402.7,1461.4 403.5,1458.3 404.2,1455 405,1451.5 405.7,1447.8 406.5,1443.9 407.2,1439.8 408,1435.5 408.7,1430.9 409.5,1426.2 409.6,1425.1 409.9,1423.4 410.1,1421.7 410.2,1421.1 410.4,1419.9 410.7,1418.2 410.9,1416.3 411,1415.9 411.2,1414.5 411.4,1412.6 411.7,1410.7 411.7,1410.4 411.9,1408.8 412.2,1406.9 412.5,1404.9 412.5,1404.7 412.7,1402.9 413,1400.9 413.2,1398.8 413.2,1398.7 413.5,1396.7 413.7,1394.6 414,1392.5 414,1392.5 414.2,1390.3 414.5,1388.2 414.7,1386.1 414.8,1386 415,1383.7 415.3,1381.5 415.5,1379.5 415.5,1379.2 415.8,1376.9 416,1374.5 416.2,1372.7 416.3,1372.1 416.6,1369.7 416.8,1367.3 417,1365.6 417.1,1364.8 417.3,1362.3 417.6,1359.8 417.7,1358.1 417.8,1357.2 418.1,1354.5 418.4,1351.8 418.5,1350.2 418.6,1349 418.9,1346.1 419.1,1343.2 419.2,1341.6 419.4,1340.1 419.6,1336.9 419.9,1333.7 420,1332.2 420.1,1330.3 420.4,1326.7 420.7,1323 420.8,1321.6 420.9,1319.1 421.2,1315.1 421.4,1310.9 421.5,1309.6 421.7,1306.5 421.9,1301.9 422.2,1297.1 422.3,1296 422.5,1292.1 422.7,1286.9 423,1281.6 423,1280.7 423.2,1276.1 423.5,1270.4 423.7,1264.7 423.8,1264.2 424,1258.9 424.2,1253 424.5,1247.1 424.5,1247 424.8,1241.3 425,1235.6 425.3,1230.3 425.3,1230.1 425.5,1224.7 425.8,1219.6 426,1215.4 426,1214.8 426.3,1210.4 426.6,1206.5 426.8,1203.6 426.8,1202.9 427.1,1199.9 427.3,1197.5 427.5,1196 427.6,1195.6 427.8,1194.3 428.1,1193.6 428.3,1193.5 428.4,1193.5 428.6,1194.1 428.9,1195.2 429,1196.1 429.1,1196.8 429.4,1199 429.6,1201.7 429.8,1203.4 429.9,1204.9 430.1,1208.5 430.4,1212.4 430.5,1214.3 430.7,1216.6 430.9,1221.1 431.2,1225.8 431.3,1227.7 431.4,1230.6 431.7,1235.5 431.9,1240.5 432,1242.1 432.2,1245.5 432.5,1250.4 432.7,1255.3 432.8,1256.5 433,1260.1 433.2,1264.8 433.5,1269.3 433.5,1270.2 433.7,1273.7 434,1278 434.2,1282.1 434.3,1282.6 434.5,1286.1 434.8,1289.9 435,1293.5 435,1293.7 435.3,1297.1 435.5,1300.4 435.8,1303.7 435.8,1303.7 436,1306.9 436.3,1309.9 436.5,1312.7 436.6,1312.9 436.8,1315.8 437.1,1318.6 437.3,1321 437.3,1321.4 437.6,1324.1 437.8,1326.8 438,1328.8 438.1,1329.4 438.4,1332 438.6,1334.6 438.8,1336.4 438.9,1337.1 439.1,1339.7 439.4,1342.2 439.5,1343.8 439.6,1344.7 439.9,1347.2 440.1,1349.7 440.3,1351.1 440.4,1352.1 440.7,1354.6 440.9,1357 441,1358.3 441.2,1359.5 441.4,1361.9 441.7,1364.3 441.8,1365.3 441.9,1366.7 442.2,1369.1 442.5,1371.4 442.5,1372.3 442.7,1373.8 443,1376.1 443.2,1378.4 443.3,1379.1 443.5,1380.7 443.7,1382.9 444,1385.2 444.1,1385.7 444.3,1387.4 444.5,1389.6 444.8,1391.8 444.8,1392.1 445,1393.9 445.3,1396.1 445.5,1398.2 445.6,1398.4 445.8,1400.3 446,1402.3 446.3,1404.3 446.3,1404.4 446.6,1406.3 446.8,1408.3 447.1,1410.2 447.1,1410.3 447.3,1412.2 447.6,1414.1 447.8,1415.7 447.8,1416 448.1,1417.8 448.4,1419.6 448.6,1421.1 448.6,1421.4 448.9,1423.2 449.1,1424.9 449.3,1426.2 449.4,1426.6 449.6,1428.3 449.9,1429.9 450.1,1431 450.1,1431.6 450.4,1433.2 450.7,1434.7 450.8,1435.7 451.6,1440.1 452.3,1444.2 453.1,1448.2 453.8,1451.9 454.6,1455.5 455.3,1458.8 456.1,1462 456.8,1464.9 457.6,1467.7 458.3,1470.4 459.1,1472.8 459.8,1475.2 460.6,1477.3 461.3,1479.4 462.1,1481.3 462.8,1483.1 463.6,1484.8 464.3,1486.4 465.1,1487.9 465.8,1489.3 466.6,1490.6 467.4,1491.9 468.1,1493.1 468.9,1494.2 469.6,1495.2 470.4,1496.2 471.1,1497.2 471.9,1498.1 472.6,1498.9 473.4,1499.7 474.1,1500.5 474.9,1501.2 475.6,1501.9 476.4,1502.6 477.1,1503.2 477.9,1503.8 478.6,1504.4 479.4,1505 480.1,1505.5 480.9,1506 481.6,1506.5 482.4,1507 483.1,1507.5 483.9,1507.9 484.6,1508.3 485.4,1508.8 486.1,1509.2 486.9,1509.5 487.6,1509.9 488.4,1510.3 489.1,1510.6 489.9,1511 490.7,1511.3 491.4,1511.6 492.2,1512 492.9,1512.3 493.7,1512.6 494.4,1512.8 495.2,1513.1 495.9,1513.4 496.7,1513.7 497.4,1513.9 498.2,1514.2 498.9,1514.4 499.7,1514.6 500.4,1514.9 501.2,1515.1 501.9,1515.3 502.7,1515.5 503.4,1515.7 504.2,1515.9 504.9,1516.1 505.7,1516.3 506.4,1516.5 507.2,1516.7 507.9,1516.8 508.7,1517 509.4,1517.2 510.2,1517.3 510.9,1517.5 511.7,1517.6 512.4,1517.8 513.2,1517.9 513.9,1518.1 514.7,1518.2 515.5,1518.4 516.2,1518.5 517,1518.6 517.7,1518.7 518.5,1518.9 519.2,1519 520,1519.1 520.7,1519.2 521.5,1519.3 522.2,1519.4 523,1519.5 523.7,1519.6 524.5,1519.7 525.2,1519.8 526,1519.9 526.7,1520 527.5,1520.1 528.2,1520.2 529,1520.3 529.7,1520.4 530.5,1520.5 531.2,1520.6 532,1520.6 532.7,1520.7 533.5,1520.8 534.2,1520.9 535,1520.9 535.7,1521 536.5,1521.1 537.2,1521.1 538,1521.2 538.8,1521.3 539.5,1521.3 540.3,1521.4 541,1521.5 541.8,1521.5 542.5,1521.6 543.3,1521.6 544,1521.7 544.8,1521.8 545.5,1521.8 546.3,1521.9 547,1521.9 547.8,1522 548.5,1522 549.3,1522.1 550,1522.1 550.8,1522.2 551.5,1522.2 552.3,1522.3 553,1522.3 553.8,1522.3 554.5,1522.4 555.3,1522.4 556,1522.5 556.8,1522.5 557.5,1522.5 558.3,1522.6 559,1522.6 559.8,1522.7 560.5,1522.7 561.3,1522.7 562.1,1522.8 562.8,1522.8 563.6,1522.8 564.3,1522.9 565.1,1522.9 565.8,1522.9 566.6,1523 567.3,1523 568.1,1523 568.8,1523.1 569.6,1523.1 570.3,1523.1 571.1,1523.2 571.8,1523.2 572.6,1523.2 573.3,1523.2 574.1,1523.3 574.8,1523.3 575.6,1523.3 576.3,1523.4 577.1,1523.4 577.8,1523.4 578.6,1523.4 579.3,1523.5 580.1,1523.5 580.8,1523.5 581.6,1523.5 582.3,1523.6 583.1,1523.6 583.8,1523.6 584.6,1523.6 585.4,1523.7 586.1,1523.7 586.9,1523.7 587.6,1523.7 588.4,1523.7 589.1,1523.8 589.9,1523.8 590.6,1523.8 591.4,1523.8 592.1,1523.9 592.9,1523.9 593.6,1523.9 594.4,1523.9 595.1,1523.9 595.9,1524 596.6,1524 597.4,1524 598.1,1524 598.9,1524 599.6,1524 600.4,1524.1 601.1,1524.1 601.9,1524.1 602.6,1524.1 603.4,1524.1 604.1,1524.2 604.9,1524.2 605.6,1524.2 606.4,1524.2 607.1,1524.2 607.9,1524.2 608.7,1524.3 609.4,1524.3 610.2,1524.3 610.9,1524.3 611.7,1524.3 612.4,1524.3 613.2,1524.4 613.9,1524.4 614.7,1524.4 615.4,1524.4 616.2,1524.4 616.9,1524.4 617.7,1524.4 618.4,1524.5 619.2,1524.5 619.9,1524.5 620.7,1524.5 621.4,1524.5 622.2,1524.5 622.9,1524.5 623.7,1524.6 624.4,1524.6 625.2,1524.6 625.9,1524.6 626.7,1524.6 627.4,1524.6 628.2,1524.6 628.9,1524.7 629.7,1524.7 630.4,1524.7 631.2,1524.7 632,1524.7 632.7,1524.7 633.5,1524.7 634.2,1524.7 635,1524.8 635.7,1524.8 636.5,1524.8 637.2,1524.8 638,1524.8 638.7,1524.8 639.5,1524.8 640.2,1524.8"/>
</g>
<path d="M225 1575v-6.94M225 1175.29v6.94M327.57 1575v-6.94M327.57 1175.29v6.94M430.15 1575v-6.94M430.15 1175.29v6.94M532.72 1575v-6.94M532.72 1175.29v6.94M635.29 1575v-6.94M635.29 1175.29v6.94M225 1538.9h6.94M635.29 1538.9h-6.94M225 1424.15h6.94M635.29 1424.15h-6.94M225 1309.39h6.94M635.29 1309.39h-6.94M225 1194.64h6.94M635.29 1194.64h-6.94" stroke="#000" stroke-width="2" fill="none"/>
<rect x="225" y="1175.29" width="410.29" height="399.71" fill="none" stroke="#000" stroke-width="2"/>
<g class="tl" text-anchor="middle">
<text x="225" y="1608.5">−10</text>
<text x="327.57" y="1608.5">−5</text>
<text x="430.15" y="1608.5">0</text>
<text x="532.72" y="1608.5">5</text>
<text x="635.29" y="1608.5">10</text>
</g>
<g class="tl" text-anchor="end">
<text x="217.4" y="1551.8">0</text>
<text x="217.4" y="1437.05">1</text>
<text x="217.4" y="1322.29">2</text>
<text x="217.4" y="1207.54">3</text>
</g>
<text class="tt" text-anchor="middle" x="430.15" y="1163.29" fill="#6001a6">+ 570 d</text>
</g>
<g class="panel">
<g clip-path="url(#c7)" fill="none" stroke-linejoin="round" stroke-linecap="square">
<polyline stroke="#3c049b" stroke-width="5.56" points="712.4,1545.6 713.2,1544.9 713.9,1544.3 714.7,1543.9 715.4,1543.7 716.2,1543.6 716.9,1543.5 717.7,1543.5 718.4,1543.5 719.2,1543.4 719.9,1543.4 720.7,1543.4 721.4,1543.3 722.2,1543.2 723,1543 723.7,1542.8 724.5,1542.5 725.2,1542.1 726,1541.8 726.7,1541.5 727.5,1541.3 728.2,1541.2 729,1541.1 729.7,1541.2 730.5,1541.1 731.2,1540.9 732,1540.5 732.7,1540.2 733.5,1540.1 734.2,1540.5 735,1541.1 735.7,1541.7 736.5,1542 737.2,1542 738,1542.1 738.7,1542.3 739.5,1542.2 740.2,1542 741,1541.6 741.7,1541.5 742.5,1541.7 743.2,1542.1 744,1542.5 744.7,1542.8 745.5,1543 746.3,1543 747,1542.8 747.8,1542.4 748.5,1542.2 749.3,1542.1 750,1542.2 750.8,1542.6 751.5,1543 752.3,1543.3 753,1543.3 753.8,1543.2 754.5,1543.1 755.3,1543.2 756,1543.3 756.8,1543.4 757.5,1543.2 758.3,1543 759,1542.7 759.8,1542.5 760.5,1542.2 761.3,1542 762,1541.7 762.8,1541.5 763.5,1541.5 764.3,1541.7 765,1541.9 765.8,1541.9 766.5,1541.7 767.3,1541.5 768,1541.5 768.8,1541.6 769.6,1541.8 770.3,1542.1 771.1,1542.5 771.8,1542.9 772.6,1543.1 773.3,1543.3 774.1,1543.5 774.8,1543.6 775.6,1543.6 776.3,1543.4 777.1,1543.2 777.8,1543 778.6,1542.9 779.3,1542.9 780.1,1543 780.8,1542.9 781.6,1542.8 782.3,1542.7 783.1,1542.4 783.8,1542.1 784.6,1541.6 785.3,1541.2 786.1,1540.8 786.8,1540.6 787.6,1540.5 788.3,1540.3 789.1,1539.9 789.8,1539.4 790.6,1539 791.3,1538.6 792.1,1538.1 792.8,1537.5 793.6,1536.8 794.4,1536.2 795.1,1535.9 795.9,1535.8 796.6,1535.8 797.4,1535.9 798.1,1535.9 798.9,1536.1 799.6,1536.6 800.4,1537.4 801.1,1538.3 801.9,1539.3 802.6,1540.1 803.4,1540.8 804.1,1541.2 804.9,1541.3 805.6,1541 806.4,1540.6 807.1,1540.2 807.9,1539.9 808.6,1539.6 809.4,1539.5 810.1,1539.5 810.9,1539.5 811.6,1539.6 812.4,1539.7 813.1,1539.8 813.9,1539.9 814.6,1539.8 815.4,1539.8 816.1,1539.6 816.9,1539.2 817.7,1538.8 818.4,1538.4 819.2,1538.2 819.9,1538.1 820.7,1538.1 821.4,1538.2 822.2,1538.3 822.9,1538.5 823.7,1538.5 824.4,1538.4 825.2,1538.3 825.9,1538.4 826.7,1538.6 827.4,1538.9 828.2,1539.3 828.9,1539.7 829.7,1540 830.4,1540.1 831.2,1539.9 831.9,1539.9 832.7,1540.1 833.4,1540.6 834.2,1541.3 834.9,1542 835.7,1542.5 836.4,1542.8 837.2,1542.9 837.9,1542.9 838.7,1542.8 839.4,1542.7 840.2,1542.6 841,1542.6 841.7,1542.7 842.5,1542.8 843.2,1543 844,1543 844.7,1542.8 845.5,1542.5 846.2,1542 847,1541.5 847.7,1541 848.5,1540.8 849.2,1540.9 850,1541.3 850.7,1541.6 851.5,1541.8 852.2,1541.7 853,1541.7 853.7,1541.7 854.5,1541.9 855.2,1542.3 856,1542.9 856.7,1543.5 857.5,1544.2 858.2,1544.7 859,1545.1 859.7,1545.2 860.5,1545.3 861.2,1545.4 862,1545.6 862.7,1545.8 863.5,1546 864.3,1546.1 865,1546.2 865.8,1546.5 866.5,1546.8 867.3,1547.4 868,1548.1 868.8,1548.4 869.5,1548.2 870.3,1547.7 871,1547.2 871.8,1547 872.5,1547 873.3,1547 874,1546.9 874.8,1546.6 875.5,1546.3 876.3,1545.9 877,1545.4 877.8,1544.8 878.5,1544 879.3,1543.3 880,1542.6 880.8,1541.8 881.5,1540.7 882.3,1539.5 883,1538.3 883.8,1537.3 884.5,1536.3 885.3,1535.4 886,1534.4 886.8,1533 887.6,1531.5 888.3,1529.9 889.1,1528.4 889.8,1527 890.6,1525.7 891.3,1524.5 892.1,1523 892.8,1521.4 893.6,1519.7 894.3,1518.2 895.1,1516.7 895.8,1515.2 896.6,1513.3 897.3,1511.1 898.1,1508.7 898.8,1505.7 899.6,1502.2 900.3,1498.3 901.1,1494.1 901.8,1489.9 902,1489 902.2,1487.6 902.5,1486.2 902.6,1485.7 902.8,1484.8 903,1483.5 903.3,1482.3 903.3,1481.9 903.5,1481 903.8,1479.7 904,1478.3 904.1,1478.1 904.3,1477 904.5,1475.6 904.8,1474.2 904.8,1474 905.1,1472.7 905.3,1471.2 905.6,1469.7 905.6,1469.6 905.8,1468.1 906.1,1466.5 906.3,1464.8 906.3,1464.8 906.6,1463.1 906.9,1461.3 907.1,1459.6 907.1,1459.5 907.4,1457.6 907.6,1455.6 907.8,1453.9 907.9,1453.6 908.1,1451.6 908.4,1449.4 908.6,1447.7 908.7,1447.2 908.9,1444.9 909.2,1442.6 909.3,1440.9 909.4,1440.2 909.7,1437.7 909.9,1435.2 910.1,1433.5 910.2,1432.6 910.4,1429.9 910.7,1427.1 910.9,1425.5 911,1424.3 911.2,1421.3 911.5,1418.3 911.6,1416.8 911.7,1415.2 912,1411.9 912.2,1408.6 912.4,1407.1 912.5,1405.1 912.8,1401.5 913,1397.8 913.1,1396.4 913.3,1393.9 913.5,1389.9 913.8,1385.7 913.9,1384.5 914,1381.4 914.3,1376.9 914.6,1372.3 914.6,1371.2 914.8,1367.5 915.1,1362.4 915.3,1357.2 915.4,1356.4 915.6,1351.9 915.8,1346.3 916.1,1340.5 916.1,1340 916.3,1334.6 916.6,1328.4 916.9,1322.1 916.9,1322 917.1,1315.6 917.4,1309 917.6,1302.5 917.6,1302.1 917.9,1295.2 918.1,1288.1 918.4,1281.8 918.4,1280.9 918.7,1273.6 918.9,1266.4 919.1,1260.5 919.2,1259.1 919.4,1251.9 919.7,1244.8 919.9,1239.6 919.9,1237.9 920.2,1231.2 920.4,1224.9 920.6,1220.8 920.7,1218.9 921,1213.4 921.2,1208.5 921.4,1205.8 921.5,1204.2 921.7,1200.5 922,1197.6 922.1,1196.4 922.2,1195.5 922.5,1194.2 922.8,1193.7 922.9,1193.8 923,1194.1 923.3,1195.3 923.5,1197.3 923.6,1198.3 923.8,1200 924,1203.5 924.3,1207.7 924.4,1209.2 924.6,1212.4 924.8,1217.7 925.1,1223.4 925.1,1225 925.3,1229.5 925.6,1235.9 925.8,1242.5 925.9,1243.8 926.1,1249.3 926.3,1256.2 926.6,1263.2 926.6,1264 926.9,1270.1 927.1,1277.1 927.4,1283.9 927.4,1284.3 927.6,1290.7 927.9,1297.3 928.1,1303.7 928.1,1303.8 928.4,1310.2 928.7,1316.4 928.9,1321.9 928.9,1322.5 929.2,1328.3 929.4,1334 929.6,1338.7 929.7,1339.5 929.9,1344.9 930.2,1350 930.4,1353.9 930.4,1355 930.7,1359.8 931,1364.5 931.1,1367.6 931.2,1369 931.5,1373.3 931.7,1377.5 931.9,1380.1 932,1381.6 932.2,1385.5 932.5,1389.3 932.6,1391.5 932.8,1393 933,1396.6 933.3,1400.1 933.4,1401.7 933.5,1403.4 933.8,1406.6 934,1409.8 934.1,1411.1 934.3,1412.8 934.6,1415.7 934.8,1418.4 934.9,1419.4 935.1,1421.1 935.3,1423.6 935.6,1425.9 935.7,1426.6 935.8,1428.1 936.1,1430 936.3,1431.8 936.4,1432.1 936.6,1433.2 936.9,1434.5 937.1,1435.5 937.2,1435.7 937.4,1436.6 937.6,1437.6 937.9,1438.8 937.9,1439 938.1,1440.3 938.4,1441.9 938.7,1443.6 938.7,1443.7 938.9,1445.5 939.2,1447.5 939.4,1449.4 939.4,1449.5 939.7,1451.6 939.9,1453.6 940.2,1455.3 940.2,1455.6 940.5,1457.6 940.7,1459.5 940.9,1461.1 941,1461.4 941.2,1463.3 941.5,1465.1 941.7,1466.4 941.7,1466.9 942,1468.6 942.2,1470.3 942.4,1471.4 942.5,1471.9 942.8,1473.5 943,1475.1 943.2,1476 943.9,1480.5 944.7,1484.9 945.4,1489.2 946.2,1493 946.9,1496.3 947.7,1499.1 948.4,1501.5 949.2,1503.8 949.9,1506.2 950.7,1508.5 951.4,1510.5 952.2,1512.3 952.9,1513.7 953.7,1515 954.4,1516.4 955.2,1518.1 955.9,1519.9 956.7,1521.7 957.4,1523.3 958.2,1524.4 959,1525.2 959.7,1525.9 960.5,1526.6 961.2,1527.3 962,1528 962.7,1528.7 963.5,1529.4 964.2,1530.3 965,1531.1 965.7,1531.8 966.5,1532.4 967.2,1533.1 968,1533.8 968.7,1534.5 969.5,1535.1 970.2,1535.6 971,1535.8 971.7,1535.9 972.5,1536 973.2,1536.2 974,1536.5 974.7,1536.7 975.5,1537 976.2,1537.5 977,1538 977.7,1538.6 978.5,1539 979.2,1539.2 980,1539.3 980.7,1539.2 981.5,1539.1 982.3,1539.2 983,1539.4 983.8,1539.4 984.5,1539.3 985.3,1539.3 986,1539.4 986.8,1539.6 987.5,1539.8 988.3,1539.9 989,1540 989.8,1540.3 990.5,1540.6 991.3,1540.9 992,1541.1 992.8,1541.4 993.5,1541.8 994.3,1542.2 995,1542.5 995.8,1542.6 996.5,1542.4 997.3,1542.1 998,1541.8 998.8,1541.7 999.5,1541.8 1000.3,1542 1001,1542.1 1001.8,1542.1 1002.5,1542 1003.3,1542 1004,1541.9 1004.8,1541.7 1005.6,1541.2 1006.3,1540.7 1007.1,1540.3 1007.8,1540.1 1008.6,1540 1009.3,1540.2 1010.1,1540.7 1010.8,1541 1011.6,1540.9 1012.3,1540.3 1013.1,1539.8 1013.8,1539.5 1014.6,1539.4 1015.3,1539.4 1016.1,1539.4 1016.8,1539.3 1017.6,1539.3 1018.3,1539.4 1019.1,1539.5 1019.8,1539.5 1020.6,1539.5 1021.3,1539.6 1022.1,1539.7 1022.8,1539.8 1023.6,1539.8 1024.3,1539.8 1025.1,1539.8 1025.8,1539.7 1026.6,1539.6 1027.3,1539.5 1028.1,1539.7 1028.9,1540.1 1029.6,1540.4 1030.4,1540.7 1031.1,1540.8 1031.9,1540.8 1032.6,1540.9 1033.4,1540.9 1034.1,1541 1034.9,1541.3 1035.6,1541.9 1036.4,1542.5 1037.1,1542.9 1037.9,1543.2 1038.6,1543.4 1039.4,1543.6 1040.1,1543.8 1040.9,1544 1041.6,1544.2 1042.4,1544.1 1043.1,1543.8 1043.9,1543.5 1044.6,1543.2 1045.4,1543.2 1046.1,1543.4 1046.9,1543.4 1047.6,1543.4 1048.4,1543.5 1049.1,1543.7 1049.9,1543.9 1050.6,1543.8 1051.4,1543.6 1052.2,1543.2 1052.9,1543.1 1053.7,1543.1 1054.4,1543.1 1055.2,1543 1055.9,1542.8 1056.7,1542.4 1057.4,1541.8 1058.2,1540.9 1058.9,1539.4 1059.7,1537.3 1060.4,1534.9 1061.2,1532.3 1061.9,1530 1062.7,1528.5 1063.4,1528.1 1064.2,1528.7 1064.9,1530.3 1065.7,1532.6 1066.4,1535.4 1067.2,1538.1 1067.9,1540.3 1068.7,1541.9 1069.4,1542.7 1070.2,1543 1070.9,1542.9 1071.7,1542.4 1072.4,1541.5 1073.2,1540.1 1073.9,1538.4 1074.7,1536.4 1075.4,1534.7 1076.2,1533.7 1077,1533.7 1077.7,1534.5 1078.5,1535.9 1079.2,1537.4 1080,1539 1080.7,1540.5 1081.5,1541.7 1082.2,1542.7 1083,1543.3 1083.7,1543.7 1084.5,1543.8 1085.2,1543.8 1086,1543.8 1086.7,1543.8 1087.5,1543.9 1088.2,1544.1 1089,1544.2 1089.7,1544.2 1090.5,1544.2 1091.2,1544.2 1092,1544.2 1092.7,1544.1 1093.5,1543.9 1094.2,1543.7 1095,1543.6 1095.7,1543.8 1096.5,1544 1097.2,1544.2 1098,1544.1 1098.7,1544 1099.5,1544 1100.3,1544.2 1101,1544.4 1101.8,1544.6 1102.5,1544.7 1103.3,1544.6 1104,1544.4 1104.8,1543.9 1105.5,1543.5 1106.3,1543.1 1107,1543 1107.8,1543 1108.5,1543.4 1109.3,1544 1110,1544.3 1110.8,1544.4 1111.5,1544.3 1112.3,1544.3 1113,1544.4 1113.8,1544.4 1114.5,1544.4 1115.3,1544.3 1116,1544.3 1116.8,1544.3 1117.5,1544.5 1118.3,1544.5 1119,1544.5 1119.8,1544.5 1120.5,1544.6 1121.3,1544.8 1122,1545 1122.8,1545 1123.6,1544.9 1124.3,1544.6 1125.1,1544.4 1125.8,1544.4 1126.6,1544.5 1127.3,1544.7 1128.1,1544.7 1128.8,1544.6 1129.6,1544.6 1130.3,1544.7 1131.1,1545 1131.8,1545.4 1132.6,1545.7"/>
<polyline stroke="#f00" stroke-opacity="0.6" stroke-width="8.33" points="712.4,1542.3 713.2,1542.3 713.9,1542.3 714.7,1542.3 715.4,1542.3 716.2,1542.3 716.9,1542.3 717.7,1542.3 718.4,1542.3 719.2,1542.3 719.9,1542.3 720.7,1542.3 721.4,1542.3 722.2,1542.3 723,1542.3 723.7,1542.3 724.5,1542.3 725.2,1542.3 726,1542.3 726.7,1542.3 727.5,1542.3 728.2,1542.3 729,1542.3 729.7,1542.3 730.5,1542.3 731.2,1542.3 732,1542.3 732.7,1542.3 733.5,1542.3 734.2,1542.3 735,1542.3 735.7,1542.3 736.5,1542.3 737.2,1542.3 738,1542.3 738.7,1542.3 739.5,1542.3 740.2,1542.3 741,1542.3 741.7,1542.3 742.5,1542.3 743.2,1542.3 744,1542.3 744.7,1542.3 745.5,1542.3 746.3,1542.3 747,1542.3 747.8,1542.3 748.5,1542.3 749.3,1542.3 750,1542.3 750.8,1542.3 751.5,1542.3 752.3,1542.3 753,1542.3 753.8,1542.3 754.5,1542.3 755.3,1542.2 756,1542.2 756.8,1542.2 757.5,1542.2 758.3,1542.2 759,1542.2 759.8,1542.2 760.5,1542.2 761.3,1542.2 762,1542.2 762.8,1542.2 763.5,1542.2 764.3,1542.2 765,1542.2 765.8,1542.2 766.5,1542.2 767.3,1542.2 768,1542.1 768.8,1542.1 769.6,1542.1 770.3,1542.1 771.1,1542.1 771.8,1542.1 772.6,1542.1 773.3,1542.1 774.1,1542.1 774.8,1542.1 775.6,1542.1 776.3,1542.1 777.1,1542 777.8,1542 778.6,1542 779.3,1542 780.1,1542 780.8,1542 781.6,1542 782.3,1542 783.1,1542 783.8,1542 784.6,1541.9 785.3,1541.9 786.1,1541.9 786.8,1541.9 787.6,1541.9 788.3,1541.9 789.1,1541.9 789.8,1541.8 790.6,1541.8 791.3,1541.8 792.1,1541.8 792.8,1541.8 793.6,1541.8 794.4,1541.7 795.1,1541.7 795.9,1541.7 796.6,1541.7 797.4,1541.7 798.1,1541.7 798.9,1541.6 799.6,1541.6 800.4,1541.6 801.1,1541.6 801.9,1541.5 802.6,1541.5 803.4,1541.5 804.1,1541.5 804.9,1541.5 805.6,1541.4 806.4,1541.4 807.1,1541.4 807.9,1541.3 808.6,1541.3 809.4,1541.3 810.1,1541.3 810.9,1541.2 811.6,1541.2 812.4,1541.2 813.1,1541.1 813.9,1541.1 814.6,1541.1 815.4,1541 816.1,1541 816.9,1541 817.7,1540.9 818.4,1540.9 819.2,1540.8 819.9,1540.8 820.7,1540.7 821.4,1540.7 822.2,1540.7 822.9,1540.6 823.7,1540.6 824.4,1540.5 825.2,1540.5 825.9,1540.4 826.7,1540.4 827.4,1540.3 828.2,1540.2 828.9,1540.2 829.7,1540.1 830.4,1540.1 831.2,1540 831.9,1539.9 832.7,1539.9 833.4,1539.8 834.2,1539.7 834.9,1539.7 835.7,1539.6 836.4,1539.5 837.2,1539.4 837.9,1539.3 838.7,1539.3 839.4,1539.2 840.2,1539.1 841,1539 841.7,1538.9 842.5,1538.8 843.2,1538.7 844,1538.6 844.7,1538.5 845.5,1538.4 846.2,1538.3 847,1538.2 847.7,1538.1 848.5,1538 849.2,1537.9 850,1537.7 850.7,1537.6 851.5,1537.5 852.2,1537.4 853,1537.2 853.7,1537.1 854.5,1536.9 855.2,1536.8 856,1536.6 856.7,1536.5 857.5,1536.3 858.2,1536.2 859,1536 859.7,1535.8 860.5,1535.7 861.2,1535.5 862,1535.3 862.7,1535.1 863.5,1534.9 864.3,1534.7 865,1534.5 865.8,1534.2 866.5,1534 867.3,1533.8 868,1533.5 868.8,1533.3 869.5,1533 870.3,1532.8 871,1532.5 871.8,1532.2 872.5,1531.9 873.3,1531.6 874,1531.3 874.8,1530.9 875.5,1530.6 876.3,1530.2 877,1529.8 877.8,1529.4 878.5,1529 879.3,1528.5 880,1528.1 880.8,1527.6 881.5,1527.1 882.3,1526.5 883,1526 883.8,1525.3 884.5,1524.7 885.3,1524 886,1523.3 886.8,1522.5 887.6,1521.7 888.3,1520.8 889.1,1519.9 889.8,1518.9 890.6,1517.8 891.3,1516.6 892.1,1515.4 892.8,1514.1 893.6,1512.7 894.3,1511.2 895.1,1509.5 895.8,1507.8 896.6,1505.9 897.3,1503.9 898.1,1501.8 898.8,1499.4 899.6,1497 900.3,1494.3 901.1,1491.4 901.8,1488.4 902,1487.7 902.2,1486.6 902.5,1485.4 902.6,1485.1 902.8,1484.3 903,1483.1 903.3,1481.8 903.3,1481.5 903.5,1480.6 903.8,1479.3 904,1477.9 904.1,1477.7 904.3,1476.6 904.5,1475.2 904.8,1473.7 904.8,1473.5 905.1,1472.3 905.3,1470.7 905.6,1469.2 905.6,1469.1 905.8,1467.6 906.1,1466 906.3,1464.3 906.3,1464.3 906.6,1462.5 906.9,1460.8 907.1,1459.1 907.1,1458.9 907.4,1457.1 907.6,1455.1 907.8,1453.5 907.9,1453.2 908.1,1451.1 908.4,1449 908.6,1447.3 908.7,1446.8 908.9,1444.6 909.2,1442.3 909.3,1440.7 909.4,1440 909.7,1437.5 909.9,1435 910.1,1433.4 910.2,1432.4 910.4,1429.7 910.7,1427 910.9,1425.4 911,1424.1 911.2,1421.2 911.5,1418.1 911.6,1416.6 911.7,1415 912,1411.7 912.2,1408.3 912.4,1406.8 912.5,1404.8 912.8,1401.2 913,1397.5 913.1,1396.1 913.3,1393.6 913.5,1389.6 913.8,1385.4 913.9,1384.2 914,1381.1 914.3,1376.6 914.6,1372 914.6,1370.9 914.8,1367.2 915.1,1362.2 915.3,1357 915.4,1356.2 915.6,1351.7 915.8,1346.1 916.1,1340.4 916.1,1339.9 916.3,1334.5 916.6,1328.4 916.9,1322.1 916.9,1322 917.1,1315.6 917.4,1309 917.6,1302.5 917.6,1302.1 917.9,1295.2 918.1,1288.1 918.4,1281.8 918.4,1280.9 918.7,1273.7 918.9,1266.4 919.1,1260.5 919.2,1259.1 919.4,1251.9 919.7,1244.8 919.9,1239.6 919.9,1237.8 920.2,1231.2 920.4,1224.8 920.6,1220.7 920.7,1218.8 921,1213.3 921.2,1208.4 921.4,1205.7 921.5,1204 921.7,1200.4 922,1197.4 922.1,1196.2 922.2,1195.3 922.5,1194 922.8,1193.5 922.9,1193.6 923,1193.9 923.3,1195.1 923.5,1197.1 923.6,1198.1 923.8,1199.9 924,1203.4 924.3,1207.6 924.4,1209.1 924.6,1212.3 924.8,1217.6 925.1,1223.4 925.1,1224.9 925.3,1229.5 925.6,1235.9 925.8,1242.5 925.9,1243.8 926.1,1249.3 926.3,1256.2 926.6,1263.2 926.6,1264 926.9,1270.1 927.1,1277 927.4,1283.9 927.4,1284.2 927.6,1290.6 927.9,1297.3 928.1,1303.7 928.1,1303.8 928.4,1310.1 928.7,1316.3 928.9,1321.8 928.9,1322.3 929.2,1328.1 929.4,1333.8 929.6,1338.4 929.7,1339.3 929.9,1344.6 930.2,1349.7 930.4,1353.6 930.4,1354.7 930.7,1359.5 931,1364.1 931.1,1367.3 931.2,1368.6 931.5,1373 931.7,1377.2 931.9,1379.8 932,1381.2 932.2,1385.1 932.5,1388.9 932.6,1391 932.8,1392.6 933,1396.2 933.3,1399.6 933.4,1401.3 933.5,1402.9 933.8,1406.2 934,1409.3 934.1,1410.6 934.3,1412.4 934.6,1415.3 934.8,1418.2 934.9,1419.2 935.1,1421 935.3,1423.7 935.6,1426.3 935.7,1427.1 935.8,1428.9 936.1,1431.4 936.3,1433.8 936.4,1434.3 936.6,1436.2 936.9,1438.5 937.1,1440.7 937.2,1441.1 937.4,1442.9 937.6,1445 937.9,1447.1 937.9,1447.3 938.1,1449.2 938.4,1451.1 938.7,1453.1 938.7,1453.1 938.9,1455 939.2,1456.8 939.4,1458.5 939.4,1458.6 939.7,1460.4 939.9,1462.1 940.2,1463.5 940.2,1463.7 940.5,1465.4 940.7,1467 940.9,1468.3 941,1468.6 941.2,1470.1 941.5,1471.6 941.7,1472.7 941.7,1473.1 942,1474.5 942.2,1475.9 942.4,1476.8 942.5,1477.3 942.8,1478.6 943,1479.9 943.2,1480.7 943.9,1484.3 944.7,1487.7 945.4,1490.9 946.2,1493.9 946.9,1496.7 947.7,1499.4 948.4,1501.8 949.2,1504.2 949.9,1506.3 950.7,1508.4 951.4,1510.3 952.2,1512 952.9,1513.7 953.7,1515.2 954.4,1516.7 955.2,1518.1 955.9,1519.3 956.7,1520.5 957.4,1521.6 958.2,1522.7 959,1523.6 959.7,1524.5 960.5,1525.4 961.2,1526.2 962,1526.9 962.7,1527.6 963.5,1528.3 964.2,1528.9 965,1529.5 965.7,1530 966.5,1530.5 967.2,1531 968,1531.5 968.7,1531.9 969.5,1532.3 970.2,1532.7 971,1533.1 971.7,1533.4 972.5,1533.8 973.2,1534.1 974,1534.4 974.7,1534.7 975.5,1535 976.2,1535.3 977,1535.5 977.7,1535.8 978.5,1536 979.2,1536.2 980,1536.5 980.7,1536.7 981.5,1536.9 982.3,1537.1 983,1537.3 983.8,1537.4 984.5,1537.6 985.3,1537.8 986,1538 986.8,1538.1 987.5,1538.3 988.3,1538.4 989,1538.6 989.8,1538.7 990.5,1538.8 991.3,1539 992,1539.1 992.8,1539.2 993.5,1539.4 994.3,1539.5 995,1539.6 995.8,1539.7 996.5,1539.8 997.3,1539.9 998,1540 998.8,1540.1 999.5,1540.2 1000.3,1540.3 1001,1540.4 1001.8,1540.5 1002.5,1540.6 1003.3,1540.6 1004,1540.7 1004.8,1540.8 1005.6,1540.9 1006.3,1541 1007.1,1541 1007.8,1541.1 1008.6,1541.2 1009.3,1541.2 1010.1,1541.3 1010.8,1541.4 1011.6,1541.4 1012.3,1541.5 1013.1,1541.6 1013.8,1541.6 1014.6,1541.7 1015.3,1541.7 1016.1,1541.8 1016.8,1541.9 1017.6,1541.9 1018.3,1542 1019.1,1542 1019.8,1542.1 1020.6,1542.1 1021.3,1542.2 1022.1,1542.2 1022.8,1542.3 1023.6,1542.3 1024.3,1542.3 1025.1,1542.4 1025.8,1542.4 1026.6,1542.5 1027.3,1542.5 1028.1,1542.6 1028.9,1542.6 1029.6,1542.6 1030.4,1542.7 1031.1,1542.7 1031.9,1542.7 1032.6,1542.8 1033.4,1542.8 1034.1,1542.8 1034.9,1542.9 1035.6,1542.9 1036.4,1542.9 1037.1,1543 1037.9,1543 1038.6,1543 1039.4,1543.1 1040.1,1543.1 1040.9,1543.1 1041.6,1543.2 1042.4,1543.2 1043.1,1543.2 1043.9,1543.3 1044.6,1543.3 1045.4,1543.3 1046.1,1543.3 1046.9,1543.4 1047.6,1543.4 1048.4,1543.4 1049.1,1543.4 1049.9,1543.5 1050.6,1543.5 1051.4,1543.5 1052.2,1543.5 1052.9,1543.6 1053.7,1543.6 1054.4,1543.6 1055.2,1543.6 1055.9,1543.7 1056.7,1543.7 1057.4,1543.7 1058.2,1543.7 1058.9,1543.7 1059.7,1543.8 1060.4,1543.8 1061.2,1543.8 1061.9,1543.8 1062.7,1543.8 1063.4,1543.9 1064.2,1543.9 1064.9,1543.9 1065.7,1543.9 1066.4,1543.9 1067.2,1544 1067.9,1544 1068.7,1544 1069.4,1544 1070.2,1544 1070.9,1544 1071.7,1544.1 1072.4,1544.1 1073.2,1544.1 1073.9,1544.1 1074.7,1544.1 1075.4,1544.2 1076.2,1544.2 1077,1544.2 1077.7,1544.2 1078.5,1544.2 1079.2,1544.2 1080,1544.2 1080.7,1544.3 1081.5,1544.3 1082.2,1544.3 1083,1544.3 1083.7,1544.3 1084.5,1544.3 1085.2,1544.4 1086,1544.4 1086.7,1544.4 1087.5,1544.4 1088.2,1544.4 1089,1544.4 1089.7,1544.4 1090.5,1544.5 1091.2,1544.5 1092,1544.5 1092.7,1544.5 1093.5,1544.5 1094.2,1544.5 1095,1544.5 1095.7,1544.5 1096.5,1544.6 1097.2,1544.6 1098,1544.6 1098.7,1544.6 1099.5,1544.6 1100.3,1544.6 1101,1544.6 1101.8,1544.6 1102.5,1544.7 1103.3,1544.7 1104,1544.7 1104.8,1544.7 1105.5,1544.7 1106.3,1544.7 1107,1544.7 1107.8,1544.7 1108.5,1544.8 1109.3,1544.8 1110,1544.8 1110.8,1544.8 1111.5,1544.8 1112.3,1544.8 1113,1544.8 1113.8,1544.8 1114.5,1544.8 1115.3,1544.9 1116,1544.9 1116.8,1544.9 1117.5,1544.9 1118.3,1544.9 1119,1544.9 1119.8,1544.9 1120.5,1544.9 1121.3,1544.9 1122,1544.9 1122.8,1545 1123.6,1545 1124.3,1545 1125.1,1545 1125.8,1545 1126.6,1545 1127.3,1545 1128.1,1545 1128.8,1545 1129.6,1545 1130.3,1545.1 1131.1,1545.1 1131.8,1545.1 1132.6,1545.1"/>
</g>
<path d="M717.35 1575v-6.94M717.35 1175.29v6.94M819.93 1575v-6.94M819.93 1175.29v6.94M922.5 1575v-6.94M922.5 1175.29v6.94M1025.07 1575v-6.94M1025.07 1175.29v6.94M1127.65 1575v-6.94M1127.65 1175.29v6.94M717.35 1556.9h6.94M1127.65 1556.9h-6.94M717.35 1433.8h6.94M1127.65 1433.8h-6.94M717.35 1310.7h6.94M1127.65 1310.7h-6.94M717.35 1187.6h6.94M1127.65 1187.6h-6.94" stroke="#000" stroke-width="2" fill="none"/>
<rect x="717.35" y="1175.29" width="410.29" height="399.71" fill="none" stroke="#000" stroke-width="2"/>
<g class="tl" text-anchor="middle">
<text x="717.35" y="1608.5">−10</text>
<text x="819.93" y="1608.5">−5</text>
<text x="922.5" y="1608.5">0</text>
<text x="1025.07" y="1608.5">5</text>
<text x="1127.65" y="1608.5">10</text>
</g>
<g class="tl" text-anchor="end">
<text x="709.75" y="1569.8">0</text>
<text x="709.75" y="1446.7">1</text>
<text x="709.75" y="1323.6">2</text>
<text x="709.75" y="1200.5">3</text>
</g>
<text class="tt" text-anchor="middle" x="922.5" y="1163.29" fill="#3c049b">+ 684 d</text>
</g>
<g class="panel">
<g clip-path="url(#c8)" fill="none" stroke-linejoin="round" stroke-linecap="square">
<polyline stroke="#0d0887" stroke-width="5.56" points="1204.8,1547.5 1205.5,1547.7 1206.3,1547.9 1207,1548.3 1207.8,1548.5 1208.5,1548.2 1209.3,1547.6 1210,1546.9 1210.8,1546.7 1211.5,1546.9 1212.3,1547.2 1213,1547.4 1213.8,1547.3 1214.6,1547.3 1215.3,1547.3 1216.1,1547.4 1216.8,1547.3 1217.6,1546.8 1218.3,1546.3 1219.1,1546 1219.8,1545.6 1220.6,1545.2 1221.3,1544.9 1222.1,1544.7 1222.8,1544.7 1223.6,1545.1 1224.3,1545.6 1225.1,1546.1 1225.8,1546.3 1226.6,1546.3 1227.3,1546.4 1228.1,1546.7 1228.8,1547 1229.6,1547.3 1230.3,1547.4 1231.1,1547.5 1231.8,1547.8 1232.6,1548.2 1233.3,1548.3 1234.1,1548.2 1234.8,1547.9 1235.6,1547.8 1236.3,1548.1 1237.1,1548.2 1237.9,1548.1 1238.6,1548 1239.4,1548.1 1240.1,1548.3 1240.9,1548.2 1241.6,1548 1242.4,1547.9 1243.1,1548 1243.9,1548 1244.6,1547.9 1245.4,1547.7 1246.1,1547.6 1246.9,1547.4 1247.6,1547.3 1248.4,1547.6 1249.1,1547.9 1249.9,1548 1250.6,1547.8 1251.4,1547.6 1252.1,1547.6 1252.9,1547.8 1253.6,1548.2 1254.4,1548.5 1255.1,1548.4 1255.9,1548.1 1256.6,1548 1257.4,1548 1258.1,1547.8 1258.9,1547.5 1259.6,1547.4 1260.4,1547.5 1261.2,1547.5 1261.9,1547.4 1262.7,1547.3 1263.4,1547.3 1264.2,1547.5 1264.9,1547.6 1265.7,1547.5 1266.4,1547.2 1267.2,1546.9 1267.9,1546.5 1268.7,1546.4 1269.4,1546.5 1270.2,1546.9 1270.9,1547.2 1271.7,1547.2 1272.4,1547 1273.2,1546.8 1273.9,1546.8 1274.7,1547 1275.4,1547.1 1276.2,1547.1 1276.9,1547 1277.7,1546.8 1278.4,1546.8 1279.2,1547 1279.9,1547.2 1280.7,1547.2 1281.4,1546.8 1282.2,1546.5 1282.9,1546.3 1283.7,1546.3 1284.5,1546.2 1285.2,1545.9 1286,1545.2 1286.7,1544.4 1287.5,1543.5 1288.2,1542.7 1289,1542.2 1289.7,1542.2 1290.5,1542.5 1291.2,1543.2 1292,1543.8 1292.7,1544.2 1293.5,1544.7 1294.2,1545.2 1295,1545.7 1295.7,1546.1 1296.5,1546.4 1297.2,1546.5 1298,1546.4 1298.7,1546.3 1299.5,1546.3 1300.2,1546.5 1301,1546.9 1301.7,1547.3 1302.5,1547.4 1303.2,1547.1 1304,1546.7 1304.7,1546.7 1305.5,1547 1306.2,1547 1307,1546.5 1307.8,1545.7 1308.5,1544.8 1309.3,1544 1310,1543.3 1310.8,1542.8 1311.5,1542.3 1312.3,1541.8 1313,1541.2 1313.8,1540.8 1314.5,1541 1315.3,1541.8 1316,1543 1316.8,1544.1 1317.5,1544.9 1318.3,1545.5 1319,1545.8 1319.8,1545.8 1320.5,1545.9 1321.3,1545.9 1322,1545.9 1322.8,1546 1323.5,1546.3 1324.3,1546.7 1325,1546.7 1325.8,1546.6 1326.5,1546.6 1327.3,1546.6 1328,1546.4 1328.8,1546.1 1329.5,1546 1330.3,1546.1 1331.1,1546.4 1331.8,1546.8 1332.6,1547.4 1333.3,1547.6 1334.1,1547.1 1334.8,1546.5 1335.6,1546.1 1336.3,1545.9 1337.1,1545.7 1337.8,1545.6 1338.6,1545.6 1339.3,1545.8 1340.1,1545.9 1340.8,1545.7 1341.6,1545.3 1342.3,1545 1343.1,1544.8 1343.8,1544.7 1344.6,1544.6 1345.3,1544.6 1346.1,1544.7 1346.8,1544.9 1347.6,1544.9 1348.3,1544.9 1349.1,1544.7 1349.8,1544.6 1350.6,1544.6 1351.3,1544.8 1352.1,1544.9 1352.8,1544.9 1353.6,1544.7 1354.3,1544.6 1355.1,1544.8 1355.9,1545.3 1356.6,1545.8 1357.4,1546.2 1358.1,1546.4 1358.9,1546.6 1359.6,1546.6 1360.4,1546.7 1361.1,1546.9 1361.9,1547.1 1362.6,1547.1 1363.4,1547 1364.1,1547.1 1364.9,1547.6 1365.6,1548.3 1366.4,1548.9 1367.1,1549.2 1367.9,1549.4 1368.6,1549.4 1369.4,1549.2 1370.1,1548.9 1370.9,1548.4 1371.6,1547.5 1372.4,1546.6 1373.1,1545.8 1373.9,1545.3 1374.6,1544.8 1375.4,1544 1376.1,1543 1376.9,1541.9 1377.6,1540.6 1378.4,1539.2 1379.2,1538 1379.9,1537 1380.7,1536 1381.4,1534.7 1382.2,1533.2 1382.9,1531.9 1383.7,1531.1 1384.4,1530.8 1385.2,1530.6 1385.9,1530.3 1386.7,1529.5 1387.4,1528.1 1388.2,1526.2 1388.9,1524.3 1389.7,1522.7 1390.4,1521.2 1391.2,1519.4 1391.9,1517.3 1392.7,1515.1 1393.4,1512.9 1394.2,1510.7 1394.3,1510.2 1394.6,1509.4 1394.9,1508.5 1394.9,1508.2 1395.1,1507.6 1395.4,1506.7 1395.6,1505.7 1395.7,1505.5 1395.9,1504.8 1396.1,1503.8 1396.4,1502.8 1396.4,1502.6 1396.6,1501.7 1396.9,1500.7 1397.2,1499.6 1397.2,1499.4 1397.4,1498.4 1397.7,1497.2 1397.9,1496 1397.9,1495.9 1398.2,1494.6 1398.4,1493.3 1398.7,1491.9 1398.7,1491.8 1399,1490.3 1399.2,1488.8 1399.4,1487.3 1399.5,1487.2 1399.7,1485.5 1400,1483.8 1400.2,1482.3 1400.2,1482 1400.5,1480.1 1400.7,1478.2 1400.9,1476.6 1401,1476.2 1401.3,1474.1 1401.5,1471.9 1401.7,1470.3 1401.8,1469.6 1402,1467.3 1402.3,1464.9 1402.5,1463.3 1402.5,1462.4 1402.8,1459.8 1403.1,1457.2 1403.2,1455.7 1403.3,1454.5 1403.6,1451.7 1403.8,1448.7 1404,1447.2 1404.1,1445.7 1404.3,1442.5 1404.6,1439.3 1404.7,1437.8 1404.9,1435.9 1405.1,1432.3 1405.4,1428.7 1405.5,1427.4 1405.6,1425 1405.9,1421.1 1406.1,1417.1 1406.2,1415.9 1406.4,1413 1406.6,1408.8 1406.9,1404.5 1407,1403.6 1407.2,1400.2 1407.4,1395.7 1407.7,1391.1 1407.7,1390.4 1407.9,1386.5 1408.2,1381.7 1408.4,1376.9 1408.5,1376.4 1408.7,1372 1409,1367 1409.2,1362 1409.2,1361.9 1409.5,1356.9 1409.7,1351.8 1410,1347 1410,1346.7 1410.2,1341.6 1410.5,1336.4 1410.7,1331.9 1410.8,1331.3 1411,1326.1 1411.3,1320.9 1411.5,1316.6 1411.5,1315.6 1411.8,1310 1412,1304 1412.2,1299.1 1412.3,1297.2 1412.5,1289.1 1412.8,1279.2 1413,1271.3 1413.1,1267 1413.3,1252.3 1413.6,1235.5 1413.7,1224.9 1413.8,1218 1414.1,1202.7 1414.3,1194.3 1414.5,1193.9 1414.6,1196.1 1414.9,1207.2 1415.1,1223.3 1415.2,1231.3 1415.4,1240.2 1415.6,1255.8 1415.9,1268.9 1416,1273.4 1416.1,1279.6 1416.4,1288.2 1416.6,1295.3 1416.7,1297.3 1416.9,1301.3 1417.2,1306.7 1417.4,1311.8 1417.5,1313.1 1417.7,1316.7 1417.9,1321.7 1418.2,1326.6 1418.2,1327.6 1418.4,1331.6 1418.7,1336.6 1419,1341.6 1419,1342.2 1419.2,1346.6 1419.5,1351.7 1419.7,1356.7 1419.7,1356.9 1420,1361.6 1420.2,1366.6 1420.5,1371.4 1420.5,1371.5 1420.8,1376.3 1421,1381.1 1421.2,1385.4 1421.3,1385.8 1421.5,1390.4 1421.8,1394.9 1422,1398.7 1422,1399.4 1422.3,1403.7 1422.5,1407.9 1422.7,1411.1 1422.8,1412 1423.1,1416 1423.3,1419.8 1423.5,1422.5 1423.6,1423.6 1423.8,1427.3 1424.1,1430.9 1424.2,1433.1 1424.3,1434.4 1424.6,1437.7 1424.9,1440.9 1425,1442.7 1425.1,1444.1 1425.4,1447.1 1425.6,1450 1425.8,1451.4 1425.9,1452.8 1426.1,1455.6 1426.4,1458.2 1426.5,1459.4 1426.6,1460.8 1426.9,1463.3 1427.2,1465.7 1427.3,1466.6 1427.4,1468.1 1427.7,1470.3 1427.9,1472.5 1428,1473.1 1428.2,1474.6 1428.4,1476.6 1428.7,1478.5 1428.8,1478.9 1429,1480.4 1429.2,1482.1 1429.5,1483.7 1429.5,1484 1429.7,1485.3 1430,1486.8 1430.2,1488.1 1430.3,1488.2 1430.5,1489.4 1430.8,1490.7 1431,1491.8 1431,1491.9 1431.3,1493 1431.5,1494.1 1431.8,1495.2 1431.8,1495.3 1432,1496.4 1432.3,1497.5 1432.5,1498.4 1432.5,1498.5 1432.8,1499.6 1433.1,1500.6 1433.3,1501.4 1433.3,1501.6 1433.6,1502.6 1433.8,1503.5 1434,1504.2 1434.1,1504.4 1434.3,1505.3 1434.6,1506.1 1434.8,1506.7 1434.9,1507 1435.1,1507.7 1435.4,1508.5 1435.5,1509 1436.3,1511.2 1437,1513.5 1437.8,1515.8 1438.5,1518 1439.3,1520.1 1440,1521.9 1440.8,1523.5 1441.5,1524.6 1442.3,1525.5 1443,1526.5 1443.8,1527.7 1444.5,1528.7 1445.3,1529.4 1446,1530.2 1446.8,1531.3 1447.5,1532.3 1448.3,1533.3 1449.1,1534.2 1449.8,1534.7 1450.6,1535.1 1451.3,1535.4 1452.1,1535.9 1452.8,1536.3 1453.6,1536.7 1454.3,1536.9 1455.1,1537.2 1455.8,1537.6 1456.6,1538.3 1457.3,1539.1 1458.1,1539.4 1458.8,1539.5 1459.6,1539.8 1460.3,1540.4 1461.1,1541.1 1461.8,1541.6 1462.6,1541.8 1463.3,1541.8 1464.1,1541.7 1464.8,1541.6 1465.6,1541.7 1466.3,1542.1 1467.1,1542.6 1467.8,1542.8 1468.6,1542.9 1469.3,1542.9 1470.1,1543 1470.8,1543.3 1471.6,1543.6 1472.3,1543.8 1473.1,1544 1473.9,1544.3 1474.6,1544.5 1475.4,1544.6 1476.1,1544.6 1476.9,1544.6 1477.6,1544.5 1478.4,1544.4 1479.1,1544.3 1479.9,1544.3 1480.6,1544.4 1481.4,1544.6 1482.1,1544.7 1482.9,1544.6 1483.6,1544.3 1484.4,1544.1 1485.1,1544.2 1485.9,1544.7 1486.6,1545.1 1487.4,1545.2 1488.1,1545.1 1488.9,1545.3 1489.6,1545.8 1490.4,1546.3 1491.1,1546.8 1491.9,1546.9 1492.6,1546.8 1493.4,1546.5 1494.1,1546.2 1494.9,1546.2 1495.6,1546.3 1496.4,1546.3 1497.2,1546.3 1497.9,1546.4 1498.7,1546.5 1499.4,1546.7 1500.2,1546.7 1500.9,1546.3 1501.7,1545.7 1502.4,1545.4 1503.2,1545.6 1503.9,1546.2 1504.7,1546.5 1505.4,1546.3 1506.2,1545.8 1506.9,1545.5 1507.7,1545.5 1508.4,1545.7 1509.2,1546.2 1509.9,1546.5 1510.7,1546.7 1511.4,1546.8 1512.2,1546.8 1512.9,1546.8 1513.7,1546.6 1514.4,1546.3 1515.2,1546 1515.9,1546.2 1516.7,1546.7 1517.4,1547.1 1518.2,1547.2 1518.9,1547 1519.7,1546.8 1520.5,1546.6 1521.2,1546.4 1522,1546.6 1522.7,1547 1523.5,1547.3 1524.2,1547.5 1525,1547.5 1525.7,1547.5 1526.5,1547.5 1527.2,1547.6 1528,1547.6 1528.7,1547.7 1529.5,1547.9 1530.2,1548.1 1531,1548.1 1531.7,1547.8 1532.5,1547.9 1533.2,1548 1534,1547.8 1534.7,1547.3 1535.5,1546.7 1536.2,1546.5 1537,1546.9 1537.7,1547.4 1538.5,1547.7 1539.2,1547.6 1540,1547.6 1540.7,1547.8 1541.5,1548.2 1542.2,1548.5 1543,1548.5 1543.8,1548.3 1544.5,1548.2 1545.3,1548 1546,1547.8 1546.8,1547.8 1547.5,1547.9 1548.3,1548 1549,1547.7 1549.8,1547.3 1550.5,1546.9 1551.3,1546.7 1552,1546.1 1552.8,1545 1553.5,1543.7 1554.3,1542.7 1555,1542.2 1555.8,1542.4 1556.5,1543.2 1557.3,1544.4 1558,1545.6 1558.8,1546.6 1559.5,1547.4 1560.3,1548 1561,1548.5 1561.8,1548.9 1562.5,1548.9 1563.3,1548.5 1564,1547.9 1564.8,1547.2 1565.5,1546.3 1566.3,1545.2 1567.1,1544.3 1567.8,1544 1568.6,1544.5 1569.3,1545.7 1570.1,1547 1570.8,1548 1571.6,1548.6 1572.3,1548.8 1573.1,1548.7 1573.8,1548.3 1574.6,1547.8 1575.3,1547.6 1576.1,1547.7 1576.8,1548 1577.6,1548.3 1578.3,1548.5 1579.1,1548.5 1579.8,1548.5 1580.6,1548.2 1581.3,1547.8 1582.1,1547.6 1582.8,1547.7 1583.6,1548.2 1584.3,1548.8 1585.1,1549 1585.8,1548.5 1586.6,1547.9 1587.3,1547.8 1588.1,1548 1588.8,1548.2 1589.6,1548.3 1590.4,1548.4 1591.1,1548.4 1591.9,1548.3 1592.6,1548 1593.4,1547.6 1594.1,1547.4 1594.9,1547.6 1595.6,1547.9 1596.4,1547.9 1597.1,1547.8 1597.9,1547.9 1598.6,1548.4 1599.4,1549 1600.1,1549.4 1600.9,1549.4 1601.6,1549.2 1602.4,1548.9 1603.1,1548.9 1603.9,1548.7 1604.6,1548.5 1605.4,1548.2 1606.1,1547.9 1606.9,1547.7 1607.6,1547.7 1608.4,1547.9 1609.1,1548.3 1609.9,1548.5 1610.6,1548.5 1611.4,1548.4 1612.1,1548.5 1612.9,1548.6 1613.6,1548.6 1614.4,1548.2 1615.2,1547.9 1615.9,1547.7 1616.7,1547.8 1617.4,1547.8 1618.2,1547.8 1618.9,1547.9 1619.7,1548.2 1620.4,1548.4 1621.2,1548.6 1621.9,1548.5 1622.7,1548.2 1623.4,1548 1624.2,1548 1624.9,1548.1"/>
<polyline stroke="#f00" stroke-opacity="0.6" stroke-width="8.33" points="1204.8,1547.8 1205.5,1547.8 1206.3,1547.8 1207,1547.8 1207.8,1547.8 1208.5,1547.8 1209.3,1547.8 1210,1547.8 1210.8,1547.8 1211.5,1547.8 1212.3,1547.8 1213,1547.8 1213.8,1547.8 1214.6,1547.8 1215.3,1547.8 1216.1,1547.8 1216.8,1547.8 1217.6,1547.8 1218.3,1547.8 1219.1,1547.8 1219.8,1547.8 1220.6,1547.8 1221.3,1547.8 1222.1,1547.8 1222.8,1547.8 1223.6,1547.8 1224.3,1547.8 1225.1,1547.8 1225.8,1547.8 1226.6,1547.8 1227.3,1547.8 1228.1,1547.8 1228.8,1547.8 1229.6,1547.8 1230.3,1547.8 1231.1,1547.8 1231.8,1547.8 1232.6,1547.8 1233.3,1547.7 1234.1,1547.7 1234.8,1547.7 1235.6,1547.7 1236.3,1547.7 1237.1,1547.7 1237.9,1547.7 1238.6,1547.7 1239.4,1547.7 1240.1,1547.7 1240.9,1547.7 1241.6,1547.7 1242.4,1547.7 1243.1,1547.7 1243.9,1547.7 1244.6,1547.7 1245.4,1547.7 1246.1,1547.7 1246.9,1547.7 1247.6,1547.7 1248.4,1547.7 1249.1,1547.7 1249.9,1547.7 1250.6,1547.7 1251.4,1547.7 1252.1,1547.7 1252.9,1547.7 1253.6,1547.7 1254.4,1547.7 1255.1,1547.6 1255.9,1547.6 1256.6,1547.6 1257.4,1547.6 1258.1,1547.6 1258.9,1547.6 1259.6,1547.6 1260.4,1547.6 1261.2,1547.6 1261.9,1547.6 1262.7,1547.6 1263.4,1547.6 1264.2,1547.6 1264.9,1547.6 1265.7,1547.6 1266.4,1547.6 1267.2,1547.6 1267.9,1547.6 1268.7,1547.5 1269.4,1547.5 1270.2,1547.5 1270.9,1547.5 1271.7,1547.5 1272.4,1547.5 1273.2,1547.5 1273.9,1547.5 1274.7,1547.5 1275.4,1547.5 1276.2,1547.5 1276.9,1547.5 1277.7,1547.5 1278.4,1547.5 1279.2,1547.4 1279.9,1547.4 1280.7,1547.4 1281.4,1547.4 1282.2,1547.4 1282.9,1547.4 1283.7,1547.4 1284.5,1547.4 1285.2,1547.4 1286,1547.4 1286.7,1547.4 1287.5,1547.3 1288.2,1547.3 1289,1547.3 1289.7,1547.3 1290.5,1547.3 1291.2,1547.3 1292,1547.3 1292.7,1547.3 1293.5,1547.3 1294.2,1547.2 1295,1547.2 1295.7,1547.2 1296.5,1547.2 1297.2,1547.2 1298,1547.2 1298.7,1547.2 1299.5,1547.1 1300.2,1547.1 1301,1547.1 1301.7,1547.1 1302.5,1547.1 1303.2,1547.1 1304,1547.1 1304.7,1547 1305.5,1547 1306.2,1547 1307,1547 1307.8,1547 1308.5,1546.9 1309.3,1546.9 1310,1546.9 1310.8,1546.9 1311.5,1546.9 1312.3,1546.8 1313,1546.8 1313.8,1546.8 1314.5,1546.8 1315.3,1546.8 1316,1546.7 1316.8,1546.7 1317.5,1546.7 1318.3,1546.7 1319,1546.6 1319.8,1546.6 1320.5,1546.6 1321.3,1546.6 1322,1546.5 1322.8,1546.5 1323.5,1546.5 1324.3,1546.4 1325,1546.4 1325.8,1546.4 1326.5,1546.3 1327.3,1546.3 1328,1546.3 1328.8,1546.2 1329.5,1546.2 1330.3,1546.2 1331.1,1546.1 1331.8,1546.1 1332.6,1546 1333.3,1546 1334.1,1545.9 1334.8,1545.9 1335.6,1545.9 1336.3,1545.8 1337.1,1545.8 1337.8,1545.7 1338.6,1545.7 1339.3,1545.6 1340.1,1545.5 1340.8,1545.5 1341.6,1545.4 1342.3,1545.4 1343.1,1545.3 1343.8,1545.2 1344.6,1545.2 1345.3,1545.1 1346.1,1545 1346.8,1544.9 1347.6,1544.9 1348.3,1544.8 1349.1,1544.7 1349.8,1544.6 1350.6,1544.5 1351.3,1544.4 1352.1,1544.3 1352.8,1544.2 1353.6,1544.1 1354.3,1544 1355.1,1543.9 1355.9,1543.8 1356.6,1543.7 1357.4,1543.5 1358.1,1543.4 1358.9,1543.3 1359.6,1543.1 1360.4,1543 1361.1,1542.8 1361.9,1542.6 1362.6,1542.5 1363.4,1542.3 1364.1,1542.1 1364.9,1541.9 1365.6,1541.7 1366.4,1541.5 1367.1,1541.2 1367.9,1541 1368.6,1540.7 1369.4,1540.5 1370.1,1540.2 1370.9,1539.9 1371.6,1539.6 1372.4,1539.3 1373.1,1538.9 1373.9,1538.6 1374.6,1538.2 1375.4,1537.8 1376.1,1537.3 1376.9,1536.9 1377.6,1536.4 1378.4,1535.9 1379.2,1535.4 1379.9,1534.8 1380.7,1534.2 1381.4,1533.5 1382.2,1532.9 1382.9,1532.1 1383.7,1531.4 1384.4,1530.5 1385.2,1529.6 1385.9,1528.7 1386.7,1527.7 1387.4,1526.6 1388.2,1525.4 1388.9,1524.2 1389.7,1522.8 1390.4,1521.3 1391.2,1519.8 1391.9,1518 1392.7,1516.1 1393.4,1514.1 1394.2,1511.8 1394.3,1511.3 1394.6,1510.5 1394.9,1509.6 1394.9,1509.3 1395.1,1508.7 1395.4,1507.8 1395.6,1506.8 1395.7,1506.6 1395.9,1505.8 1396.1,1504.8 1396.4,1503.7 1396.4,1503.5 1396.6,1502.6 1396.9,1501.5 1397.2,1500.3 1397.2,1500.2 1397.4,1499.1 1397.7,1497.8 1397.9,1496.5 1397.9,1496.4 1398.2,1495.1 1398.4,1493.7 1398.7,1492.3 1398.7,1492.3 1399,1490.7 1399.2,1489.2 1399.4,1487.7 1399.5,1487.5 1399.7,1485.8 1400,1484.1 1400.2,1482.5 1400.2,1482.3 1400.5,1480.4 1400.7,1478.4 1400.9,1476.8 1401,1476.4 1401.3,1474.3 1401.5,1472.1 1401.7,1470.5 1401.8,1469.8 1402,1467.5 1402.3,1465 1402.5,1463.4 1402.5,1462.5 1402.8,1459.9 1403.1,1457.2 1403.2,1455.6 1403.3,1454.4 1403.6,1451.5 1403.8,1448.6 1404,1447 1404.1,1445.5 1404.3,1442.3 1404.6,1439 1404.7,1437.5 1404.9,1435.6 1405.1,1432.1 1405.4,1428.5 1405.5,1427.1 1405.6,1424.7 1405.9,1420.9 1406.1,1416.9 1406.2,1415.8 1406.4,1412.9 1406.6,1408.7 1406.9,1404.5 1407,1403.5 1407.2,1400.1 1407.4,1395.6 1407.7,1391 1407.7,1390.3 1407.9,1386.4 1408.2,1381.6 1408.4,1376.8 1408.5,1376.4 1408.7,1371.9 1409,1366.9 1409.2,1361.9 1409.2,1361.8 1409.5,1356.9 1409.7,1351.8 1410,1346.9 1410,1346.6 1410.2,1341.5 1410.5,1336.4 1410.7,1331.8 1410.8,1331.2 1411,1326 1411.3,1320.8 1411.5,1316.5 1411.5,1315.5 1411.8,1310 1412,1303.9 1412.2,1299 1412.3,1297.1 1412.5,1289 1412.8,1279.1 1413,1271.2 1413.1,1266.9 1413.3,1252.2 1413.6,1235.4 1413.7,1224.7 1413.8,1217.8 1414.1,1202.5 1414.3,1194.1 1414.5,1193.7 1414.6,1195.9 1414.9,1207 1415.1,1223.1 1415.2,1231.1 1415.4,1240 1415.6,1255.6 1415.9,1268.8 1416,1273.3 1416.1,1279.5 1416.4,1288.2 1416.6,1295.2 1416.7,1297.3 1416.9,1301.3 1417.2,1306.7 1417.4,1311.8 1417.5,1313.1 1417.7,1316.8 1417.9,1321.7 1418.2,1326.7 1418.2,1327.6 1418.4,1331.6 1418.7,1336.6 1419,1341.7 1419,1342.3 1419.2,1346.7 1419.5,1351.7 1419.7,1356.7 1419.7,1357 1420,1361.7 1420.2,1366.7 1420.5,1371.5 1420.5,1371.6 1420.8,1376.4 1421,1381.2 1421.2,1385.5 1421.3,1385.9 1421.5,1390.5 1421.8,1395 1422,1398.7 1422,1399.4 1422.3,1403.7 1422.5,1407.9 1422.7,1411.1 1422.8,1412.1 1423.1,1416.1 1423.3,1420 1423.5,1422.7 1423.6,1423.8 1423.8,1427.5 1424.1,1431 1424.2,1433.3 1424.3,1434.5 1424.6,1437.9 1424.9,1441.1 1425,1442.9 1425.1,1444.3 1425.4,1447.3 1425.6,1450.3 1425.8,1451.7 1425.9,1453.1 1426.1,1455.9 1426.4,1458.6 1426.5,1459.7 1426.6,1461.2 1426.9,1463.6 1427.2,1466 1427.3,1466.9 1427.4,1468.4 1427.7,1470.6 1427.9,1472.8 1428,1473.4 1428.2,1474.8 1428.4,1476.9 1428.7,1478.8 1428.8,1479.2 1429,1480.7 1429.2,1482.5 1429.5,1484.2 1429.5,1484.5 1429.7,1485.9 1430,1487.5 1430.2,1489.1 1430.3,1489.2 1430.5,1490.6 1430.8,1492 1431,1493.4 1431,1493.4 1431.3,1494.8 1431.5,1496.1 1431.8,1497.2 1431.8,1497.3 1432,1498.5 1432.3,1499.7 1432.5,1500.7 1432.5,1500.8 1432.8,1501.9 1433.1,1503 1433.3,1503.8 1433.3,1504 1433.6,1505 1433.8,1505.9 1434,1506.6 1434.1,1506.9 1434.3,1507.8 1434.6,1508.6 1434.8,1509.2 1434.9,1509.5 1435.1,1510.3 1435.4,1511.1 1435.5,1511.5 1436.3,1513.6 1437,1515.6 1437.8,1517.4 1438.5,1519 1439.3,1520.6 1440,1522 1440.8,1523.3 1441.5,1524.5 1442.3,1525.7 1443,1526.8 1443.8,1527.8 1444.5,1528.7 1445.3,1529.6 1446,1530.4 1446.8,1531.2 1447.5,1532 1448.3,1532.7 1449.1,1533.4 1449.8,1534 1450.6,1534.6 1451.3,1535.2 1452.1,1535.7 1452.8,1536.2 1453.6,1536.7 1454.3,1537.2 1455.1,1537.6 1455.8,1538.1 1456.6,1538.5 1457.3,1538.8 1458.1,1539.2 1458.8,1539.6 1459.6,1539.9 1460.3,1540.2 1461.1,1540.5 1461.8,1540.8 1462.6,1541.1 1463.3,1541.3 1464.1,1541.6 1464.8,1541.8 1465.6,1542 1466.3,1542.2 1467.1,1542.5 1467.8,1542.7 1468.6,1542.8 1469.3,1543 1470.1,1543.2 1470.8,1543.4 1471.6,1543.5 1472.3,1543.7 1473.1,1543.8 1473.9,1543.9 1474.6,1544.1 1475.4,1544.2 1476.1,1544.3 1476.9,1544.4 1477.6,1544.5 1478.4,1544.7 1479.1,1544.8 1479.9,1544.9 1480.6,1545 1481.4,1545 1482.1,1545.1 1482.9,1545.2 1483.6,1545.3 1484.4,1545.4 1485.1,1545.5 1485.9,1545.5 1486.6,1545.6 1487.4,1545.7 1488.1,1545.7 1488.9,1545.8 1489.6,1545.9 1490.4,1545.9 1491.1,1546 1491.9,1546 1492.6,1546.1 1493.4,1546.1 1494.1,1546.2 1494.9,1546.2 1495.6,1546.3 1496.4,1546.3 1497.2,1546.4 1497.9,1546.4 1498.7,1546.5 1499.4,1546.5 1500.2,1546.6 1500.9,1546.6 1501.7,1546.6 1502.4,1546.7 1503.2,1546.7 1503.9,1546.7 1504.7,1546.8 1505.4,1546.8 1506.2,1546.8 1506.9,1546.9 1507.7,1546.9 1508.4,1546.9 1509.2,1547 1509.9,1547 1510.7,1547 1511.4,1547.1 1512.2,1547.1 1512.9,1547.1 1513.7,1547.1 1514.4,1547.2 1515.2,1547.2 1515.9,1547.2 1516.7,1547.2 1517.4,1547.3 1518.2,1547.3 1518.9,1547.3 1519.7,1547.3 1520.5,1547.4 1521.2,1547.4 1522,1547.4 1522.7,1547.4 1523.5,1547.4 1524.2,1547.5 1525,1547.5 1525.7,1547.5 1526.5,1547.5 1527.2,1547.5 1528,1547.6 1528.7,1547.6 1529.5,1547.6 1530.2,1547.6 1531,1547.6 1531.7,1547.6 1532.5,1547.7 1533.2,1547.7 1534,1547.7 1534.7,1547.7 1535.5,1547.7 1536.2,1547.7 1537,1547.8 1537.7,1547.8 1538.5,1547.8 1539.2,1547.8 1540,1547.8 1540.7,1547.8 1541.5,1547.8 1542.2,1547.9 1543,1547.9 1543.8,1547.9 1544.5,1547.9 1545.3,1547.9 1546,1547.9 1546.8,1547.9 1547.5,1547.9 1548.3,1548 1549,1548 1549.8,1548 1550.5,1548 1551.3,1548 1552,1548 1552.8,1548 1553.5,1548 1554.3,1548 1555,1548.1 1555.8,1548.1 1556.5,1548.1 1557.3,1548.1 1558,1548.1 1558.8,1548.1 1559.5,1548.1 1560.3,1548.1 1561,1548.1 1561.8,1548.1 1562.5,1548.1 1563.3,1548.2 1564,1548.2 1564.8,1548.2 1565.5,1548.2 1566.3,1548.2 1567.1,1548.2 1567.8,1548.2 1568.6,1548.2 1569.3,1548.2 1570.1,1548.2 1570.8,1548.2 1571.6,1548.2 1572.3,1548.3 1573.1,1548.3 1573.8,1548.3 1574.6,1548.3 1575.3,1548.3 1576.1,1548.3 1576.8,1548.3 1577.6,1548.3 1578.3,1548.3 1579.1,1548.3 1579.8,1548.3 1580.6,1548.3 1581.3,1548.3 1582.1,1548.3 1582.8,1548.4 1583.6,1548.4 1584.3,1548.4 1585.1,1548.4 1585.8,1548.4 1586.6,1548.4 1587.3,1548.4 1588.1,1548.4 1588.8,1548.4 1589.6,1548.4 1590.4,1548.4 1591.1,1548.4 1591.9,1548.4 1592.6,1548.4 1593.4,1548.4 1594.1,1548.4 1594.9,1548.5 1595.6,1548.5 1596.4,1548.5 1597.1,1548.5 1597.9,1548.5 1598.6,1548.5 1599.4,1548.5 1600.1,1548.5 1600.9,1548.5 1601.6,1548.5 1602.4,1548.5 1603.1,1548.5 1603.9,1548.5 1604.6,1548.5 1605.4,1548.5 1606.1,1548.5 1606.9,1548.5 1607.6,1548.5 1608.4,1548.5 1609.1,1548.6 1609.9,1548.6 1610.6,1548.6 1611.4,1548.6 1612.1,1548.6 1612.9,1548.6 1613.6,1548.6 1614.4,1548.6 1615.2,1548.6 1615.9,1548.6 1616.7,1548.6 1617.4,1548.6 1618.2,1548.6 1618.9,1548.6 1619.7,1548.6 1620.4,1548.6 1621.2,1548.6 1621.9,1548.6 1622.7,1548.6 1623.4,1548.6 1624.2,1548.6 1624.9,1548.6"/>
</g>
<path d="M1209.71 1575v-6.94M1209.71 1175.29v6.94M1312.28 1575v-6.94M1312.28 1175.29v6.94M1414.85 1575v-6.94M1414.85 1175.29v6.94M1517.43 1575v-6.94M1517.43 1175.29v6.94M1620 1575v-6.94M1620 1175.29v6.94M1209.71 1557.79h6.94M1620 1557.79h-6.94M1209.71 1468.88h6.94M1620 1468.88h-6.94M1209.71 1379.97h6.94M1620 1379.97h-6.94M1209.71 1291.06h6.94M1620 1291.06h-6.94M1209.71 1202.15h6.94M1620 1202.15h-6.94" stroke="#000" stroke-width="2" fill="none"/>
<rect x="1209.71" y="1175.29" width="410.29" height="399.71" fill="none" stroke="#000" stroke-width="2"/>
<g class="tl" text-anchor="middle">
<text x="1209.71" y="1608.5">−10</text>
<text x="1312.28" y="1608.5">−5</text>
<text x="1414.85" y="1608.5">0</text>
<text x="1517.43" y="1608.5">5</text>
<text x="1620" y="1608.5">10</text>
</g>
<g class="tl" text-anchor="end">
<text x="1202.11" y="1570.69">0.0</text>
<text x="1202.11" y="1481.78">0.5</text>
<text x="1202.11" y="1392.87">1.0</text>
<text x="1202.11" y="1303.96">1.5</text>
<text x="1202.11" y="1215.05">2.0</text>
</g>
<text class="tt" text-anchor="middle" x="1414.85" y="1163.29" fill="#0d0887">+ 1359 d</text>
</g>
<text class="lab"><tspan class="lab" x="658.67" y="1646.70">Velocity</tspan><tspan class="lab" x="856.00" y="1646.70">[10</tspan><tspan class="sup" x="931.59" y="1627.82">3</tspan><tspan class="lab" x="968.59" y="1646.70">km</tspan><tspan class="lab" x="1054.09" y="1646.70">s</tspan><tspan class="sup" x="1078.35" y="1627.82">−1</tspan><tspan class="lab" x="1126.79" y="1646.70">]</tspan></text>
<text class="lab" transform="translate(168.50 911.00) rotate(-90)"><tspan class="lab" x="0.00" y="0.00">F</tspan><tspan class="sup" x="26.81" y="6.55">λ</tspan><tspan class="lab" x="61.66" y="0.00">[10</tspan><tspan class="sup" x="138.32" y="-18.08">−15</tspan><tspan class="lab" x="207.31" y="0.00">]</tspan></text>
</svg>
</body>
</html>
